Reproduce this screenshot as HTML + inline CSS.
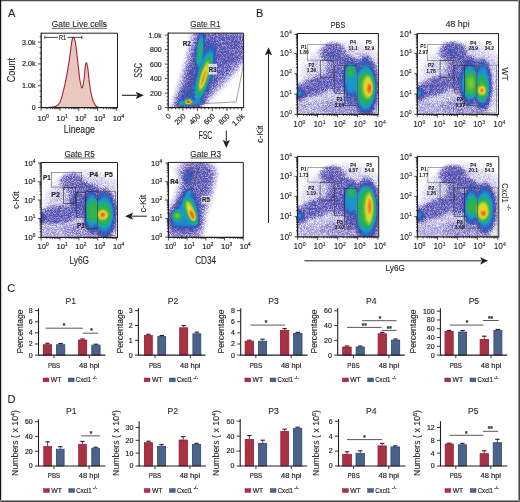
<!DOCTYPE html>
<html><head><meta charset="utf-8"><style>html,body{margin:0;padding:0;background:#fff;} svg{display:block;} text{font-family:"Liberation Sans", sans-serif;}</style></head>
<body><svg width="520" height="502" viewBox="0 0 520 502" font-family='"Liberation Sans", sans-serif' style="will-change:transform">
<defs><radialGradient id="gg"><stop offset="0" stop-color="#fff" stop-opacity="1"/><stop offset="0.2" stop-color="#fff" stop-opacity="0.906"/><stop offset="0.4" stop-color="#fff" stop-opacity="0.674"/><stop offset="0.6" stop-color="#fff" stop-opacity="0.411"/><stop offset="0.8" stop-color="#fff" stop-opacity="0.19"/><stop offset="1" stop-color="#fff" stop-opacity="0"/></radialGradient><radialGradient id="gf"><stop offset="0" stop-color="#fff" stop-opacity="1"/><stop offset="0.55" stop-color="#fff" stop-opacity="0.97"/><stop offset="0.75" stop-color="#fff" stop-opacity="0.8"/><stop offset="0.88" stop-color="#fff" stop-opacity="0.45"/><stop offset="1" stop-color="#fff" stop-opacity="0"/></radialGradient><filter id="bl3" x="-20%" y="-20%" width="140%" height="140%"><feGaussianBlur stdDeviation="3"/></filter><filter id="bl2" x="-20%" y="-20%" width="140%" height="140%"><feGaussianBlur stdDeviation="2"/></filter><filter id="bl5" x="-30%" y="-30%" width="160%" height="160%"><feGaussianBlur stdDeviation="5"/></filter><filter id="cm1" filterUnits="userSpaceOnUse" x="168.20" y="33.10" width="75.40" height="74.50" color-interpolation-filters="sRGB">
<feGaussianBlur in="SourceGraphic" stdDeviation="1.0" result="sb"/>
<feColorMatrix in="sb" type="matrix" values="1 0 0 0 0  1 0 0 0 0  1 0 0 0 0  0 0 0 0 1" result="d"/>
<feTurbulence type="fractalNoise" baseFrequency="1.25" numOctaves="1" seed="3" result="nz"/>
<feColorMatrix in="nz" type="matrix" values="1 0 0 0 0  1 0 0 0 0  1 0 0 0 0  0 0 0 0 1" result="nz2"/>
<feComponentTransfer in="nz2" result="n"><feFuncR type="linear" slope="2.6" intercept="-0.8"/><feFuncG type="linear" slope="2.6" intercept="-0.8"/><feFuncB type="linear" slope="2.6" intercept="-0.8"/></feComponentTransfer>
<feComponentTransfer in="d" result="g"><feFuncR type="table" tableValues="0.0000 0.0299 0.0571 0.0816 0.1031 0.1217 0.1371 0.1493 0.1580 0.1631 0.1643 0.1612 0.1534 0.1402 0.1206 0.0926 0.0511 0.0000 0.0000 0.0000 0.0000 0.0000 0.0000 0.0000 0.0000 0.0000 0.0000 0.0000 0.0000 0.0000 0.0000 0.0000 0.0000"/><feFuncG type="table" tableValues="0.0000 0.0299 0.0571 0.0816 0.1031 0.1217 0.1371 0.1493 0.1580 0.1631 0.1643 0.1612 0.1534 0.1402 0.1206 0.0926 0.0511 0.0000 0.0000 0.0000 0.0000 0.0000 0.0000 0.0000 0.0000 0.0000 0.0000 0.0000 0.0000 0.0000 0.0000 0.0000 0.0000"/><feFuncB type="table" tableValues="0.0000 0.0299 0.0571 0.0816 0.1031 0.1217 0.1371 0.1493 0.1580 0.1631 0.1643 0.1612 0.1534 0.1402 0.1206 0.0926 0.0511 0.0000 0.0000 0.0000 0.0000 0.0000 0.0000 0.0000 0.0000 0.0000 0.0000 0.0000 0.0000 0.0000 0.0000 0.0000 0.0000"/></feComponentTransfer>
<feComponentTransfer in="d" result="h"><feFuncR type="table" tableValues="0.0000 0.0028 0.0082 0.0163 0.0270 0.0407 0.0573 0.0769 0.0999 0.1263 0.1564 0.1906 0.2293 0.2731 0.3229 0.3808 0.4514 0.5312 0.5625 0.5938 0.6250 0.6562 0.6875 0.7188 0.7500 0.7812 0.8125 0.8438 0.8750 0.9062 0.9375 0.9688 1.0000"/><feFuncG type="table" tableValues="0.0000 0.0028 0.0082 0.0163 0.0270 0.0407 0.0573 0.0769 0.0999 0.1263 0.1564 0.1906 0.2293 0.2731 0.3229 0.3808 0.4514 0.5312 0.5625 0.5938 0.6250 0.6562 0.6875 0.7188 0.7500 0.7812 0.8125 0.8438 0.8750 0.9062 0.9375 0.9688 1.0000"/><feFuncB type="table" tableValues="0.0000 0.0028 0.0082 0.0163 0.0270 0.0407 0.0573 0.0769 0.0999 0.1263 0.1564 0.1906 0.2293 0.2731 0.3229 0.3808 0.4514 0.5312 0.5625 0.5938 0.6250 0.6562 0.6875 0.7188 0.7500 0.7812 0.8125 0.8438 0.8750 0.9062 0.9375 0.9688 1.0000"/></feComponentTransfer>
<feComposite in="g" in2="n" operator="arithmetic" k1="1" k2="0" k3="0" k4="0" result="p"/>
<feComposite in="h" in2="p" operator="arithmetic" k1="0" k2="1" k3="1.900" k4="0" result="dn"/>
<feColorMatrix in="dn" type="matrix" values="1 0 0 0 0  1 0 0 0 0  1 0 0 0 0  0 0 0 0 1" result="d2"/>
<feComponentTransfer in="d2"><feFuncR type="table" tableValues="1.000 0.953 0.902 0.843 0.784 0.741 0.698 0.655 0.612 0.571 0.529 0.488 0.447 0.412 0.376 0.341 0.306 0.272 0.237 0.203 0.174 0.146 0.118 0.109 0.101 0.099 0.121 0.143 0.206 0.328 0.451 0.576 0.710 0.845 0.927 0.932 0.937 0.938 0.921 0.903 0.886"/><feFuncG type="table" tableValues="1.000 0.949 0.893 0.831 0.769 0.724 0.678 0.633 0.588 0.545 0.502 0.459 0.416 0.384 0.353 0.322 0.290 0.302 0.315 0.327 0.394 0.476 0.557 0.596 0.635 0.668 0.673 0.679 0.695 0.727 0.759 0.790 0.818 0.846 0.820 0.712 0.604 0.498 0.400 0.302 0.204"/><feFuncB type="table" tableValues="1.000 0.983 0.963 0.941 0.918 0.896 0.875 0.853 0.831 0.810 0.788 0.767 0.745 0.725 0.706 0.686 0.667 0.684 0.701 0.718 0.751 0.787 0.824 0.754 0.683 0.605 0.493 0.381 0.297 0.255 0.214 0.179 0.174 0.168 0.164 0.161 0.159 0.156 0.151 0.146 0.141"/></feComponentTransfer>
</filter><radialGradient id="q1"><stop offset="0" stop-color="#939393"/><stop offset="0.55" stop-color="#8e8e8e"/><stop offset="0.75" stop-color="#757575"/><stop offset="0.88" stop-color="#424242"/><stop offset="1.0" stop-color="#000000"/></radialGradient><radialGradient id="q2"><stop offset="0" stop-color="#bababa"/><stop offset="0.55" stop-color="#b5b5b5"/><stop offset="0.75" stop-color="#959595"/><stop offset="0.88" stop-color="#545454"/><stop offset="1.0" stop-color="#000000"/></radialGradient><radialGradient id="q3"><stop offset="0" stop-color="#939393"/><stop offset="0.55" stop-color="#8e8e8e"/><stop offset="0.75" stop-color="#757575"/><stop offset="0.88" stop-color="#424242"/><stop offset="1.0" stop-color="#000000"/></radialGradient><radialGradient id="q4"><stop offset="0" stop-color="#b5b5b5"/><stop offset="0.55" stop-color="#b0b0b0"/><stop offset="0.75" stop-color="#919191"/><stop offset="0.88" stop-color="#515151"/><stop offset="1.0" stop-color="#000000"/></radialGradient><radialGradient id="q5"><stop offset="0" stop-color="#d7d7d7"/><stop offset="0.55" stop-color="#d1d1d1"/><stop offset="0.75" stop-color="#acacac"/><stop offset="0.88" stop-color="#616161"/><stop offset="1.0" stop-color="#000000"/></radialGradient><radialGradient id="q6"><stop offset="0" stop-color="#ededed"/><stop offset="0.55" stop-color="#e6e6e6"/><stop offset="0.75" stop-color="#bebebe"/><stop offset="0.88" stop-color="#6b6b6b"/><stop offset="1.0" stop-color="#000000"/></radialGradient><radialGradient id="q7"><stop offset="0" stop-color="#939393"/><stop offset="0.55" stop-color="#8e8e8e"/><stop offset="0.75" stop-color="#757575"/><stop offset="0.88" stop-color="#424242"/><stop offset="1.0" stop-color="#000000"/></radialGradient><radialGradient id="q8"><stop offset="0" stop-color="#939393"/><stop offset="0.55" stop-color="#8e8e8e"/><stop offset="0.75" stop-color="#757575"/><stop offset="0.88" stop-color="#424242"/><stop offset="1.0" stop-color="#000000"/></radialGradient><radialGradient id="q9"><stop offset="0" stop-color="#ffffff"/><stop offset="0.55" stop-color="#f7f7f7"/><stop offset="0.75" stop-color="#cccccc"/><stop offset="0.88" stop-color="#737373"/><stop offset="1.0" stop-color="#000000"/></radialGradient><radialGradient id="q10"><stop offset="0" stop-color="#bdbdbd"/><stop offset="0.55" stop-color="#b7b7b7"/><stop offset="0.75" stop-color="#979797"/><stop offset="0.88" stop-color="#555555"/><stop offset="1.0" stop-color="#000000"/></radialGradient><filter id="cm2" filterUnits="userSpaceOnUse" x="41.10" y="162.50" width="76.40" height="74.80" color-interpolation-filters="sRGB">
<feGaussianBlur in="SourceGraphic" stdDeviation="1.0" result="sb"/>
<feColorMatrix in="sb" type="matrix" values="1 0 0 0 0  1 0 0 0 0  1 0 0 0 0  0 0 0 0 1" result="d"/>
<feTurbulence type="fractalNoise" baseFrequency="1.25" numOctaves="1" seed="5" result="nz"/>
<feColorMatrix in="nz" type="matrix" values="1 0 0 0 0  1 0 0 0 0  1 0 0 0 0  0 0 0 0 1" result="nz2"/>
<feComponentTransfer in="nz2" result="n"><feFuncR type="linear" slope="2.6" intercept="-0.8"/><feFuncG type="linear" slope="2.6" intercept="-0.8"/><feFuncB type="linear" slope="2.6" intercept="-0.8"/></feComponentTransfer>
<feComponentTransfer in="d" result="g"><feFuncR type="table" tableValues="0.0000 0.0299 0.0571 0.0816 0.1031 0.1217 0.1371 0.1493 0.1580 0.1631 0.1643 0.1612 0.1534 0.1402 0.1206 0.0926 0.0511 0.0000 0.0000 0.0000 0.0000 0.0000 0.0000 0.0000 0.0000 0.0000 0.0000 0.0000 0.0000 0.0000 0.0000 0.0000 0.0000"/><feFuncG type="table" tableValues="0.0000 0.0299 0.0571 0.0816 0.1031 0.1217 0.1371 0.1493 0.1580 0.1631 0.1643 0.1612 0.1534 0.1402 0.1206 0.0926 0.0511 0.0000 0.0000 0.0000 0.0000 0.0000 0.0000 0.0000 0.0000 0.0000 0.0000 0.0000 0.0000 0.0000 0.0000 0.0000 0.0000"/><feFuncB type="table" tableValues="0.0000 0.0299 0.0571 0.0816 0.1031 0.1217 0.1371 0.1493 0.1580 0.1631 0.1643 0.1612 0.1534 0.1402 0.1206 0.0926 0.0511 0.0000 0.0000 0.0000 0.0000 0.0000 0.0000 0.0000 0.0000 0.0000 0.0000 0.0000 0.0000 0.0000 0.0000 0.0000 0.0000"/></feComponentTransfer>
<feComponentTransfer in="d" result="h"><feFuncR type="table" tableValues="0.0000 0.0028 0.0082 0.0163 0.0270 0.0407 0.0573 0.0769 0.0999 0.1263 0.1564 0.1906 0.2293 0.2731 0.3229 0.3808 0.4514 0.5312 0.5625 0.5938 0.6250 0.6562 0.6875 0.7188 0.7500 0.7812 0.8125 0.8438 0.8750 0.9062 0.9375 0.9688 1.0000"/><feFuncG type="table" tableValues="0.0000 0.0028 0.0082 0.0163 0.0270 0.0407 0.0573 0.0769 0.0999 0.1263 0.1564 0.1906 0.2293 0.2731 0.3229 0.3808 0.4514 0.5312 0.5625 0.5938 0.6250 0.6562 0.6875 0.7188 0.7500 0.7812 0.8125 0.8438 0.8750 0.9062 0.9375 0.9688 1.0000"/><feFuncB type="table" tableValues="0.0000 0.0028 0.0082 0.0163 0.0270 0.0407 0.0573 0.0769 0.0999 0.1263 0.1564 0.1906 0.2293 0.2731 0.3229 0.3808 0.4514 0.5312 0.5625 0.5938 0.6250 0.6562 0.6875 0.7188 0.7500 0.7812 0.8125 0.8438 0.8750 0.9062 0.9375 0.9688 1.0000"/></feComponentTransfer>
<feComposite in="g" in2="n" operator="arithmetic" k1="1" k2="0" k3="0" k4="0" result="p"/>
<feComposite in="h" in2="p" operator="arithmetic" k1="0" k2="1" k3="1.900" k4="0" result="dn"/>
<feColorMatrix in="dn" type="matrix" values="1 0 0 0 0  1 0 0 0 0  1 0 0 0 0  0 0 0 0 1" result="d2"/>
<feComponentTransfer in="d2"><feFuncR type="table" tableValues="1.000 0.953 0.902 0.843 0.784 0.741 0.698 0.655 0.612 0.571 0.529 0.488 0.447 0.412 0.376 0.341 0.306 0.272 0.237 0.203 0.174 0.146 0.118 0.109 0.101 0.099 0.121 0.143 0.206 0.328 0.451 0.576 0.710 0.845 0.927 0.932 0.937 0.938 0.921 0.903 0.886"/><feFuncG type="table" tableValues="1.000 0.949 0.893 0.831 0.769 0.724 0.678 0.633 0.588 0.545 0.502 0.459 0.416 0.384 0.353 0.322 0.290 0.302 0.315 0.327 0.394 0.476 0.557 0.596 0.635 0.668 0.673 0.679 0.695 0.727 0.759 0.790 0.818 0.846 0.820 0.712 0.604 0.498 0.400 0.302 0.204"/><feFuncB type="table" tableValues="1.000 0.983 0.963 0.941 0.918 0.896 0.875 0.853 0.831 0.810 0.788 0.767 0.745 0.725 0.706 0.686 0.667 0.684 0.701 0.718 0.751 0.787 0.824 0.754 0.683 0.605 0.493 0.381 0.297 0.255 0.214 0.179 0.174 0.168 0.164 0.161 0.159 0.156 0.151 0.146 0.141"/></feComponentTransfer>
</filter><radialGradient id="q11"><stop offset="0" stop-color="#1a1a1a"/><stop offset="0.55" stop-color="#191919"/><stop offset="0.75" stop-color="#141414"/><stop offset="0.88" stop-color="#0b0b0b"/><stop offset="1.0" stop-color="#000000"/></radialGradient><radialGradient id="q12"><stop offset="0" stop-color="#525252"/><stop offset="0.55" stop-color="#4f4f4f"/><stop offset="0.75" stop-color="#414141"/><stop offset="0.88" stop-color="#252525"/><stop offset="1.0" stop-color="#000000"/></radialGradient><radialGradient id="q13"><stop offset="0" stop-color="#808080"/><stop offset="0.2" stop-color="#747474"/><stop offset="0.4" stop-color="#565656"/><stop offset="0.6" stop-color="#343434"/><stop offset="0.8" stop-color="#181818"/><stop offset="1.0" stop-color="#000000"/></radialGradient><radialGradient id="q14"><stop offset="0" stop-color="#242424"/><stop offset="0.55" stop-color="#232323"/><stop offset="0.75" stop-color="#1d1d1d"/><stop offset="0.88" stop-color="#101010"/><stop offset="1.0" stop-color="#000000"/></radialGradient><radialGradient id="q15"><stop offset="0" stop-color="#474747"/><stop offset="0.55" stop-color="#454545"/><stop offset="0.75" stop-color="#393939"/><stop offset="0.88" stop-color="#202020"/><stop offset="1.0" stop-color="#000000"/></radialGradient><radialGradient id="q16"><stop offset="0" stop-color="#595959"/><stop offset="0.55" stop-color="#575757"/><stop offset="0.75" stop-color="#474747"/><stop offset="0.88" stop-color="#282828"/><stop offset="1.0" stop-color="#000000"/></radialGradient><radialGradient id="q17"><stop offset="0" stop-color="#575757"/><stop offset="0.2" stop-color="#4f4f4f"/><stop offset="0.4" stop-color="#3a3a3a"/><stop offset="0.6" stop-color="#242424"/><stop offset="0.8" stop-color="#101010"/><stop offset="1.0" stop-color="#000000"/></radialGradient><radialGradient id="q18"><stop offset="0" stop-color="#575757"/><stop offset="0.55" stop-color="#545454"/><stop offset="0.75" stop-color="#454545"/><stop offset="0.88" stop-color="#272727"/><stop offset="1.0" stop-color="#000000"/></radialGradient><radialGradient id="q19"><stop offset="0" stop-color="#474747"/><stop offset="0.55" stop-color="#454545"/><stop offset="0.75" stop-color="#393939"/><stop offset="0.88" stop-color="#202020"/><stop offset="1.0" stop-color="#000000"/></radialGradient><radialGradient id="q20"><stop offset="0" stop-color="#333333"/><stop offset="0.55" stop-color="#313131"/><stop offset="0.75" stop-color="#292929"/><stop offset="0.88" stop-color="#171717"/><stop offset="1.0" stop-color="#000000"/></radialGradient><radialGradient id="q21"><stop offset="0" stop-color="#939393"/><stop offset="0.55" stop-color="#8e8e8e"/><stop offset="0.75" stop-color="#757575"/><stop offset="0.88" stop-color="#424242"/><stop offset="1.0" stop-color="#000000"/></radialGradient><radialGradient id="q22"><stop offset="0" stop-color="#b5b5b5"/><stop offset="0.55" stop-color="#b0b0b0"/><stop offset="0.75" stop-color="#919191"/><stop offset="0.88" stop-color="#515151"/><stop offset="1.0" stop-color="#000000"/></radialGradient><radialGradient id="q23"><stop offset="0" stop-color="#939393"/><stop offset="0.55" stop-color="#8e8e8e"/><stop offset="0.75" stop-color="#757575"/><stop offset="0.88" stop-color="#424242"/><stop offset="1.0" stop-color="#000000"/></radialGradient><radialGradient id="q24"><stop offset="0" stop-color="#b5b5b5"/><stop offset="0.55" stop-color="#b0b0b0"/><stop offset="0.75" stop-color="#919191"/><stop offset="0.88" stop-color="#515151"/><stop offset="1.0" stop-color="#000000"/></radialGradient><radialGradient id="q25"><stop offset="0" stop-color="#d7d7d7"/><stop offset="0.55" stop-color="#d1d1d1"/><stop offset="0.75" stop-color="#acacac"/><stop offset="0.88" stop-color="#616161"/><stop offset="1.0" stop-color="#000000"/></radialGradient><radialGradient id="q26"><stop offset="0" stop-color="#f7f7f7"/><stop offset="0.55" stop-color="#f0f0f0"/><stop offset="0.75" stop-color="#c6c6c6"/><stop offset="0.88" stop-color="#6f6f6f"/><stop offset="1.0" stop-color="#000000"/></radialGradient><filter id="cm3" filterUnits="userSpaceOnUse" x="168.40" y="162.40" width="74.90" height="74.90" color-interpolation-filters="sRGB">
<feGaussianBlur in="SourceGraphic" stdDeviation="1.0" result="sb"/>
<feColorMatrix in="sb" type="matrix" values="1 0 0 0 0  1 0 0 0 0  1 0 0 0 0  0 0 0 0 1" result="d"/>
<feTurbulence type="fractalNoise" baseFrequency="1.25" numOctaves="1" seed="7" result="nz"/>
<feColorMatrix in="nz" type="matrix" values="1 0 0 0 0  1 0 0 0 0  1 0 0 0 0  0 0 0 0 1" result="nz2"/>
<feComponentTransfer in="nz2" result="n"><feFuncR type="linear" slope="2.6" intercept="-0.8"/><feFuncG type="linear" slope="2.6" intercept="-0.8"/><feFuncB type="linear" slope="2.6" intercept="-0.8"/></feComponentTransfer>
<feComponentTransfer in="d" result="g"><feFuncR type="table" tableValues="0.0000 0.0299 0.0571 0.0816 0.1031 0.1217 0.1371 0.1493 0.1580 0.1631 0.1643 0.1612 0.1534 0.1402 0.1206 0.0926 0.0511 0.0000 0.0000 0.0000 0.0000 0.0000 0.0000 0.0000 0.0000 0.0000 0.0000 0.0000 0.0000 0.0000 0.0000 0.0000 0.0000"/><feFuncG type="table" tableValues="0.0000 0.0299 0.0571 0.0816 0.1031 0.1217 0.1371 0.1493 0.1580 0.1631 0.1643 0.1612 0.1534 0.1402 0.1206 0.0926 0.0511 0.0000 0.0000 0.0000 0.0000 0.0000 0.0000 0.0000 0.0000 0.0000 0.0000 0.0000 0.0000 0.0000 0.0000 0.0000 0.0000"/><feFuncB type="table" tableValues="0.0000 0.0299 0.0571 0.0816 0.1031 0.1217 0.1371 0.1493 0.1580 0.1631 0.1643 0.1612 0.1534 0.1402 0.1206 0.0926 0.0511 0.0000 0.0000 0.0000 0.0000 0.0000 0.0000 0.0000 0.0000 0.0000 0.0000 0.0000 0.0000 0.0000 0.0000 0.0000 0.0000"/></feComponentTransfer>
<feComponentTransfer in="d" result="h"><feFuncR type="table" tableValues="0.0000 0.0028 0.0082 0.0163 0.0270 0.0407 0.0573 0.0769 0.0999 0.1263 0.1564 0.1906 0.2293 0.2731 0.3229 0.3808 0.4514 0.5312 0.5625 0.5938 0.6250 0.6562 0.6875 0.7188 0.7500 0.7812 0.8125 0.8438 0.8750 0.9062 0.9375 0.9688 1.0000"/><feFuncG type="table" tableValues="0.0000 0.0028 0.0082 0.0163 0.0270 0.0407 0.0573 0.0769 0.0999 0.1263 0.1564 0.1906 0.2293 0.2731 0.3229 0.3808 0.4514 0.5312 0.5625 0.5938 0.6250 0.6562 0.6875 0.7188 0.7500 0.7812 0.8125 0.8438 0.8750 0.9062 0.9375 0.9688 1.0000"/><feFuncB type="table" tableValues="0.0000 0.0028 0.0082 0.0163 0.0270 0.0407 0.0573 0.0769 0.0999 0.1263 0.1564 0.1906 0.2293 0.2731 0.3229 0.3808 0.4514 0.5312 0.5625 0.5938 0.6250 0.6562 0.6875 0.7188 0.7500 0.7812 0.8125 0.8438 0.8750 0.9062 0.9375 0.9688 1.0000"/></feComponentTransfer>
<feComposite in="g" in2="n" operator="arithmetic" k1="1" k2="0" k3="0" k4="0" result="p"/>
<feComposite in="h" in2="p" operator="arithmetic" k1="0" k2="1" k3="1.900" k4="0" result="dn"/>
<feColorMatrix in="dn" type="matrix" values="1 0 0 0 0  1 0 0 0 0  1 0 0 0 0  0 0 0 0 1" result="d2"/>
<feComponentTransfer in="d2"><feFuncR type="table" tableValues="1.000 0.953 0.902 0.843 0.784 0.741 0.698 0.655 0.612 0.571 0.529 0.488 0.447 0.412 0.376 0.341 0.306 0.272 0.237 0.203 0.174 0.146 0.118 0.109 0.101 0.099 0.121 0.143 0.206 0.328 0.451 0.576 0.710 0.845 0.927 0.932 0.937 0.938 0.921 0.903 0.886"/><feFuncG type="table" tableValues="1.000 0.949 0.893 0.831 0.769 0.724 0.678 0.633 0.588 0.545 0.502 0.459 0.416 0.384 0.353 0.322 0.290 0.302 0.315 0.327 0.394 0.476 0.557 0.596 0.635 0.668 0.673 0.679 0.695 0.727 0.759 0.790 0.818 0.846 0.820 0.712 0.604 0.498 0.400 0.302 0.204"/><feFuncB type="table" tableValues="1.000 0.983 0.963 0.941 0.918 0.896 0.875 0.853 0.831 0.810 0.788 0.767 0.745 0.725 0.706 0.686 0.667 0.684 0.701 0.718 0.751 0.787 0.824 0.754 0.683 0.605 0.493 0.381 0.297 0.255 0.214 0.179 0.174 0.168 0.164 0.161 0.159 0.156 0.151 0.146 0.141"/></feComponentTransfer>
</filter><radialGradient id="q27"><stop offset="0" stop-color="#787878"/><stop offset="0.55" stop-color="#747474"/><stop offset="0.75" stop-color="#606060"/><stop offset="0.88" stop-color="#363636"/><stop offset="1.0" stop-color="#000000"/></radialGradient><radialGradient id="q28"><stop offset="0" stop-color="#b5b5b5"/><stop offset="0.55" stop-color="#b0b0b0"/><stop offset="0.75" stop-color="#919191"/><stop offset="0.88" stop-color="#515151"/><stop offset="1.0" stop-color="#000000"/></radialGradient><radialGradient id="q29"><stop offset="0" stop-color="#c9c9c9"/><stop offset="0.55" stop-color="#c3c3c3"/><stop offset="0.75" stop-color="#a1a1a1"/><stop offset="0.88" stop-color="#5b5b5b"/><stop offset="1.0" stop-color="#000000"/></radialGradient><radialGradient id="q30"><stop offset="0" stop-color="#b5b5b5"/><stop offset="0.55" stop-color="#b0b0b0"/><stop offset="0.75" stop-color="#919191"/><stop offset="0.88" stop-color="#515151"/><stop offset="1.0" stop-color="#000000"/></radialGradient><radialGradient id="q31"><stop offset="0" stop-color="#d7d7d7"/><stop offset="0.55" stop-color="#d1d1d1"/><stop offset="0.75" stop-color="#acacac"/><stop offset="0.88" stop-color="#616161"/><stop offset="1.0" stop-color="#000000"/></radialGradient><radialGradient id="q32"><stop offset="0" stop-color="#f7f7f7"/><stop offset="0.55" stop-color="#f0f0f0"/><stop offset="0.75" stop-color="#c6c6c6"/><stop offset="0.88" stop-color="#6f6f6f"/><stop offset="1.0" stop-color="#000000"/></radialGradient><radialGradient id="q33"><stop offset="0" stop-color="#999999"/><stop offset="0.55" stop-color="#949494"/><stop offset="0.75" stop-color="#7a7a7a"/><stop offset="0.88" stop-color="#454545"/><stop offset="1.0" stop-color="#000000"/></radialGradient><filter id="cb0" filterUnits="userSpaceOnUse" x="297.35" y="33.50" width="81.05" height="80.90" color-interpolation-filters="sRGB">
<feGaussianBlur in="SourceGraphic" stdDeviation="1.0" result="sb"/>
<feColorMatrix in="sb" type="matrix" values="1 0 0 0 0  1 0 0 0 0  1 0 0 0 0  0 0 0 0 1" result="d"/>
<feTurbulence type="fractalNoise" baseFrequency="1.25" numOctaves="1" seed="11" result="nz"/>
<feColorMatrix in="nz" type="matrix" values="1 0 0 0 0  1 0 0 0 0  1 0 0 0 0  0 0 0 0 1" result="nz2"/>
<feComponentTransfer in="nz2" result="n"><feFuncR type="linear" slope="2.6" intercept="-0.8"/><feFuncG type="linear" slope="2.6" intercept="-0.8"/><feFuncB type="linear" slope="2.6" intercept="-0.8"/></feComponentTransfer>
<feComponentTransfer in="d" result="g"><feFuncR type="table" tableValues="0.0000 0.0299 0.0571 0.0816 0.1031 0.1217 0.1371 0.1493 0.1580 0.1631 0.1643 0.1612 0.1534 0.1402 0.1206 0.0926 0.0511 0.0000 0.0000 0.0000 0.0000 0.0000 0.0000 0.0000 0.0000 0.0000 0.0000 0.0000 0.0000 0.0000 0.0000 0.0000 0.0000"/><feFuncG type="table" tableValues="0.0000 0.0299 0.0571 0.0816 0.1031 0.1217 0.1371 0.1493 0.1580 0.1631 0.1643 0.1612 0.1534 0.1402 0.1206 0.0926 0.0511 0.0000 0.0000 0.0000 0.0000 0.0000 0.0000 0.0000 0.0000 0.0000 0.0000 0.0000 0.0000 0.0000 0.0000 0.0000 0.0000"/><feFuncB type="table" tableValues="0.0000 0.0299 0.0571 0.0816 0.1031 0.1217 0.1371 0.1493 0.1580 0.1631 0.1643 0.1612 0.1534 0.1402 0.1206 0.0926 0.0511 0.0000 0.0000 0.0000 0.0000 0.0000 0.0000 0.0000 0.0000 0.0000 0.0000 0.0000 0.0000 0.0000 0.0000 0.0000 0.0000"/></feComponentTransfer>
<feComponentTransfer in="d" result="h"><feFuncR type="table" tableValues="0.0000 0.0028 0.0082 0.0163 0.0270 0.0407 0.0573 0.0769 0.0999 0.1263 0.1564 0.1906 0.2293 0.2731 0.3229 0.3808 0.4514 0.5312 0.5625 0.5938 0.6250 0.6562 0.6875 0.7188 0.7500 0.7812 0.8125 0.8438 0.8750 0.9062 0.9375 0.9688 1.0000"/><feFuncG type="table" tableValues="0.0000 0.0028 0.0082 0.0163 0.0270 0.0407 0.0573 0.0769 0.0999 0.1263 0.1564 0.1906 0.2293 0.2731 0.3229 0.3808 0.4514 0.5312 0.5625 0.5938 0.6250 0.6562 0.6875 0.7188 0.7500 0.7812 0.8125 0.8438 0.8750 0.9062 0.9375 0.9688 1.0000"/><feFuncB type="table" tableValues="0.0000 0.0028 0.0082 0.0163 0.0270 0.0407 0.0573 0.0769 0.0999 0.1263 0.1564 0.1906 0.2293 0.2731 0.3229 0.3808 0.4514 0.5312 0.5625 0.5938 0.6250 0.6562 0.6875 0.7188 0.7500 0.7812 0.8125 0.8438 0.8750 0.9062 0.9375 0.9688 1.0000"/></feComponentTransfer>
<feComposite in="g" in2="n" operator="arithmetic" k1="1" k2="0" k3="0" k4="0" result="p"/>
<feComposite in="h" in2="p" operator="arithmetic" k1="0" k2="1" k3="1.900" k4="0" result="dn"/>
<feColorMatrix in="dn" type="matrix" values="1 0 0 0 0  1 0 0 0 0  1 0 0 0 0  0 0 0 0 1" result="d2"/>
<feComponentTransfer in="d2"><feFuncR type="table" tableValues="1.000 0.953 0.902 0.843 0.784 0.741 0.698 0.655 0.612 0.571 0.529 0.488 0.447 0.412 0.376 0.341 0.306 0.272 0.237 0.203 0.174 0.146 0.118 0.109 0.101 0.099 0.121 0.143 0.206 0.328 0.451 0.576 0.710 0.845 0.927 0.932 0.937 0.938 0.921 0.903 0.886"/><feFuncG type="table" tableValues="1.000 0.949 0.893 0.831 0.769 0.724 0.678 0.633 0.588 0.545 0.502 0.459 0.416 0.384 0.353 0.322 0.290 0.302 0.315 0.327 0.394 0.476 0.557 0.596 0.635 0.668 0.673 0.679 0.695 0.727 0.759 0.790 0.818 0.846 0.820 0.712 0.604 0.498 0.400 0.302 0.204"/><feFuncB type="table" tableValues="1.000 0.983 0.963 0.941 0.918 0.896 0.875 0.853 0.831 0.810 0.788 0.767 0.745 0.725 0.706 0.686 0.667 0.684 0.701 0.718 0.751 0.787 0.824 0.754 0.683 0.605 0.493 0.381 0.297 0.255 0.214 0.179 0.174 0.168 0.164 0.161 0.159 0.156 0.151 0.146 0.141"/></feComponentTransfer>
</filter><radialGradient id="q34"><stop offset="0" stop-color="#1a1a1a"/><stop offset="0.55" stop-color="#191919"/><stop offset="0.75" stop-color="#141414"/><stop offset="0.88" stop-color="#0b0b0b"/><stop offset="1.0" stop-color="#000000"/></radialGradient><radialGradient id="q35"><stop offset="0" stop-color="#525252"/><stop offset="0.55" stop-color="#4f4f4f"/><stop offset="0.75" stop-color="#414141"/><stop offset="0.88" stop-color="#252525"/><stop offset="1.0" stop-color="#000000"/></radialGradient><radialGradient id="q36"><stop offset="0" stop-color="#999999"/><stop offset="0.2" stop-color="#8b8b8b"/><stop offset="0.4" stop-color="#676767"/><stop offset="0.6" stop-color="#3f3f3f"/><stop offset="0.8" stop-color="#1d1d1d"/><stop offset="1.0" stop-color="#000000"/></radialGradient><radialGradient id="q37"><stop offset="0" stop-color="#242424"/><stop offset="0.55" stop-color="#232323"/><stop offset="0.75" stop-color="#1d1d1d"/><stop offset="0.88" stop-color="#101010"/><stop offset="1.0" stop-color="#000000"/></radialGradient><radialGradient id="q38"><stop offset="0" stop-color="#525252"/><stop offset="0.55" stop-color="#4f4f4f"/><stop offset="0.75" stop-color="#414141"/><stop offset="0.88" stop-color="#252525"/><stop offset="1.0" stop-color="#000000"/></radialGradient><radialGradient id="q39"><stop offset="0" stop-color="#545454"/><stop offset="0.55" stop-color="#525252"/><stop offset="0.75" stop-color="#434343"/><stop offset="0.88" stop-color="#262626"/><stop offset="1.0" stop-color="#000000"/></radialGradient><radialGradient id="q40"><stop offset="0" stop-color="#6b6b6b"/><stop offset="0.2" stop-color="#616161"/><stop offset="0.4" stop-color="#484848"/><stop offset="0.6" stop-color="#2c2c2c"/><stop offset="0.8" stop-color="#141414"/><stop offset="1.0" stop-color="#000000"/></radialGradient><radialGradient id="q41"><stop offset="0" stop-color="#575757"/><stop offset="0.55" stop-color="#545454"/><stop offset="0.75" stop-color="#454545"/><stop offset="0.88" stop-color="#272727"/><stop offset="1.0" stop-color="#000000"/></radialGradient><radialGradient id="q42"><stop offset="0" stop-color="#474747"/><stop offset="0.55" stop-color="#454545"/><stop offset="0.75" stop-color="#393939"/><stop offset="0.88" stop-color="#202020"/><stop offset="1.0" stop-color="#000000"/></radialGradient><radialGradient id="q43"><stop offset="0" stop-color="#333333"/><stop offset="0.55" stop-color="#313131"/><stop offset="0.75" stop-color="#292929"/><stop offset="0.88" stop-color="#171717"/><stop offset="1.0" stop-color="#000000"/></radialGradient><radialGradient id="q44"><stop offset="0" stop-color="#5c5c5c"/><stop offset="0.55" stop-color="#595959"/><stop offset="0.75" stop-color="#494949"/><stop offset="0.88" stop-color="#292929"/><stop offset="1.0" stop-color="#000000"/></radialGradient><radialGradient id="q45"><stop offset="0" stop-color="#939393"/><stop offset="0.55" stop-color="#8e8e8e"/><stop offset="0.75" stop-color="#757575"/><stop offset="0.88" stop-color="#424242"/><stop offset="1.0" stop-color="#000000"/></radialGradient><radialGradient id="q46"><stop offset="0" stop-color="#b5b5b5"/><stop offset="0.55" stop-color="#b0b0b0"/><stop offset="0.75" stop-color="#919191"/><stop offset="0.88" stop-color="#515151"/><stop offset="1.0" stop-color="#000000"/></radialGradient><radialGradient id="q47"><stop offset="0" stop-color="#939393"/><stop offset="0.55" stop-color="#8e8e8e"/><stop offset="0.75" stop-color="#757575"/><stop offset="0.88" stop-color="#424242"/><stop offset="1.0" stop-color="#000000"/></radialGradient><radialGradient id="q48"><stop offset="0" stop-color="#b5b5b5"/><stop offset="0.55" stop-color="#b0b0b0"/><stop offset="0.75" stop-color="#919191"/><stop offset="0.88" stop-color="#515151"/><stop offset="1.0" stop-color="#000000"/></radialGradient><radialGradient id="q49"><stop offset="0" stop-color="#d7d7d7"/><stop offset="0.55" stop-color="#d1d1d1"/><stop offset="0.75" stop-color="#acacac"/><stop offset="0.88" stop-color="#616161"/><stop offset="1.0" stop-color="#000000"/></radialGradient><radialGradient id="q50"><stop offset="0" stop-color="#f7f7f7"/><stop offset="0.55" stop-color="#f0f0f0"/><stop offset="0.75" stop-color="#c6c6c6"/><stop offset="0.88" stop-color="#6f6f6f"/><stop offset="1.0" stop-color="#000000"/></radialGradient><filter id="cb1" filterUnits="userSpaceOnUse" x="417.30" y="33.60" width="81.20" height="80.80" color-interpolation-filters="sRGB">
<feGaussianBlur in="SourceGraphic" stdDeviation="1.0" result="sb"/>
<feColorMatrix in="sb" type="matrix" values="1 0 0 0 0  1 0 0 0 0  1 0 0 0 0  0 0 0 0 1" result="d"/>
<feTurbulence type="fractalNoise" baseFrequency="1.25" numOctaves="1" seed="13" result="nz"/>
<feColorMatrix in="nz" type="matrix" values="1 0 0 0 0  1 0 0 0 0  1 0 0 0 0  0 0 0 0 1" result="nz2"/>
<feComponentTransfer in="nz2" result="n"><feFuncR type="linear" slope="2.6" intercept="-0.8"/><feFuncG type="linear" slope="2.6" intercept="-0.8"/><feFuncB type="linear" slope="2.6" intercept="-0.8"/></feComponentTransfer>
<feComponentTransfer in="d" result="g"><feFuncR type="table" tableValues="0.0000 0.0299 0.0571 0.0816 0.1031 0.1217 0.1371 0.1493 0.1580 0.1631 0.1643 0.1612 0.1534 0.1402 0.1206 0.0926 0.0511 0.0000 0.0000 0.0000 0.0000 0.0000 0.0000 0.0000 0.0000 0.0000 0.0000 0.0000 0.0000 0.0000 0.0000 0.0000 0.0000"/><feFuncG type="table" tableValues="0.0000 0.0299 0.0571 0.0816 0.1031 0.1217 0.1371 0.1493 0.1580 0.1631 0.1643 0.1612 0.1534 0.1402 0.1206 0.0926 0.0511 0.0000 0.0000 0.0000 0.0000 0.0000 0.0000 0.0000 0.0000 0.0000 0.0000 0.0000 0.0000 0.0000 0.0000 0.0000 0.0000"/><feFuncB type="table" tableValues="0.0000 0.0299 0.0571 0.0816 0.1031 0.1217 0.1371 0.1493 0.1580 0.1631 0.1643 0.1612 0.1534 0.1402 0.1206 0.0926 0.0511 0.0000 0.0000 0.0000 0.0000 0.0000 0.0000 0.0000 0.0000 0.0000 0.0000 0.0000 0.0000 0.0000 0.0000 0.0000 0.0000"/></feComponentTransfer>
<feComponentTransfer in="d" result="h"><feFuncR type="table" tableValues="0.0000 0.0028 0.0082 0.0163 0.0270 0.0407 0.0573 0.0769 0.0999 0.1263 0.1564 0.1906 0.2293 0.2731 0.3229 0.3808 0.4514 0.5312 0.5625 0.5938 0.6250 0.6562 0.6875 0.7188 0.7500 0.7812 0.8125 0.8438 0.8750 0.9062 0.9375 0.9688 1.0000"/><feFuncG type="table" tableValues="0.0000 0.0028 0.0082 0.0163 0.0270 0.0407 0.0573 0.0769 0.0999 0.1263 0.1564 0.1906 0.2293 0.2731 0.3229 0.3808 0.4514 0.5312 0.5625 0.5938 0.6250 0.6562 0.6875 0.7188 0.7500 0.7812 0.8125 0.8438 0.8750 0.9062 0.9375 0.9688 1.0000"/><feFuncB type="table" tableValues="0.0000 0.0028 0.0082 0.0163 0.0270 0.0407 0.0573 0.0769 0.0999 0.1263 0.1564 0.1906 0.2293 0.2731 0.3229 0.3808 0.4514 0.5312 0.5625 0.5938 0.6250 0.6562 0.6875 0.7188 0.7500 0.7812 0.8125 0.8438 0.8750 0.9062 0.9375 0.9688 1.0000"/></feComponentTransfer>
<feComposite in="g" in2="n" operator="arithmetic" k1="1" k2="0" k3="0" k4="0" result="p"/>
<feComposite in="h" in2="p" operator="arithmetic" k1="0" k2="1" k3="1.900" k4="0" result="dn"/>
<feColorMatrix in="dn" type="matrix" values="1 0 0 0 0  1 0 0 0 0  1 0 0 0 0  0 0 0 0 1" result="d2"/>
<feComponentTransfer in="d2"><feFuncR type="table" tableValues="1.000 0.953 0.902 0.843 0.784 0.741 0.698 0.655 0.612 0.571 0.529 0.488 0.447 0.412 0.376 0.341 0.306 0.272 0.237 0.203 0.174 0.146 0.118 0.109 0.101 0.099 0.121 0.143 0.206 0.328 0.451 0.576 0.710 0.845 0.927 0.932 0.937 0.938 0.921 0.903 0.886"/><feFuncG type="table" tableValues="1.000 0.949 0.893 0.831 0.769 0.724 0.678 0.633 0.588 0.545 0.502 0.459 0.416 0.384 0.353 0.322 0.290 0.302 0.315 0.327 0.394 0.476 0.557 0.596 0.635 0.668 0.673 0.679 0.695 0.727 0.759 0.790 0.818 0.846 0.820 0.712 0.604 0.498 0.400 0.302 0.204"/><feFuncB type="table" tableValues="1.000 0.983 0.963 0.941 0.918 0.896 0.875 0.853 0.831 0.810 0.788 0.767 0.745 0.725 0.706 0.686 0.667 0.684 0.701 0.718 0.751 0.787 0.824 0.754 0.683 0.605 0.493 0.381 0.297 0.255 0.214 0.179 0.174 0.168 0.164 0.161 0.159 0.156 0.151 0.146 0.141"/></feComponentTransfer>
</filter><radialGradient id="q51"><stop offset="0" stop-color="#1a1a1a"/><stop offset="0.55" stop-color="#191919"/><stop offset="0.75" stop-color="#141414"/><stop offset="0.88" stop-color="#0b0b0b"/><stop offset="1.0" stop-color="#000000"/></radialGradient><radialGradient id="q52"><stop offset="0" stop-color="#525252"/><stop offset="0.55" stop-color="#4f4f4f"/><stop offset="0.75" stop-color="#414141"/><stop offset="0.88" stop-color="#252525"/><stop offset="1.0" stop-color="#000000"/></radialGradient><radialGradient id="q53"><stop offset="0" stop-color="#999999"/><stop offset="0.2" stop-color="#8b8b8b"/><stop offset="0.4" stop-color="#676767"/><stop offset="0.6" stop-color="#3f3f3f"/><stop offset="0.8" stop-color="#1d1d1d"/><stop offset="1.0" stop-color="#000000"/></radialGradient><radialGradient id="q54"><stop offset="0" stop-color="#242424"/><stop offset="0.55" stop-color="#232323"/><stop offset="0.75" stop-color="#1d1d1d"/><stop offset="0.88" stop-color="#101010"/><stop offset="1.0" stop-color="#000000"/></radialGradient><radialGradient id="q55"><stop offset="0" stop-color="#575757"/><stop offset="0.55" stop-color="#545454"/><stop offset="0.75" stop-color="#454545"/><stop offset="0.88" stop-color="#272727"/><stop offset="1.0" stop-color="#000000"/></radialGradient><radialGradient id="q56"><stop offset="0" stop-color="#545454"/><stop offset="0.55" stop-color="#525252"/><stop offset="0.75" stop-color="#434343"/><stop offset="0.88" stop-color="#262626"/><stop offset="1.0" stop-color="#000000"/></radialGradient><radialGradient id="q57"><stop offset="0" stop-color="#858585"/><stop offset="0.2" stop-color="#787878"/><stop offset="0.4" stop-color="#595959"/><stop offset="0.6" stop-color="#363636"/><stop offset="0.8" stop-color="#191919"/><stop offset="1.0" stop-color="#000000"/></radialGradient><radialGradient id="q58"><stop offset="0" stop-color="#575757"/><stop offset="0.55" stop-color="#545454"/><stop offset="0.75" stop-color="#454545"/><stop offset="0.88" stop-color="#272727"/><stop offset="1.0" stop-color="#000000"/></radialGradient><radialGradient id="q59"><stop offset="0" stop-color="#474747"/><stop offset="0.55" stop-color="#454545"/><stop offset="0.75" stop-color="#393939"/><stop offset="0.88" stop-color="#202020"/><stop offset="1.0" stop-color="#000000"/></radialGradient><radialGradient id="q60"><stop offset="0" stop-color="#333333"/><stop offset="0.55" stop-color="#313131"/><stop offset="0.75" stop-color="#292929"/><stop offset="0.88" stop-color="#171717"/><stop offset="1.0" stop-color="#000000"/></radialGradient><radialGradient id="q61"><stop offset="0" stop-color="#939393"/><stop offset="0.55" stop-color="#8e8e8e"/><stop offset="0.75" stop-color="#757575"/><stop offset="0.88" stop-color="#424242"/><stop offset="1.0" stop-color="#000000"/></radialGradient><radialGradient id="q62"><stop offset="0" stop-color="#bababa"/><stop offset="0.55" stop-color="#b5b5b5"/><stop offset="0.75" stop-color="#959595"/><stop offset="0.88" stop-color="#545454"/><stop offset="1.0" stop-color="#000000"/></radialGradient><radialGradient id="q63"><stop offset="0" stop-color="#c7c7c7"/><stop offset="0.55" stop-color="#c1c1c1"/><stop offset="0.75" stop-color="#9f9f9f"/><stop offset="0.88" stop-color="#5a5a5a"/><stop offset="1.0" stop-color="#000000"/></radialGradient><radialGradient id="q64"><stop offset="0" stop-color="#939393"/><stop offset="0.55" stop-color="#8e8e8e"/><stop offset="0.75" stop-color="#757575"/><stop offset="0.88" stop-color="#424242"/><stop offset="1.0" stop-color="#000000"/></radialGradient><radialGradient id="q65"><stop offset="0" stop-color="#b5b5b5"/><stop offset="0.55" stop-color="#b0b0b0"/><stop offset="0.75" stop-color="#919191"/><stop offset="0.88" stop-color="#515151"/><stop offset="1.0" stop-color="#000000"/></radialGradient><radialGradient id="q66"><stop offset="0" stop-color="#d7d7d7"/><stop offset="0.55" stop-color="#d1d1d1"/><stop offset="0.75" stop-color="#acacac"/><stop offset="0.88" stop-color="#616161"/><stop offset="1.0" stop-color="#000000"/></radialGradient><radialGradient id="q67"><stop offset="0" stop-color="#f7f7f7"/><stop offset="0.55" stop-color="#f0f0f0"/><stop offset="0.75" stop-color="#c6c6c6"/><stop offset="0.88" stop-color="#6f6f6f"/><stop offset="1.0" stop-color="#000000"/></radialGradient><filter id="cb2" filterUnits="userSpaceOnUse" x="297.50" y="156.60" width="81.20" height="80.20" color-interpolation-filters="sRGB">
<feGaussianBlur in="SourceGraphic" stdDeviation="1.0" result="sb"/>
<feColorMatrix in="sb" type="matrix" values="1 0 0 0 0  1 0 0 0 0  1 0 0 0 0  0 0 0 0 1" result="d"/>
<feTurbulence type="fractalNoise" baseFrequency="1.25" numOctaves="1" seed="17" result="nz"/>
<feColorMatrix in="nz" type="matrix" values="1 0 0 0 0  1 0 0 0 0  1 0 0 0 0  0 0 0 0 1" result="nz2"/>
<feComponentTransfer in="nz2" result="n"><feFuncR type="linear" slope="2.6" intercept="-0.8"/><feFuncG type="linear" slope="2.6" intercept="-0.8"/><feFuncB type="linear" slope="2.6" intercept="-0.8"/></feComponentTransfer>
<feComponentTransfer in="d" result="g"><feFuncR type="table" tableValues="0.0000 0.0299 0.0571 0.0816 0.1031 0.1217 0.1371 0.1493 0.1580 0.1631 0.1643 0.1612 0.1534 0.1402 0.1206 0.0926 0.0511 0.0000 0.0000 0.0000 0.0000 0.0000 0.0000 0.0000 0.0000 0.0000 0.0000 0.0000 0.0000 0.0000 0.0000 0.0000 0.0000"/><feFuncG type="table" tableValues="0.0000 0.0299 0.0571 0.0816 0.1031 0.1217 0.1371 0.1493 0.1580 0.1631 0.1643 0.1612 0.1534 0.1402 0.1206 0.0926 0.0511 0.0000 0.0000 0.0000 0.0000 0.0000 0.0000 0.0000 0.0000 0.0000 0.0000 0.0000 0.0000 0.0000 0.0000 0.0000 0.0000"/><feFuncB type="table" tableValues="0.0000 0.0299 0.0571 0.0816 0.1031 0.1217 0.1371 0.1493 0.1580 0.1631 0.1643 0.1612 0.1534 0.1402 0.1206 0.0926 0.0511 0.0000 0.0000 0.0000 0.0000 0.0000 0.0000 0.0000 0.0000 0.0000 0.0000 0.0000 0.0000 0.0000 0.0000 0.0000 0.0000"/></feComponentTransfer>
<feComponentTransfer in="d" result="h"><feFuncR type="table" tableValues="0.0000 0.0028 0.0082 0.0163 0.0270 0.0407 0.0573 0.0769 0.0999 0.1263 0.1564 0.1906 0.2293 0.2731 0.3229 0.3808 0.4514 0.5312 0.5625 0.5938 0.6250 0.6562 0.6875 0.7188 0.7500 0.7812 0.8125 0.8438 0.8750 0.9062 0.9375 0.9688 1.0000"/><feFuncG type="table" tableValues="0.0000 0.0028 0.0082 0.0163 0.0270 0.0407 0.0573 0.0769 0.0999 0.1263 0.1564 0.1906 0.2293 0.2731 0.3229 0.3808 0.4514 0.5312 0.5625 0.5938 0.6250 0.6562 0.6875 0.7188 0.7500 0.7812 0.8125 0.8438 0.8750 0.9062 0.9375 0.9688 1.0000"/><feFuncB type="table" tableValues="0.0000 0.0028 0.0082 0.0163 0.0270 0.0407 0.0573 0.0769 0.0999 0.1263 0.1564 0.1906 0.2293 0.2731 0.3229 0.3808 0.4514 0.5312 0.5625 0.5938 0.6250 0.6562 0.6875 0.7188 0.7500 0.7812 0.8125 0.8438 0.8750 0.9062 0.9375 0.9688 1.0000"/></feComponentTransfer>
<feComposite in="g" in2="n" operator="arithmetic" k1="1" k2="0" k3="0" k4="0" result="p"/>
<feComposite in="h" in2="p" operator="arithmetic" k1="0" k2="1" k3="1.900" k4="0" result="dn"/>
<feColorMatrix in="dn" type="matrix" values="1 0 0 0 0  1 0 0 0 0  1 0 0 0 0  0 0 0 0 1" result="d2"/>
<feComponentTransfer in="d2"><feFuncR type="table" tableValues="1.000 0.953 0.902 0.843 0.784 0.741 0.698 0.655 0.612 0.571 0.529 0.488 0.447 0.412 0.376 0.341 0.306 0.272 0.237 0.203 0.174 0.146 0.118 0.109 0.101 0.099 0.121 0.143 0.206 0.328 0.451 0.576 0.710 0.845 0.927 0.932 0.937 0.938 0.921 0.903 0.886"/><feFuncG type="table" tableValues="1.000 0.949 0.893 0.831 0.769 0.724 0.678 0.633 0.588 0.545 0.502 0.459 0.416 0.384 0.353 0.322 0.290 0.302 0.315 0.327 0.394 0.476 0.557 0.596 0.635 0.668 0.673 0.679 0.695 0.727 0.759 0.790 0.818 0.846 0.820 0.712 0.604 0.498 0.400 0.302 0.204"/><feFuncB type="table" tableValues="1.000 0.983 0.963 0.941 0.918 0.896 0.875 0.853 0.831 0.810 0.788 0.767 0.745 0.725 0.706 0.686 0.667 0.684 0.701 0.718 0.751 0.787 0.824 0.754 0.683 0.605 0.493 0.381 0.297 0.255 0.214 0.179 0.174 0.168 0.164 0.161 0.159 0.156 0.151 0.146 0.141"/></feComponentTransfer>
</filter><radialGradient id="q68"><stop offset="0" stop-color="#1a1a1a"/><stop offset="0.55" stop-color="#191919"/><stop offset="0.75" stop-color="#141414"/><stop offset="0.88" stop-color="#0b0b0b"/><stop offset="1.0" stop-color="#000000"/></radialGradient><radialGradient id="q69"><stop offset="0" stop-color="#525252"/><stop offset="0.55" stop-color="#4f4f4f"/><stop offset="0.75" stop-color="#414141"/><stop offset="0.88" stop-color="#252525"/><stop offset="1.0" stop-color="#000000"/></radialGradient><radialGradient id="q70"><stop offset="0" stop-color="#999999"/><stop offset="0.2" stop-color="#8b8b8b"/><stop offset="0.4" stop-color="#676767"/><stop offset="0.6" stop-color="#3f3f3f"/><stop offset="0.8" stop-color="#1d1d1d"/><stop offset="1.0" stop-color="#000000"/></radialGradient><radialGradient id="q71"><stop offset="0" stop-color="#242424"/><stop offset="0.55" stop-color="#232323"/><stop offset="0.75" stop-color="#1d1d1d"/><stop offset="0.88" stop-color="#101010"/><stop offset="1.0" stop-color="#000000"/></radialGradient><radialGradient id="q72"><stop offset="0" stop-color="#4f4f4f"/><stop offset="0.55" stop-color="#4d4d4d"/><stop offset="0.75" stop-color="#3f3f3f"/><stop offset="0.88" stop-color="#242424"/><stop offset="1.0" stop-color="#000000"/></radialGradient><radialGradient id="q73"><stop offset="0" stop-color="#545454"/><stop offset="0.55" stop-color="#525252"/><stop offset="0.75" stop-color="#434343"/><stop offset="0.88" stop-color="#262626"/><stop offset="1.0" stop-color="#000000"/></radialGradient><radialGradient id="q74"><stop offset="0" stop-color="#6b6b6b"/><stop offset="0.2" stop-color="#616161"/><stop offset="0.4" stop-color="#484848"/><stop offset="0.6" stop-color="#2c2c2c"/><stop offset="0.8" stop-color="#141414"/><stop offset="1.0" stop-color="#000000"/></radialGradient><radialGradient id="q75"><stop offset="0" stop-color="#575757"/><stop offset="0.55" stop-color="#545454"/><stop offset="0.75" stop-color="#454545"/><stop offset="0.88" stop-color="#272727"/><stop offset="1.0" stop-color="#000000"/></radialGradient><radialGradient id="q76"><stop offset="0" stop-color="#474747"/><stop offset="0.55" stop-color="#454545"/><stop offset="0.75" stop-color="#393939"/><stop offset="0.88" stop-color="#202020"/><stop offset="1.0" stop-color="#000000"/></radialGradient><radialGradient id="q77"><stop offset="0" stop-color="#333333"/><stop offset="0.55" stop-color="#313131"/><stop offset="0.75" stop-color="#292929"/><stop offset="0.88" stop-color="#171717"/><stop offset="1.0" stop-color="#000000"/></radialGradient><radialGradient id="q78"><stop offset="0" stop-color="#5c5c5c"/><stop offset="0.55" stop-color="#595959"/><stop offset="0.75" stop-color="#494949"/><stop offset="0.88" stop-color="#292929"/><stop offset="1.0" stop-color="#000000"/></radialGradient><radialGradient id="q79"><stop offset="0" stop-color="#939393"/><stop offset="0.55" stop-color="#8e8e8e"/><stop offset="0.75" stop-color="#757575"/><stop offset="0.88" stop-color="#424242"/><stop offset="1.0" stop-color="#000000"/></radialGradient><radialGradient id="q80"><stop offset="0" stop-color="#b5b5b5"/><stop offset="0.55" stop-color="#b0b0b0"/><stop offset="0.75" stop-color="#919191"/><stop offset="0.88" stop-color="#515151"/><stop offset="1.0" stop-color="#000000"/></radialGradient><radialGradient id="q81"><stop offset="0" stop-color="#939393"/><stop offset="0.55" stop-color="#8e8e8e"/><stop offset="0.75" stop-color="#757575"/><stop offset="0.88" stop-color="#424242"/><stop offset="1.0" stop-color="#000000"/></radialGradient><radialGradient id="q82"><stop offset="0" stop-color="#b5b5b5"/><stop offset="0.55" stop-color="#b0b0b0"/><stop offset="0.75" stop-color="#919191"/><stop offset="0.88" stop-color="#515151"/><stop offset="1.0" stop-color="#000000"/></radialGradient><radialGradient id="q83"><stop offset="0" stop-color="#d7d7d7"/><stop offset="0.55" stop-color="#d1d1d1"/><stop offset="0.75" stop-color="#acacac"/><stop offset="0.88" stop-color="#616161"/><stop offset="1.0" stop-color="#000000"/></radialGradient><radialGradient id="q84"><stop offset="0" stop-color="#f2f2f2"/><stop offset="0.55" stop-color="#ebebeb"/><stop offset="0.75" stop-color="#c2c2c2"/><stop offset="0.88" stop-color="#6d6d6d"/><stop offset="1.0" stop-color="#000000"/></radialGradient><filter id="cb3" filterUnits="userSpaceOnUse" x="417.40" y="156.60" width="81.40" height="80.20" color-interpolation-filters="sRGB">
<feGaussianBlur in="SourceGraphic" stdDeviation="1.0" result="sb"/>
<feColorMatrix in="sb" type="matrix" values="1 0 0 0 0  1 0 0 0 0  1 0 0 0 0  0 0 0 0 1" result="d"/>
<feTurbulence type="fractalNoise" baseFrequency="1.25" numOctaves="1" seed="19" result="nz"/>
<feColorMatrix in="nz" type="matrix" values="1 0 0 0 0  1 0 0 0 0  1 0 0 0 0  0 0 0 0 1" result="nz2"/>
<feComponentTransfer in="nz2" result="n"><feFuncR type="linear" slope="2.6" intercept="-0.8"/><feFuncG type="linear" slope="2.6" intercept="-0.8"/><feFuncB type="linear" slope="2.6" intercept="-0.8"/></feComponentTransfer>
<feComponentTransfer in="d" result="g"><feFuncR type="table" tableValues="0.0000 0.0299 0.0571 0.0816 0.1031 0.1217 0.1371 0.1493 0.1580 0.1631 0.1643 0.1612 0.1534 0.1402 0.1206 0.0926 0.0511 0.0000 0.0000 0.0000 0.0000 0.0000 0.0000 0.0000 0.0000 0.0000 0.0000 0.0000 0.0000 0.0000 0.0000 0.0000 0.0000"/><feFuncG type="table" tableValues="0.0000 0.0299 0.0571 0.0816 0.1031 0.1217 0.1371 0.1493 0.1580 0.1631 0.1643 0.1612 0.1534 0.1402 0.1206 0.0926 0.0511 0.0000 0.0000 0.0000 0.0000 0.0000 0.0000 0.0000 0.0000 0.0000 0.0000 0.0000 0.0000 0.0000 0.0000 0.0000 0.0000"/><feFuncB type="table" tableValues="0.0000 0.0299 0.0571 0.0816 0.1031 0.1217 0.1371 0.1493 0.1580 0.1631 0.1643 0.1612 0.1534 0.1402 0.1206 0.0926 0.0511 0.0000 0.0000 0.0000 0.0000 0.0000 0.0000 0.0000 0.0000 0.0000 0.0000 0.0000 0.0000 0.0000 0.0000 0.0000 0.0000"/></feComponentTransfer>
<feComponentTransfer in="d" result="h"><feFuncR type="table" tableValues="0.0000 0.0028 0.0082 0.0163 0.0270 0.0407 0.0573 0.0769 0.0999 0.1263 0.1564 0.1906 0.2293 0.2731 0.3229 0.3808 0.4514 0.5312 0.5625 0.5938 0.6250 0.6562 0.6875 0.7188 0.7500 0.7812 0.8125 0.8438 0.8750 0.9062 0.9375 0.9688 1.0000"/><feFuncG type="table" tableValues="0.0000 0.0028 0.0082 0.0163 0.0270 0.0407 0.0573 0.0769 0.0999 0.1263 0.1564 0.1906 0.2293 0.2731 0.3229 0.3808 0.4514 0.5312 0.5625 0.5938 0.6250 0.6562 0.6875 0.7188 0.7500 0.7812 0.8125 0.8438 0.8750 0.9062 0.9375 0.9688 1.0000"/><feFuncB type="table" tableValues="0.0000 0.0028 0.0082 0.0163 0.0270 0.0407 0.0573 0.0769 0.0999 0.1263 0.1564 0.1906 0.2293 0.2731 0.3229 0.3808 0.4514 0.5312 0.5625 0.5938 0.6250 0.6562 0.6875 0.7188 0.7500 0.7812 0.8125 0.8438 0.8750 0.9062 0.9375 0.9688 1.0000"/></feComponentTransfer>
<feComposite in="g" in2="n" operator="arithmetic" k1="1" k2="0" k3="0" k4="0" result="p"/>
<feComposite in="h" in2="p" operator="arithmetic" k1="0" k2="1" k3="1.900" k4="0" result="dn"/>
<feColorMatrix in="dn" type="matrix" values="1 0 0 0 0  1 0 0 0 0  1 0 0 0 0  0 0 0 0 1" result="d2"/>
<feComponentTransfer in="d2"><feFuncR type="table" tableValues="1.000 0.953 0.902 0.843 0.784 0.741 0.698 0.655 0.612 0.571 0.529 0.488 0.447 0.412 0.376 0.341 0.306 0.272 0.237 0.203 0.174 0.146 0.118 0.109 0.101 0.099 0.121 0.143 0.206 0.328 0.451 0.576 0.710 0.845 0.927 0.932 0.937 0.938 0.921 0.903 0.886"/><feFuncG type="table" tableValues="1.000 0.949 0.893 0.831 0.769 0.724 0.678 0.633 0.588 0.545 0.502 0.459 0.416 0.384 0.353 0.322 0.290 0.302 0.315 0.327 0.394 0.476 0.557 0.596 0.635 0.668 0.673 0.679 0.695 0.727 0.759 0.790 0.818 0.846 0.820 0.712 0.604 0.498 0.400 0.302 0.204"/><feFuncB type="table" tableValues="1.000 0.983 0.963 0.941 0.918 0.896 0.875 0.853 0.831 0.810 0.788 0.767 0.745 0.725 0.706 0.686 0.667 0.684 0.701 0.718 0.751 0.787 0.824 0.754 0.683 0.605 0.493 0.381 0.297 0.255 0.214 0.179 0.174 0.168 0.164 0.161 0.159 0.156 0.151 0.146 0.141"/></feComponentTransfer>
</filter><radialGradient id="q85"><stop offset="0" stop-color="#1a1a1a"/><stop offset="0.55" stop-color="#191919"/><stop offset="0.75" stop-color="#141414"/><stop offset="0.88" stop-color="#0b0b0b"/><stop offset="1.0" stop-color="#000000"/></radialGradient><radialGradient id="q86"><stop offset="0" stop-color="#525252"/><stop offset="0.55" stop-color="#4f4f4f"/><stop offset="0.75" stop-color="#414141"/><stop offset="0.88" stop-color="#252525"/><stop offset="1.0" stop-color="#000000"/></radialGradient><radialGradient id="q87"><stop offset="0" stop-color="#999999"/><stop offset="0.2" stop-color="#8b8b8b"/><stop offset="0.4" stop-color="#676767"/><stop offset="0.6" stop-color="#3f3f3f"/><stop offset="0.8" stop-color="#1d1d1d"/><stop offset="1.0" stop-color="#000000"/></radialGradient><radialGradient id="q88"><stop offset="0" stop-color="#242424"/><stop offset="0.55" stop-color="#232323"/><stop offset="0.75" stop-color="#1d1d1d"/><stop offset="0.88" stop-color="#101010"/><stop offset="1.0" stop-color="#000000"/></radialGradient><radialGradient id="q89"><stop offset="0" stop-color="#545454"/><stop offset="0.55" stop-color="#525252"/><stop offset="0.75" stop-color="#434343"/><stop offset="0.88" stop-color="#262626"/><stop offset="1.0" stop-color="#000000"/></radialGradient><radialGradient id="q90"><stop offset="0" stop-color="#545454"/><stop offset="0.55" stop-color="#525252"/><stop offset="0.75" stop-color="#434343"/><stop offset="0.88" stop-color="#262626"/><stop offset="1.0" stop-color="#000000"/></radialGradient><radialGradient id="q91"><stop offset="0" stop-color="#737373"/><stop offset="0.2" stop-color="#686868"/><stop offset="0.4" stop-color="#4d4d4d"/><stop offset="0.6" stop-color="#2f2f2f"/><stop offset="0.8" stop-color="#161616"/><stop offset="1.0" stop-color="#000000"/></radialGradient><radialGradient id="q92"><stop offset="0" stop-color="#575757"/><stop offset="0.55" stop-color="#545454"/><stop offset="0.75" stop-color="#454545"/><stop offset="0.88" stop-color="#272727"/><stop offset="1.0" stop-color="#000000"/></radialGradient><radialGradient id="q93"><stop offset="0" stop-color="#474747"/><stop offset="0.55" stop-color="#454545"/><stop offset="0.75" stop-color="#393939"/><stop offset="0.88" stop-color="#202020"/><stop offset="1.0" stop-color="#000000"/></radialGradient><radialGradient id="q94"><stop offset="0" stop-color="#333333"/><stop offset="0.55" stop-color="#313131"/><stop offset="0.75" stop-color="#292929"/><stop offset="0.88" stop-color="#171717"/><stop offset="1.0" stop-color="#000000"/></radialGradient><radialGradient id="q95"><stop offset="0" stop-color="#939393"/><stop offset="0.55" stop-color="#8e8e8e"/><stop offset="0.75" stop-color="#757575"/><stop offset="0.88" stop-color="#424242"/><stop offset="1.0" stop-color="#000000"/></radialGradient><radialGradient id="q96"><stop offset="0" stop-color="#b5b5b5"/><stop offset="0.55" stop-color="#b0b0b0"/><stop offset="0.75" stop-color="#919191"/><stop offset="0.88" stop-color="#515151"/><stop offset="1.0" stop-color="#000000"/></radialGradient><radialGradient id="q97"><stop offset="0" stop-color="#939393"/><stop offset="0.55" stop-color="#8e8e8e"/><stop offset="0.75" stop-color="#757575"/><stop offset="0.88" stop-color="#424242"/><stop offset="1.0" stop-color="#000000"/></radialGradient><radialGradient id="q98"><stop offset="0" stop-color="#b5b5b5"/><stop offset="0.55" stop-color="#b0b0b0"/><stop offset="0.75" stop-color="#919191"/><stop offset="0.88" stop-color="#515151"/><stop offset="1.0" stop-color="#000000"/></radialGradient><radialGradient id="q99"><stop offset="0" stop-color="#d7d7d7"/><stop offset="0.55" stop-color="#d1d1d1"/><stop offset="0.75" stop-color="#acacac"/><stop offset="0.88" stop-color="#616161"/><stop offset="1.0" stop-color="#000000"/></radialGradient><radialGradient id="q100"><stop offset="0" stop-color="#f7f7f7"/><stop offset="0.55" stop-color="#f0f0f0"/><stop offset="0.75" stop-color="#c6c6c6"/><stop offset="0.88" stop-color="#6f6f6f"/><stop offset="1.0" stop-color="#000000"/></radialGradient></defs>
<rect x="0" y="0" width="520" height="502" fill="#fff"/>
<rect x="0.00" y="0.00" width="520.00" height="1.00" fill="#4d4d4d"/>
<rect x="0.00" y="1.00" width="520.00" height="0.60" fill="#b0b0b0"/>
<rect x="0.00" y="0.00" width="1.20" height="502.00" fill="#111"/>
<rect x="518.00" y="0.00" width="1.00" height="502.00" fill="#9a9a9a"/>
<rect x="519.00" y="0.00" width="1.00" height="502.00" fill="#444"/>
<rect x="0.00" y="500.00" width="520.00" height="1.00" fill="#9a9a9a"/>
<rect x="0.00" y="501.00" width="520.00" height="1.00" fill="#444"/>
<text x="8.00" y="17.00" font-size="11" text-anchor="start" fill="#231f20" stroke="#231f20" stroke-width="0.1">A</text>
<text x="256.00" y="16.90" font-size="11" text-anchor="start" fill="#231f20" stroke="#231f20" stroke-width="0.1">B</text>
<text x="7.20" y="292.30" font-size="11" text-anchor="start" fill="#231f20" stroke="#231f20" stroke-width="0.1">C</text>
<text x="7.60" y="403.20" font-size="11" text-anchor="start" fill="#231f20" stroke="#231f20" stroke-width="0.1">D</text>
<text x="79.40" y="27.30" font-size="8.9" text-anchor="middle" fill="#231f20" textLength="55.40" lengthAdjust="spacingAndGlyphs" stroke="#231f20" stroke-width="0.1">Gate Live cells</text>
<line x1="51.70" y1="28.30" x2="107.10" y2="28.30" stroke="#231f20" stroke-width="0.7"/>
<path d="M44.00,107.50 C44.93,107.47 47.62,107.52 49.60,107.30 C51.58,107.08 54.18,107.00 55.90,106.20 C57.62,105.40 58.70,104.83 59.90,102.50 C61.10,100.17 62.03,96.32 63.10,92.20 C64.17,88.08 65.23,83.38 66.30,77.80 C67.37,72.22 68.57,64.80 69.50,58.70 C70.43,52.60 71.23,44.77 71.90,41.20 C72.57,37.63 72.92,37.05 73.50,37.30 C74.08,37.55 74.68,38.60 75.40,42.70 C76.12,46.80 77.07,55.78 77.80,61.90 C78.53,68.02 79.13,75.05 79.80,79.40 C80.47,83.75 81.13,87.73 81.80,88.00 C82.47,88.27 83.20,84.68 83.80,81.00 C84.40,77.32 84.95,68.93 85.40,65.90 C85.85,62.87 86.10,62.42 86.50,62.80 C86.90,63.18 87.32,64.90 87.80,68.20 C88.28,71.50 88.73,77.82 89.40,82.60 C90.07,87.38 90.87,93.18 91.80,96.90 C92.73,100.62 93.93,103.17 95.00,104.90 C96.07,106.63 97.37,106.87 98.20,107.30 C99.03,107.73 99.70,107.47 100.00,107.50 Z" fill="#e9c8c0" stroke="none"/>
<path d="M44.00,107.50 C44.93,107.47 47.62,107.52 49.60,107.30 C51.58,107.08 54.18,107.00 55.90,106.20 C57.62,105.40 58.70,104.83 59.90,102.50 C61.10,100.17 62.03,96.32 63.10,92.20 C64.17,88.08 65.23,83.38 66.30,77.80 C67.37,72.22 68.57,64.80 69.50,58.70 C70.43,52.60 71.23,44.77 71.90,41.20 C72.57,37.63 72.92,37.05 73.50,37.30 C74.08,37.55 74.68,38.60 75.40,42.70 C76.12,46.80 77.07,55.78 77.80,61.90 C78.53,68.02 79.13,75.05 79.80,79.40 C80.47,83.75 81.13,87.73 81.80,88.00 C82.47,88.27 83.20,84.68 83.80,81.00 C84.40,77.32 84.95,68.93 85.40,65.90 C85.85,62.87 86.10,62.42 86.50,62.80 C86.90,63.18 87.32,64.90 87.80,68.20 C88.28,71.50 88.73,77.82 89.40,82.60 C90.07,87.38 90.87,93.18 91.80,96.90 C92.73,100.62 93.93,103.17 95.00,104.90 C96.07,106.63 97.37,106.87 98.20,107.30 C99.03,107.73 99.70,107.47 100.00,107.50" fill="none" stroke="#a3243a" stroke-width="1.1"/>
<line x1="44.80" y1="37.40" x2="57.80" y2="37.40" stroke="#231f20" stroke-width="0.8"/>
<line x1="67.30" y1="37.40" x2="81.80" y2="37.40" stroke="#231f20" stroke-width="0.8"/>
<line x1="44.80" y1="35.80" x2="44.80" y2="39.00" stroke="#231f20" stroke-width="0.8"/>
<line x1="81.80" y1="35.80" x2="81.80" y2="39.00" stroke="#231f20" stroke-width="0.8"/>
<text x="62.60" y="40.30" font-size="6.6" text-anchor="middle" fill="#231f20" textLength="7.20" lengthAdjust="spacingAndGlyphs" stroke="#231f20" stroke-width="0.18">R1</text>
<line x1="41.20" y1="33.20" x2="117.50" y2="33.20" stroke="#231f20" stroke-width="1.0"/>
<line x1="117.50" y1="33.20" x2="117.50" y2="107.60" stroke="#231f20" stroke-width="1.0"/>
<line x1="41.20" y1="107.60" x2="118.00" y2="107.60" stroke="#231f20" stroke-width="1.3"/>
<line x1="41.20" y1="32.70" x2="41.20" y2="108.20" stroke="#231f20" stroke-width="1.3"/>
<line x1="38.00" y1="107.50" x2="41.20" y2="107.50" stroke="#231f20" stroke-width="0.8"/>
<line x1="39.60" y1="102.05" x2="41.20" y2="102.05" stroke="#231f20" stroke-width="0.8"/>
<line x1="39.60" y1="96.60" x2="41.20" y2="96.60" stroke="#231f20" stroke-width="0.8"/>
<line x1="39.60" y1="91.15" x2="41.20" y2="91.15" stroke="#231f20" stroke-width="0.8"/>
<line x1="38.00" y1="85.70" x2="41.20" y2="85.70" stroke="#231f20" stroke-width="0.8"/>
<line x1="39.60" y1="80.25" x2="41.20" y2="80.25" stroke="#231f20" stroke-width="0.8"/>
<line x1="39.60" y1="74.80" x2="41.20" y2="74.80" stroke="#231f20" stroke-width="0.8"/>
<line x1="39.60" y1="69.35" x2="41.20" y2="69.35" stroke="#231f20" stroke-width="0.8"/>
<line x1="38.00" y1="63.90" x2="41.20" y2="63.90" stroke="#231f20" stroke-width="0.8"/>
<line x1="39.60" y1="58.45" x2="41.20" y2="58.45" stroke="#231f20" stroke-width="0.8"/>
<line x1="39.60" y1="53.00" x2="41.20" y2="53.00" stroke="#231f20" stroke-width="0.8"/>
<line x1="39.60" y1="47.55" x2="41.20" y2="47.55" stroke="#231f20" stroke-width="0.8"/>
<line x1="38.00" y1="42.10" x2="41.20" y2="42.10" stroke="#231f20" stroke-width="0.8"/>
<line x1="39.60" y1="36.65" x2="41.20" y2="36.65" stroke="#231f20" stroke-width="0.8"/>
<text x="35.60" y="109.90" font-size="7.0" text-anchor="end" fill="#231f20" stroke="#231f20" stroke-width="0.18">0</text>
<text x="35.60" y="88.10" font-size="7.0" text-anchor="end" fill="#231f20" textLength="13.60" lengthAdjust="spacingAndGlyphs" stroke="#231f20" stroke-width="0.18">1.0k</text>
<text x="35.60" y="66.30" font-size="7.0" text-anchor="end" fill="#231f20" textLength="13.60" lengthAdjust="spacingAndGlyphs" stroke="#231f20" stroke-width="0.18">2.0k</text>
<text x="35.60" y="44.50" font-size="7.0" text-anchor="end" fill="#231f20" textLength="13.60" lengthAdjust="spacingAndGlyphs" stroke="#231f20" stroke-width="0.18">3.0k</text>
<line x1="41.20" y1="107.60" x2="41.20" y2="110.80" stroke="#231f20" stroke-width="0.8"/>
<line x1="46.86" y1="107.60" x2="46.86" y2="109.20" stroke="#231f20" stroke-width="0.8"/>
<line x1="50.17" y1="107.60" x2="50.17" y2="109.20" stroke="#231f20" stroke-width="0.8"/>
<line x1="52.52" y1="107.60" x2="52.52" y2="109.20" stroke="#231f20" stroke-width="0.8"/>
<line x1="54.34" y1="107.60" x2="54.34" y2="109.20" stroke="#231f20" stroke-width="0.8"/>
<line x1="55.83" y1="107.60" x2="55.83" y2="109.20" stroke="#231f20" stroke-width="0.8"/>
<line x1="57.09" y1="107.60" x2="57.09" y2="109.20" stroke="#231f20" stroke-width="0.8"/>
<line x1="58.18" y1="107.60" x2="58.18" y2="109.20" stroke="#231f20" stroke-width="0.8"/>
<line x1="59.14" y1="107.60" x2="59.14" y2="109.20" stroke="#231f20" stroke-width="0.8"/>
<line x1="60.00" y1="107.60" x2="60.00" y2="110.80" stroke="#231f20" stroke-width="0.8"/>
<line x1="65.66" y1="107.60" x2="65.66" y2="109.20" stroke="#231f20" stroke-width="0.8"/>
<line x1="68.97" y1="107.60" x2="68.97" y2="109.20" stroke="#231f20" stroke-width="0.8"/>
<line x1="71.32" y1="107.60" x2="71.32" y2="109.20" stroke="#231f20" stroke-width="0.8"/>
<line x1="73.14" y1="107.60" x2="73.14" y2="109.20" stroke="#231f20" stroke-width="0.8"/>
<line x1="74.63" y1="107.60" x2="74.63" y2="109.20" stroke="#231f20" stroke-width="0.8"/>
<line x1="75.89" y1="107.60" x2="75.89" y2="109.20" stroke="#231f20" stroke-width="0.8"/>
<line x1="76.98" y1="107.60" x2="76.98" y2="109.20" stroke="#231f20" stroke-width="0.8"/>
<line x1="77.94" y1="107.60" x2="77.94" y2="109.20" stroke="#231f20" stroke-width="0.8"/>
<line x1="78.80" y1="107.60" x2="78.80" y2="110.80" stroke="#231f20" stroke-width="0.8"/>
<line x1="84.46" y1="107.60" x2="84.46" y2="109.20" stroke="#231f20" stroke-width="0.8"/>
<line x1="87.77" y1="107.60" x2="87.77" y2="109.20" stroke="#231f20" stroke-width="0.8"/>
<line x1="90.12" y1="107.60" x2="90.12" y2="109.20" stroke="#231f20" stroke-width="0.8"/>
<line x1="91.94" y1="107.60" x2="91.94" y2="109.20" stroke="#231f20" stroke-width="0.8"/>
<line x1="93.43" y1="107.60" x2="93.43" y2="109.20" stroke="#231f20" stroke-width="0.8"/>
<line x1="94.69" y1="107.60" x2="94.69" y2="109.20" stroke="#231f20" stroke-width="0.8"/>
<line x1="95.78" y1="107.60" x2="95.78" y2="109.20" stroke="#231f20" stroke-width="0.8"/>
<line x1="96.74" y1="107.60" x2="96.74" y2="109.20" stroke="#231f20" stroke-width="0.8"/>
<line x1="97.60" y1="107.60" x2="97.60" y2="110.80" stroke="#231f20" stroke-width="0.8"/>
<line x1="103.26" y1="107.60" x2="103.26" y2="109.20" stroke="#231f20" stroke-width="0.8"/>
<line x1="106.57" y1="107.60" x2="106.57" y2="109.20" stroke="#231f20" stroke-width="0.8"/>
<line x1="108.92" y1="107.60" x2="108.92" y2="109.20" stroke="#231f20" stroke-width="0.8"/>
<line x1="110.74" y1="107.60" x2="110.74" y2="109.20" stroke="#231f20" stroke-width="0.8"/>
<line x1="112.23" y1="107.60" x2="112.23" y2="109.20" stroke="#231f20" stroke-width="0.8"/>
<line x1="113.49" y1="107.60" x2="113.49" y2="109.20" stroke="#231f20" stroke-width="0.8"/>
<line x1="114.58" y1="107.60" x2="114.58" y2="109.20" stroke="#231f20" stroke-width="0.8"/>
<line x1="115.54" y1="107.60" x2="115.54" y2="109.20" stroke="#231f20" stroke-width="0.8"/>
<line x1="116.40" y1="107.60" x2="116.40" y2="110.80" stroke="#231f20" stroke-width="0.8"/>
<text x="43.20" y="120.60" font-size="7.8" text-anchor="middle" fill="#231f20" stroke="#231f20" stroke-width="0.18">10<tspan font-size="4.84" dy="-2.96">0</tspan></text>
<text x="62.00" y="120.60" font-size="7.8" text-anchor="middle" fill="#231f20" stroke="#231f20" stroke-width="0.18">10<tspan font-size="4.84" dy="-2.96">1</tspan></text>
<text x="80.80" y="120.60" font-size="7.8" text-anchor="middle" fill="#231f20" stroke="#231f20" stroke-width="0.18">10<tspan font-size="4.84" dy="-2.96">2</tspan></text>
<text x="99.60" y="120.60" font-size="7.8" text-anchor="middle" fill="#231f20" stroke="#231f20" stroke-width="0.18">10<tspan font-size="4.84" dy="-2.96">3</tspan></text>
<text x="118.40" y="120.60" font-size="7.8" text-anchor="middle" fill="#231f20" stroke="#231f20" stroke-width="0.18">10<tspan font-size="4.84" dy="-2.96">4</tspan></text>
<text x="79.40" y="133.20" font-size="10.0" text-anchor="middle" fill="#231f20" textLength="31.10" lengthAdjust="spacingAndGlyphs" stroke="#231f20" stroke-width="0.1">Lineage</text>
<text x="15.50" y="70.10" font-size="10.0" text-anchor="middle" fill="#231f20" textLength="24.30" lengthAdjust="spacingAndGlyphs" transform="rotate(-90 15.50 70.10)" stroke="#231f20" stroke-width="0.1">Count</text>
<line x1="121.90" y1="95.30" x2="136.80" y2="95.30" stroke="#231f20" stroke-width="1.1"/>
<path d="M143.80,95.30 L135.80,98.90 L137.40,95.30 L135.80,91.70 Z" fill="#231f20"/>
<text x="205.40" y="27.30" font-size="8.9" text-anchor="middle" fill="#231f20" textLength="30.20" lengthAdjust="spacingAndGlyphs" stroke="#231f20" stroke-width="0.1">Gate R1</text>
<line x1="190.30" y1="28.30" x2="220.50" y2="28.30" stroke="#231f20" stroke-width="0.7"/>
<g filter="url(#cm1)">
<rect x="168.20" y="33.10" width="75.40" height="74.50" fill="#000"/>
<polygon points="173.0,108.0 183.0,78.0 191.0,48.0 194.0,31.0 246.0,31.0 246.0,57.0 226.0,80.0 206.0,100.0 196.0,108.0" fill="#4c4c4c" filter="url(#bl3)" style="mix-blend-mode:lighten"/>
<polygon points="180.0,105.0 190.0,72.0 197.0,45.0 214.0,40.0 216.0,70.0 206.0,95.0 198.0,104.0" fill="#6b6b6b" filter="url(#bl3)" style="mix-blend-mode:lighten"/>
<polygon points="176.0,106.0 184.0,88.0 196.0,86.0 198.0,104.0" fill="#737373" filter="url(#bl2)" style="mix-blend-mode:lighten"/>
<polygon points="214.0,36.0 240.0,36.0 240.0,55.0 222.0,70.0" fill="#545454" filter="url(#bl5)" style="mix-blend-mode:lighten"/>
<ellipse cx="199.90" cy="51.00" rx="5.40" ry="26.98" fill="url(#q1)" style="mix-blend-mode:lighten" transform="rotate(6 199.90 51.00)"/>
<ellipse cx="199.90" cy="51.50" rx="2.86" ry="19.05" fill="url(#q2)" style="mix-blend-mode:lighten" transform="rotate(6 199.90 51.50)"/>
<ellipse cx="204.00" cy="75.00" rx="10.32" ry="41.27" fill="url(#q3)" style="mix-blend-mode:lighten" transform="rotate(16 204.00 75.00)"/>
<ellipse cx="204.00" cy="76.00" rx="7.30" ry="33.33" fill="url(#q4)" style="mix-blend-mode:lighten" transform="rotate(16 204.00 76.00)"/>
<ellipse cx="204.00" cy="76.00" rx="5.08" ry="23.81" fill="url(#q5)" style="mix-blend-mode:lighten" transform="rotate(16 204.00 76.00)"/>
<ellipse cx="203.50" cy="78.00" rx="3.49" ry="15.87" fill="url(#q6)" style="mix-blend-mode:lighten" transform="rotate(16 203.50 78.00)"/>
<ellipse cx="199.00" cy="96.00" rx="3.97" ry="9.52" fill="url(#q7)" style="mix-blend-mode:lighten" transform="rotate(20 199.00 96.00)"/>
<ellipse cx="191.00" cy="103.30" rx="19.05" ry="2.86" fill="url(#q8)" style="mix-blend-mode:lighten" transform="rotate(-6 191.00 103.30)"/>
<ellipse cx="188.40" cy="101.80" rx="4.76" ry="3.81" fill="url(#q9)" style="mix-blend-mode:lighten"/>
<ellipse cx="181.20" cy="103.40" rx="3.49" ry="2.86" fill="url(#q10)" style="mix-blend-mode:lighten"/>
</g>
<path d="M175.6,105.1 L236.1,101.9 L243.2,66" fill="none" stroke="#777" stroke-width="0.7"/>
<path d="M186.7,102 C190,90 194,78 196.6,69.5 C197.5,64 194,62 193.6,58" fill="none" stroke="#555" stroke-width="0.6"/>
<rect x="208.40" y="63.80" width="8.60" height="10.80" fill="#e4eef2" opacity="0.85"/>
<text x="212.70" y="72.00" font-size="7.2" text-anchor="middle" font-weight="bold" fill="#231f20" textLength="7.80" lengthAdjust="spacingAndGlyphs" stroke="#231f20" stroke-width="0.2">R3</text>
<text x="186.70" y="46.20" font-size="7.2" text-anchor="middle" font-weight="bold" fill="#231f20" textLength="8.00" lengthAdjust="spacingAndGlyphs" stroke="#231f20" stroke-width="0.2">R2</text>
<line x1="168.20" y1="33.10" x2="243.60" y2="33.10" stroke="#231f20" stroke-width="1.0"/>
<line x1="243.60" y1="33.10" x2="243.60" y2="107.60" stroke="#231f20" stroke-width="1.0"/>
<line x1="168.20" y1="107.60" x2="244.10" y2="107.60" stroke="#231f20" stroke-width="1.3"/>
<line x1="168.20" y1="32.60" x2="168.20" y2="108.20" stroke="#231f20" stroke-width="1.3"/>
<line x1="164.80" y1="107.60" x2="168.20" y2="107.60" stroke="#231f20" stroke-width="0.8"/>
<line x1="168.20" y1="107.60" x2="168.20" y2="111.00" stroke="#231f20" stroke-width="0.8"/>
<line x1="166.50" y1="103.97" x2="168.20" y2="103.97" stroke="#231f20" stroke-width="0.8"/>
<line x1="171.87" y1="107.60" x2="171.87" y2="109.30" stroke="#231f20" stroke-width="0.8"/>
<line x1="166.50" y1="100.35" x2="168.20" y2="100.35" stroke="#231f20" stroke-width="0.8"/>
<line x1="175.54" y1="107.60" x2="175.54" y2="109.30" stroke="#231f20" stroke-width="0.8"/>
<line x1="166.50" y1="96.72" x2="168.20" y2="96.72" stroke="#231f20" stroke-width="0.8"/>
<line x1="179.21" y1="107.60" x2="179.21" y2="109.30" stroke="#231f20" stroke-width="0.8"/>
<line x1="164.80" y1="93.10" x2="168.20" y2="93.10" stroke="#231f20" stroke-width="0.8"/>
<line x1="182.88" y1="107.60" x2="182.88" y2="111.00" stroke="#231f20" stroke-width="0.8"/>
<line x1="166.50" y1="89.47" x2="168.20" y2="89.47" stroke="#231f20" stroke-width="0.8"/>
<line x1="186.55" y1="107.60" x2="186.55" y2="109.30" stroke="#231f20" stroke-width="0.8"/>
<line x1="166.50" y1="85.85" x2="168.20" y2="85.85" stroke="#231f20" stroke-width="0.8"/>
<line x1="190.22" y1="107.60" x2="190.22" y2="109.30" stroke="#231f20" stroke-width="0.8"/>
<line x1="166.50" y1="82.22" x2="168.20" y2="82.22" stroke="#231f20" stroke-width="0.8"/>
<line x1="193.89" y1="107.60" x2="193.89" y2="109.30" stroke="#231f20" stroke-width="0.8"/>
<line x1="164.80" y1="78.60" x2="168.20" y2="78.60" stroke="#231f20" stroke-width="0.8"/>
<line x1="197.56" y1="107.60" x2="197.56" y2="111.00" stroke="#231f20" stroke-width="0.8"/>
<line x1="166.50" y1="74.97" x2="168.20" y2="74.97" stroke="#231f20" stroke-width="0.8"/>
<line x1="201.23" y1="107.60" x2="201.23" y2="109.30" stroke="#231f20" stroke-width="0.8"/>
<line x1="166.50" y1="71.35" x2="168.20" y2="71.35" stroke="#231f20" stroke-width="0.8"/>
<line x1="204.90" y1="107.60" x2="204.90" y2="109.30" stroke="#231f20" stroke-width="0.8"/>
<line x1="166.50" y1="67.72" x2="168.20" y2="67.72" stroke="#231f20" stroke-width="0.8"/>
<line x1="208.57" y1="107.60" x2="208.57" y2="109.30" stroke="#231f20" stroke-width="0.8"/>
<line x1="164.80" y1="64.10" x2="168.20" y2="64.10" stroke="#231f20" stroke-width="0.8"/>
<line x1="212.24" y1="107.60" x2="212.24" y2="111.00" stroke="#231f20" stroke-width="0.8"/>
<line x1="166.50" y1="60.47" x2="168.20" y2="60.47" stroke="#231f20" stroke-width="0.8"/>
<line x1="215.91" y1="107.60" x2="215.91" y2="109.30" stroke="#231f20" stroke-width="0.8"/>
<line x1="166.50" y1="56.85" x2="168.20" y2="56.85" stroke="#231f20" stroke-width="0.8"/>
<line x1="219.58" y1="107.60" x2="219.58" y2="109.30" stroke="#231f20" stroke-width="0.8"/>
<line x1="166.50" y1="53.22" x2="168.20" y2="53.22" stroke="#231f20" stroke-width="0.8"/>
<line x1="223.25" y1="107.60" x2="223.25" y2="109.30" stroke="#231f20" stroke-width="0.8"/>
<line x1="164.80" y1="49.60" x2="168.20" y2="49.60" stroke="#231f20" stroke-width="0.8"/>
<line x1="226.92" y1="107.60" x2="226.92" y2="111.00" stroke="#231f20" stroke-width="0.8"/>
<line x1="166.50" y1="45.97" x2="168.20" y2="45.97" stroke="#231f20" stroke-width="0.8"/>
<line x1="230.59" y1="107.60" x2="230.59" y2="109.30" stroke="#231f20" stroke-width="0.8"/>
<line x1="166.50" y1="42.35" x2="168.20" y2="42.35" stroke="#231f20" stroke-width="0.8"/>
<line x1="234.26" y1="107.60" x2="234.26" y2="109.30" stroke="#231f20" stroke-width="0.8"/>
<line x1="166.50" y1="38.72" x2="168.20" y2="38.72" stroke="#231f20" stroke-width="0.8"/>
<line x1="237.93" y1="107.60" x2="237.93" y2="109.30" stroke="#231f20" stroke-width="0.8"/>
<line x1="164.80" y1="35.10" x2="168.20" y2="35.10" stroke="#231f20" stroke-width="0.8"/>
<line x1="241.60" y1="107.60" x2="241.60" y2="111.00" stroke="#231f20" stroke-width="0.8"/>
<text x="161.60" y="110.00" font-size="6.9" text-anchor="end" fill="#231f20" stroke="#231f20" stroke-width="0.18">0</text>
<text x="171.50" y="116.60" font-size="7.4" text-anchor="end" fill="#231f20" transform="rotate(-45 171.50 116.60)" stroke="#231f20" stroke-width="0.18">0</text>
<text x="161.60" y="95.50" font-size="6.9" text-anchor="end" fill="#231f20" stroke="#231f20" stroke-width="0.18">200</text>
<text x="186.18" y="116.60" font-size="7.4" text-anchor="end" fill="#231f20" transform="rotate(-45 186.18 116.60)" stroke="#231f20" stroke-width="0.18">200</text>
<text x="161.60" y="81.00" font-size="6.9" text-anchor="end" fill="#231f20" stroke="#231f20" stroke-width="0.18">400</text>
<text x="200.86" y="116.60" font-size="7.4" text-anchor="end" fill="#231f20" transform="rotate(-45 200.86 116.60)" stroke="#231f20" stroke-width="0.18">400</text>
<text x="161.60" y="66.50" font-size="6.9" text-anchor="end" fill="#231f20" stroke="#231f20" stroke-width="0.18">600</text>
<text x="215.54" y="116.60" font-size="7.4" text-anchor="end" fill="#231f20" transform="rotate(-45 215.54 116.60)" stroke="#231f20" stroke-width="0.18">600</text>
<text x="161.60" y="52.00" font-size="6.9" text-anchor="end" fill="#231f20" stroke="#231f20" stroke-width="0.18">800</text>
<text x="230.22" y="116.60" font-size="7.4" text-anchor="end" fill="#231f20" transform="rotate(-45 230.22 116.60)" stroke="#231f20" stroke-width="0.18">800</text>
<text x="161.60" y="37.50" font-size="6.9" text-anchor="end" fill="#231f20" textLength="13.00" lengthAdjust="spacingAndGlyphs" stroke="#231f20" stroke-width="0.18">1.0k</text>
<text x="244.90" y="116.60" font-size="7.4" text-anchor="end" fill="#231f20" textLength="14.00" lengthAdjust="spacingAndGlyphs" transform="rotate(-45 244.90 116.60)" stroke="#231f20" stroke-width="0.18">1.0k</text>
<text x="205.40" y="138.80" font-size="10.0" text-anchor="middle" fill="#231f20" textLength="13.80" lengthAdjust="spacingAndGlyphs" stroke="#231f20" stroke-width="0.1">FSC</text>
<text x="142.20" y="70.40" font-size="10.0" text-anchor="middle" fill="#231f20" textLength="14.70" lengthAdjust="spacingAndGlyphs" transform="rotate(-90 142.20 70.40)" stroke="#231f20" stroke-width="0.1">SSC</text>
<line x1="226.30" y1="130.60" x2="226.30" y2="141.00" stroke="#231f20" stroke-width="1.0"/>
<path d="M226.30,148.00 L222.70,140.00 L226.30,141.60 L229.90,140.00 Z" fill="#231f20"/>
<text x="79.60" y="157.00" font-size="8.9" text-anchor="middle" fill="#231f20" textLength="30.40" lengthAdjust="spacingAndGlyphs" stroke="#231f20" stroke-width="0.1">Gate R5</text>
<line x1="64.40" y1="158.00" x2="94.80" y2="158.00" stroke="#231f20" stroke-width="0.7"/>
<g filter="url(#cm2)">
<rect x="41.10" y="162.50" width="76.40" height="74.80" fill="#000"/>
<ellipse cx="86.42" cy="207.44" rx="47.19" ry="40.81" fill="url(#q11)" style="mix-blend-mode:lighten"/>
<ellipse cx="58.11" cy="214.88" rx="23.59" ry="11.13" fill="url(#q12)" style="mix-blend-mode:lighten" transform="rotate(-6 58.11 214.88)"/>
<ellipse cx="42.05" cy="217.67" rx="11.32" ry="10.20" fill="url(#q13)" style="mix-blend-mode:lighten"/>
<ellipse cx="52.44" cy="231.69" rx="16.99" ry="9.28" fill="url(#q14)" style="mix-blend-mode:lighten"/>
<ellipse cx="72.28" cy="182.61" rx="14.16" ry="11.13" fill="url(#q15)" style="mix-blend-mode:lighten"/>
<ellipse cx="78.90" cy="203.72" rx="11.32" ry="16.70" fill="url(#q16)" style="mix-blend-mode:lighten"/>
<ellipse cx="73.23" cy="183.53" rx="8.49" ry="7.42" fill="url(#q17)" style="mix-blend-mode:lighten"/>
<ellipse cx="88.30" cy="189.02" rx="18.88" ry="7.05" fill="url(#q18)" style="mix-blend-mode:lighten" transform="rotate(19 88.30 189.02)"/>
<ellipse cx="76.06" cy="200.93" rx="10.38" ry="17.62" fill="url(#q19)" style="mix-blend-mode:lighten"/>
<ellipse cx="84.54" cy="230.75" rx="30.20" ry="10.20" fill="url(#q20)" style="mix-blend-mode:lighten"/>
<ellipse cx="91.68" cy="211.16" rx="9.59" ry="26.50" fill="url(#q21)" style="mix-blend-mode:lighten"/>
<ellipse cx="92.44" cy="210.97" rx="8.99" ry="17.67" fill="url(#q22)" style="mix-blend-mode:lighten"/>
<ellipse cx="104.50" cy="214.14" rx="13.48" ry="28.27" fill="url(#q23)" style="mix-blend-mode:lighten"/>
<ellipse cx="103.37" cy="214.32" rx="12.58" ry="18.55" fill="url(#q24)" style="mix-blend-mode:lighten"/>
<ellipse cx="102.80" cy="214.88" rx="8.39" ry="8.24" fill="url(#q25)" style="mix-blend-mode:lighten"/>
<ellipse cx="102.80" cy="214.88" rx="4.79" ry="4.71" fill="url(#q26)" style="mix-blend-mode:lighten"/>
</g>
<rect x="51.50" y="172.60" width="30.10" height="14.50" fill="none" stroke="#5a5a5a" stroke-width="0.6"/>
<rect x="63.40" y="187.70" width="12.30" height="15.80" fill="none" stroke="#2a2a2a" stroke-width="0.6"/>
<rect x="76.20" y="192.30" width="9.60" height="25.00" fill="none" stroke="#2a2a2a" stroke-width="0.6"/>
<rect x="85.80" y="191.60" width="11.90" height="37.20" fill="none" stroke="#2a2a2a" stroke-width="0.6"/>
<rect x="97.70" y="191.50" width="17.70" height="44.00" fill="none" stroke="#5a5a5a" stroke-width="0.6"/>
<text x="46.90" y="179.60" font-size="7.2" text-anchor="middle" font-weight="bold" fill="#231f20" textLength="7.80" lengthAdjust="spacingAndGlyphs" stroke="#231f20" stroke-width="0.2">P1</text>
<text x="55.60" y="196.80" font-size="7.2" text-anchor="middle" font-weight="bold" fill="#231f20" textLength="8.60" lengthAdjust="spacingAndGlyphs" stroke="#231f20" stroke-width="0.2">P2</text>
<text x="80.80" y="228.40" font-size="7.2" text-anchor="middle" font-weight="bold" fill="#231f20" textLength="7.70" lengthAdjust="spacingAndGlyphs" stroke="#231f20" stroke-width="0.2">P3</text>
<text x="93.80" y="176.50" font-size="7.2" text-anchor="middle" font-weight="bold" fill="#231f20" textLength="8.40" lengthAdjust="spacingAndGlyphs" stroke="#231f20" stroke-width="0.2">P4</text>
<text x="108.70" y="176.50" font-size="7.2" text-anchor="middle" font-weight="bold" fill="#231f20" textLength="8.40" lengthAdjust="spacingAndGlyphs" stroke="#231f20" stroke-width="0.2">P5</text>
<line x1="41.10" y1="162.50" x2="117.50" y2="162.50" stroke="#231f20" stroke-width="1.0"/>
<line x1="117.50" y1="162.50" x2="117.50" y2="237.30" stroke="#231f20" stroke-width="1.0"/>
<line x1="41.10" y1="237.30" x2="118.00" y2="237.30" stroke="#231f20" stroke-width="1.3"/>
<line x1="41.10" y1="162.00" x2="41.10" y2="237.90" stroke="#231f20" stroke-width="1.3"/>
<line x1="37.90" y1="237.30" x2="41.10" y2="237.30" stroke="#231f20" stroke-width="0.8"/>
<line x1="39.50" y1="231.67" x2="41.10" y2="231.67" stroke="#231f20" stroke-width="0.8"/>
<line x1="39.50" y1="228.38" x2="41.10" y2="228.38" stroke="#231f20" stroke-width="0.8"/>
<line x1="39.50" y1="226.04" x2="41.10" y2="226.04" stroke="#231f20" stroke-width="0.8"/>
<line x1="39.50" y1="224.23" x2="41.10" y2="224.23" stroke="#231f20" stroke-width="0.8"/>
<line x1="39.50" y1="222.75" x2="41.10" y2="222.75" stroke="#231f20" stroke-width="0.8"/>
<line x1="39.50" y1="221.50" x2="41.10" y2="221.50" stroke="#231f20" stroke-width="0.8"/>
<line x1="39.50" y1="220.41" x2="41.10" y2="220.41" stroke="#231f20" stroke-width="0.8"/>
<line x1="39.50" y1="219.46" x2="41.10" y2="219.46" stroke="#231f20" stroke-width="0.8"/>
<line x1="37.90" y1="218.60" x2="41.10" y2="218.60" stroke="#231f20" stroke-width="0.8"/>
<line x1="39.50" y1="213.00" x2="41.10" y2="213.00" stroke="#231f20" stroke-width="0.8"/>
<line x1="39.50" y1="209.73" x2="41.10" y2="209.73" stroke="#231f20" stroke-width="0.8"/>
<line x1="39.50" y1="207.40" x2="41.10" y2="207.40" stroke="#231f20" stroke-width="0.8"/>
<line x1="39.50" y1="205.60" x2="41.10" y2="205.60" stroke="#231f20" stroke-width="0.8"/>
<line x1="39.50" y1="204.13" x2="41.10" y2="204.13" stroke="#231f20" stroke-width="0.8"/>
<line x1="39.50" y1="202.88" x2="41.10" y2="202.88" stroke="#231f20" stroke-width="0.8"/>
<line x1="39.50" y1="201.80" x2="41.10" y2="201.80" stroke="#231f20" stroke-width="0.8"/>
<line x1="39.50" y1="200.85" x2="41.10" y2="200.85" stroke="#231f20" stroke-width="0.8"/>
<line x1="37.90" y1="200.00" x2="41.10" y2="200.00" stroke="#231f20" stroke-width="0.8"/>
<line x1="39.50" y1="194.49" x2="41.10" y2="194.49" stroke="#231f20" stroke-width="0.8"/>
<line x1="39.50" y1="191.27" x2="41.10" y2="191.27" stroke="#231f20" stroke-width="0.8"/>
<line x1="39.50" y1="188.98" x2="41.10" y2="188.98" stroke="#231f20" stroke-width="0.8"/>
<line x1="39.50" y1="187.21" x2="41.10" y2="187.21" stroke="#231f20" stroke-width="0.8"/>
<line x1="39.50" y1="185.76" x2="41.10" y2="185.76" stroke="#231f20" stroke-width="0.8"/>
<line x1="39.50" y1="184.53" x2="41.10" y2="184.53" stroke="#231f20" stroke-width="0.8"/>
<line x1="39.50" y1="183.47" x2="41.10" y2="183.47" stroke="#231f20" stroke-width="0.8"/>
<line x1="39.50" y1="182.54" x2="41.10" y2="182.54" stroke="#231f20" stroke-width="0.8"/>
<line x1="37.90" y1="181.70" x2="41.10" y2="181.70" stroke="#231f20" stroke-width="0.8"/>
<line x1="39.50" y1="176.10" x2="41.10" y2="176.10" stroke="#231f20" stroke-width="0.8"/>
<line x1="39.50" y1="172.83" x2="41.10" y2="172.83" stroke="#231f20" stroke-width="0.8"/>
<line x1="39.50" y1="170.50" x2="41.10" y2="170.50" stroke="#231f20" stroke-width="0.8"/>
<line x1="39.50" y1="168.70" x2="41.10" y2="168.70" stroke="#231f20" stroke-width="0.8"/>
<line x1="39.50" y1="167.23" x2="41.10" y2="167.23" stroke="#231f20" stroke-width="0.8"/>
<line x1="39.50" y1="165.98" x2="41.10" y2="165.98" stroke="#231f20" stroke-width="0.8"/>
<line x1="39.50" y1="164.90" x2="41.10" y2="164.90" stroke="#231f20" stroke-width="0.8"/>
<line x1="39.50" y1="163.95" x2="41.10" y2="163.95" stroke="#231f20" stroke-width="0.8"/>
<line x1="37.90" y1="163.10" x2="41.10" y2="163.10" stroke="#231f20" stroke-width="0.8"/>
<line x1="41.10" y1="237.30" x2="41.10" y2="240.50" stroke="#231f20" stroke-width="0.8"/>
<line x1="46.79" y1="237.30" x2="46.79" y2="238.90" stroke="#231f20" stroke-width="0.8"/>
<line x1="50.12" y1="237.30" x2="50.12" y2="238.90" stroke="#231f20" stroke-width="0.8"/>
<line x1="52.48" y1="237.30" x2="52.48" y2="238.90" stroke="#231f20" stroke-width="0.8"/>
<line x1="54.31" y1="237.30" x2="54.31" y2="238.90" stroke="#231f20" stroke-width="0.8"/>
<line x1="55.81" y1="237.30" x2="55.81" y2="238.90" stroke="#231f20" stroke-width="0.8"/>
<line x1="57.07" y1="237.30" x2="57.07" y2="238.90" stroke="#231f20" stroke-width="0.8"/>
<line x1="58.17" y1="237.30" x2="58.17" y2="238.90" stroke="#231f20" stroke-width="0.8"/>
<line x1="59.14" y1="237.30" x2="59.14" y2="238.90" stroke="#231f20" stroke-width="0.8"/>
<line x1="60.00" y1="237.30" x2="60.00" y2="240.50" stroke="#231f20" stroke-width="0.8"/>
<line x1="65.69" y1="237.30" x2="65.69" y2="238.90" stroke="#231f20" stroke-width="0.8"/>
<line x1="69.02" y1="237.30" x2="69.02" y2="238.90" stroke="#231f20" stroke-width="0.8"/>
<line x1="71.38" y1="237.30" x2="71.38" y2="238.90" stroke="#231f20" stroke-width="0.8"/>
<line x1="73.21" y1="237.30" x2="73.21" y2="238.90" stroke="#231f20" stroke-width="0.8"/>
<line x1="74.71" y1="237.30" x2="74.71" y2="238.90" stroke="#231f20" stroke-width="0.8"/>
<line x1="75.97" y1="237.30" x2="75.97" y2="238.90" stroke="#231f20" stroke-width="0.8"/>
<line x1="77.07" y1="237.30" x2="77.07" y2="238.90" stroke="#231f20" stroke-width="0.8"/>
<line x1="78.04" y1="237.30" x2="78.04" y2="238.90" stroke="#231f20" stroke-width="0.8"/>
<line x1="78.90" y1="237.30" x2="78.90" y2="240.50" stroke="#231f20" stroke-width="0.8"/>
<line x1="84.56" y1="237.30" x2="84.56" y2="238.90" stroke="#231f20" stroke-width="0.8"/>
<line x1="87.87" y1="237.30" x2="87.87" y2="238.90" stroke="#231f20" stroke-width="0.8"/>
<line x1="90.22" y1="237.30" x2="90.22" y2="238.90" stroke="#231f20" stroke-width="0.8"/>
<line x1="92.04" y1="237.30" x2="92.04" y2="238.90" stroke="#231f20" stroke-width="0.8"/>
<line x1="93.53" y1="237.30" x2="93.53" y2="238.90" stroke="#231f20" stroke-width="0.8"/>
<line x1="94.79" y1="237.30" x2="94.79" y2="238.90" stroke="#231f20" stroke-width="0.8"/>
<line x1="95.88" y1="237.30" x2="95.88" y2="238.90" stroke="#231f20" stroke-width="0.8"/>
<line x1="96.84" y1="237.30" x2="96.84" y2="238.90" stroke="#231f20" stroke-width="0.8"/>
<line x1="97.70" y1="237.30" x2="97.70" y2="240.50" stroke="#231f20" stroke-width="0.8"/>
<line x1="103.39" y1="237.30" x2="103.39" y2="238.90" stroke="#231f20" stroke-width="0.8"/>
<line x1="106.72" y1="237.30" x2="106.72" y2="238.90" stroke="#231f20" stroke-width="0.8"/>
<line x1="109.08" y1="237.30" x2="109.08" y2="238.90" stroke="#231f20" stroke-width="0.8"/>
<line x1="110.91" y1="237.30" x2="110.91" y2="238.90" stroke="#231f20" stroke-width="0.8"/>
<line x1="112.41" y1="237.30" x2="112.41" y2="238.90" stroke="#231f20" stroke-width="0.8"/>
<line x1="113.67" y1="237.30" x2="113.67" y2="238.90" stroke="#231f20" stroke-width="0.8"/>
<line x1="114.77" y1="237.30" x2="114.77" y2="238.90" stroke="#231f20" stroke-width="0.8"/>
<line x1="115.74" y1="237.30" x2="115.74" y2="238.90" stroke="#231f20" stroke-width="0.8"/>
<line x1="116.60" y1="237.30" x2="116.60" y2="240.50" stroke="#231f20" stroke-width="0.8"/>
<text x="35.40" y="240.00" font-size="7.6" text-anchor="end" fill="#231f20" stroke="#231f20" stroke-width="0.18">10<tspan font-size="4.71" dy="-2.89">0</tspan></text>
<text x="35.40" y="221.30" font-size="7.6" text-anchor="end" fill="#231f20" stroke="#231f20" stroke-width="0.18">10<tspan font-size="4.71" dy="-2.89">1</tspan></text>
<text x="35.40" y="202.70" font-size="7.6" text-anchor="end" fill="#231f20" stroke="#231f20" stroke-width="0.18">10<tspan font-size="4.71" dy="-2.89">2</tspan></text>
<text x="35.40" y="184.40" font-size="7.6" text-anchor="end" fill="#231f20" stroke="#231f20" stroke-width="0.18">10<tspan font-size="4.71" dy="-2.89">3</tspan></text>
<text x="35.40" y="165.80" font-size="7.6" text-anchor="end" fill="#231f20" stroke="#231f20" stroke-width="0.18">10<tspan font-size="4.71" dy="-2.89">4</tspan></text>
<text x="43.10" y="249.00" font-size="7.6" text-anchor="middle" fill="#231f20" stroke="#231f20" stroke-width="0.18">10<tspan font-size="4.71" dy="-2.89">0</tspan></text>
<text x="62.00" y="249.00" font-size="7.6" text-anchor="middle" fill="#231f20" stroke="#231f20" stroke-width="0.18">10<tspan font-size="4.71" dy="-2.89">1</tspan></text>
<text x="80.90" y="249.00" font-size="7.6" text-anchor="middle" fill="#231f20" stroke="#231f20" stroke-width="0.18">10<tspan font-size="4.71" dy="-2.89">2</tspan></text>
<text x="99.70" y="249.00" font-size="7.6" text-anchor="middle" fill="#231f20" stroke="#231f20" stroke-width="0.18">10<tspan font-size="4.71" dy="-2.89">3</tspan></text>
<text x="118.60" y="249.00" font-size="7.6" text-anchor="middle" fill="#231f20" stroke="#231f20" stroke-width="0.18">10<tspan font-size="4.71" dy="-2.89">4</tspan></text>
<text x="79.30" y="263.50" font-size="10.0" text-anchor="middle" fill="#231f20" textLength="19.50" lengthAdjust="spacingAndGlyphs" stroke="#231f20" stroke-width="0.1">Ly6G</text>
<text x="18.50" y="200.00" font-size="9.4" text-anchor="middle" fill="#231f20" textLength="17.50" lengthAdjust="spacingAndGlyphs" transform="rotate(-90 18.50 200.00)" stroke="#231f20" stroke-width="0.1">c-Kit</text>
<line x1="146.80" y1="216.20" x2="132.10" y2="216.20" stroke="#231f20" stroke-width="1.0"/>
<path d="M125.10,216.20 L133.10,212.60 L131.50,216.20 L133.10,219.80 Z" fill="#231f20"/>
<text x="205.70" y="157.00" font-size="8.9" text-anchor="middle" fill="#231f20" textLength="30.80" lengthAdjust="spacingAndGlyphs" stroke="#231f20" stroke-width="0.1">Gate R3</text>
<line x1="190.30" y1="158.00" x2="221.10" y2="158.00" stroke="#231f20" stroke-width="0.7"/>
<g filter="url(#cm3)">
<rect x="168.40" y="162.40" width="74.90" height="74.90" fill="#000"/>
<polygon points="169.0,238.0 168.0,214.0 175.0,202.0 180.0,190.0 182.0,170.0 188.0,164.0 198.0,164.0 206.0,167.0 214.0,172.0 212.0,190.0 205.0,210.0 202.0,228.0 200.0,238.0" fill="#4c4c4c" filter="url(#bl3)" style="mix-blend-mode:lighten"/>
<polygon points="176.0,170.0 200.0,160.0 215.0,170.0 205.0,185.0" fill="#525252" filter="url(#bl5)" style="mix-blend-mode:lighten"/>
<ellipse cx="188.50" cy="177.00" rx="5.80" ry="10.00" fill="url(#q27)" style="mix-blend-mode:lighten" transform="rotate(10 188.50 177.00)"/>
<polygon points="170.0,222.0 174.0,210.0 182.0,197.0 189.0,187.0 197.0,199.0 200.0,222.0 194.0,229.0 172.0,228.0" fill="#8c8c8c" filter="url(#bl2)" style="mix-blend-mode:lighten"/>
<ellipse cx="177.20" cy="215.80" rx="7.94" ry="7.62" fill="url(#q28)" style="mix-blend-mode:lighten"/>
<ellipse cx="177.20" cy="215.80" rx="4.13" ry="3.97" fill="url(#q29)" style="mix-blend-mode:lighten"/>
<ellipse cx="190.60" cy="211.00" rx="7.94" ry="20.63" fill="url(#q30)" style="mix-blend-mode:lighten" transform="rotate(-20 190.60 211.00)"/>
<ellipse cx="190.40" cy="210.50" rx="5.40" ry="15.87" fill="url(#q31)" style="mix-blend-mode:lighten" transform="rotate(-20 190.40 210.50)"/>
<ellipse cx="192.20" cy="215.00" rx="4.13" ry="8.73" fill="url(#q32)" style="mix-blend-mode:lighten" transform="rotate(-20 192.20 215.00)"/>
<ellipse cx="188.30" cy="193.50" rx="3.17" ry="7.94" fill="url(#q33)" style="mix-blend-mode:lighten" transform="rotate(35 188.30 193.50)"/>
</g>
<ellipse cx="188.6" cy="176.7" rx="4.8" ry="9.2" transform="rotate(12 188.6 176.7)" fill="none" stroke="#666" stroke-width="0.6"/>
<path d="M200.9,162.6 L193.5,184.5 L168.6,211" fill="none" stroke="#555" stroke-width="0.6"/>
<rect x="201.50" y="196.00" width="9.00" height="7.50" fill="#eef2f6" opacity="0.85"/>
<text x="206.00" y="202.30" font-size="6.9" text-anchor="middle" font-weight="bold" fill="#231f20" textLength="7.80" lengthAdjust="spacingAndGlyphs" stroke="#231f20" stroke-width="0.2">R5</text>
<text x="174.30" y="183.70" font-size="6.9" text-anchor="middle" font-weight="bold" fill="#231f20" textLength="8.30" lengthAdjust="spacingAndGlyphs" stroke="#231f20" stroke-width="0.2">R4</text>
<line x1="168.40" y1="162.40" x2="243.30" y2="162.40" stroke="#231f20" stroke-width="1.0"/>
<line x1="243.30" y1="162.40" x2="243.30" y2="237.30" stroke="#231f20" stroke-width="1.0"/>
<line x1="168.40" y1="237.30" x2="243.80" y2="237.30" stroke="#231f20" stroke-width="1.3"/>
<line x1="168.40" y1="161.90" x2="168.40" y2="237.90" stroke="#231f20" stroke-width="1.3"/>
<line x1="165.20" y1="237.10" x2="168.40" y2="237.10" stroke="#231f20" stroke-width="0.8"/>
<line x1="166.80" y1="231.53" x2="168.40" y2="231.53" stroke="#231f20" stroke-width="0.8"/>
<line x1="166.80" y1="228.27" x2="168.40" y2="228.27" stroke="#231f20" stroke-width="0.8"/>
<line x1="166.80" y1="225.96" x2="168.40" y2="225.96" stroke="#231f20" stroke-width="0.8"/>
<line x1="166.80" y1="224.17" x2="168.40" y2="224.17" stroke="#231f20" stroke-width="0.8"/>
<line x1="166.80" y1="222.70" x2="168.40" y2="222.70" stroke="#231f20" stroke-width="0.8"/>
<line x1="166.80" y1="221.47" x2="168.40" y2="221.47" stroke="#231f20" stroke-width="0.8"/>
<line x1="166.80" y1="220.39" x2="168.40" y2="220.39" stroke="#231f20" stroke-width="0.8"/>
<line x1="166.80" y1="219.45" x2="168.40" y2="219.45" stroke="#231f20" stroke-width="0.8"/>
<line x1="165.20" y1="218.60" x2="168.40" y2="218.60" stroke="#231f20" stroke-width="0.8"/>
<line x1="166.80" y1="213.00" x2="168.40" y2="213.00" stroke="#231f20" stroke-width="0.8"/>
<line x1="166.80" y1="209.73" x2="168.40" y2="209.73" stroke="#231f20" stroke-width="0.8"/>
<line x1="166.80" y1="207.40" x2="168.40" y2="207.40" stroke="#231f20" stroke-width="0.8"/>
<line x1="166.80" y1="205.60" x2="168.40" y2="205.60" stroke="#231f20" stroke-width="0.8"/>
<line x1="166.80" y1="204.13" x2="168.40" y2="204.13" stroke="#231f20" stroke-width="0.8"/>
<line x1="166.80" y1="202.88" x2="168.40" y2="202.88" stroke="#231f20" stroke-width="0.8"/>
<line x1="166.80" y1="201.80" x2="168.40" y2="201.80" stroke="#231f20" stroke-width="0.8"/>
<line x1="166.80" y1="200.85" x2="168.40" y2="200.85" stroke="#231f20" stroke-width="0.8"/>
<line x1="165.20" y1="200.00" x2="168.40" y2="200.00" stroke="#231f20" stroke-width="0.8"/>
<line x1="166.80" y1="194.49" x2="168.40" y2="194.49" stroke="#231f20" stroke-width="0.8"/>
<line x1="166.80" y1="191.27" x2="168.40" y2="191.27" stroke="#231f20" stroke-width="0.8"/>
<line x1="166.80" y1="188.98" x2="168.40" y2="188.98" stroke="#231f20" stroke-width="0.8"/>
<line x1="166.80" y1="187.21" x2="168.40" y2="187.21" stroke="#231f20" stroke-width="0.8"/>
<line x1="166.80" y1="185.76" x2="168.40" y2="185.76" stroke="#231f20" stroke-width="0.8"/>
<line x1="166.80" y1="184.53" x2="168.40" y2="184.53" stroke="#231f20" stroke-width="0.8"/>
<line x1="166.80" y1="183.47" x2="168.40" y2="183.47" stroke="#231f20" stroke-width="0.8"/>
<line x1="166.80" y1="182.54" x2="168.40" y2="182.54" stroke="#231f20" stroke-width="0.8"/>
<line x1="165.20" y1="181.70" x2="168.40" y2="181.70" stroke="#231f20" stroke-width="0.8"/>
<line x1="166.80" y1="176.10" x2="168.40" y2="176.10" stroke="#231f20" stroke-width="0.8"/>
<line x1="166.80" y1="172.83" x2="168.40" y2="172.83" stroke="#231f20" stroke-width="0.8"/>
<line x1="166.80" y1="170.50" x2="168.40" y2="170.50" stroke="#231f20" stroke-width="0.8"/>
<line x1="166.80" y1="168.70" x2="168.40" y2="168.70" stroke="#231f20" stroke-width="0.8"/>
<line x1="166.80" y1="167.23" x2="168.40" y2="167.23" stroke="#231f20" stroke-width="0.8"/>
<line x1="166.80" y1="165.98" x2="168.40" y2="165.98" stroke="#231f20" stroke-width="0.8"/>
<line x1="166.80" y1="164.90" x2="168.40" y2="164.90" stroke="#231f20" stroke-width="0.8"/>
<line x1="166.80" y1="163.95" x2="168.40" y2="163.95" stroke="#231f20" stroke-width="0.8"/>
<line x1="165.20" y1="163.10" x2="168.40" y2="163.10" stroke="#231f20" stroke-width="0.8"/>
<line x1="168.40" y1="237.30" x2="168.40" y2="240.50" stroke="#231f20" stroke-width="0.8"/>
<line x1="174.03" y1="237.30" x2="174.03" y2="238.90" stroke="#231f20" stroke-width="0.8"/>
<line x1="177.32" y1="237.30" x2="177.32" y2="238.90" stroke="#231f20" stroke-width="0.8"/>
<line x1="179.66" y1="237.30" x2="179.66" y2="238.90" stroke="#231f20" stroke-width="0.8"/>
<line x1="181.47" y1="237.30" x2="181.47" y2="238.90" stroke="#231f20" stroke-width="0.8"/>
<line x1="182.95" y1="237.30" x2="182.95" y2="238.90" stroke="#231f20" stroke-width="0.8"/>
<line x1="184.20" y1="237.30" x2="184.20" y2="238.90" stroke="#231f20" stroke-width="0.8"/>
<line x1="185.29" y1="237.30" x2="185.29" y2="238.90" stroke="#231f20" stroke-width="0.8"/>
<line x1="186.24" y1="237.30" x2="186.24" y2="238.90" stroke="#231f20" stroke-width="0.8"/>
<line x1="187.10" y1="237.30" x2="187.10" y2="240.50" stroke="#231f20" stroke-width="0.8"/>
<line x1="192.73" y1="237.30" x2="192.73" y2="238.90" stroke="#231f20" stroke-width="0.8"/>
<line x1="196.02" y1="237.30" x2="196.02" y2="238.90" stroke="#231f20" stroke-width="0.8"/>
<line x1="198.36" y1="237.30" x2="198.36" y2="238.90" stroke="#231f20" stroke-width="0.8"/>
<line x1="200.17" y1="237.30" x2="200.17" y2="238.90" stroke="#231f20" stroke-width="0.8"/>
<line x1="201.65" y1="237.30" x2="201.65" y2="238.90" stroke="#231f20" stroke-width="0.8"/>
<line x1="202.90" y1="237.30" x2="202.90" y2="238.90" stroke="#231f20" stroke-width="0.8"/>
<line x1="203.99" y1="237.30" x2="203.99" y2="238.90" stroke="#231f20" stroke-width="0.8"/>
<line x1="204.94" y1="237.30" x2="204.94" y2="238.90" stroke="#231f20" stroke-width="0.8"/>
<line x1="205.80" y1="237.30" x2="205.80" y2="240.50" stroke="#231f20" stroke-width="0.8"/>
<line x1="211.43" y1="237.30" x2="211.43" y2="238.90" stroke="#231f20" stroke-width="0.8"/>
<line x1="214.72" y1="237.30" x2="214.72" y2="238.90" stroke="#231f20" stroke-width="0.8"/>
<line x1="217.06" y1="237.30" x2="217.06" y2="238.90" stroke="#231f20" stroke-width="0.8"/>
<line x1="218.87" y1="237.30" x2="218.87" y2="238.90" stroke="#231f20" stroke-width="0.8"/>
<line x1="220.35" y1="237.30" x2="220.35" y2="238.90" stroke="#231f20" stroke-width="0.8"/>
<line x1="221.60" y1="237.30" x2="221.60" y2="238.90" stroke="#231f20" stroke-width="0.8"/>
<line x1="222.69" y1="237.30" x2="222.69" y2="238.90" stroke="#231f20" stroke-width="0.8"/>
<line x1="223.64" y1="237.30" x2="223.64" y2="238.90" stroke="#231f20" stroke-width="0.8"/>
<line x1="224.50" y1="237.30" x2="224.50" y2="240.50" stroke="#231f20" stroke-width="0.8"/>
<line x1="230.13" y1="237.30" x2="230.13" y2="238.90" stroke="#231f20" stroke-width="0.8"/>
<line x1="233.42" y1="237.30" x2="233.42" y2="238.90" stroke="#231f20" stroke-width="0.8"/>
<line x1="235.76" y1="237.30" x2="235.76" y2="238.90" stroke="#231f20" stroke-width="0.8"/>
<line x1="237.57" y1="237.30" x2="237.57" y2="238.90" stroke="#231f20" stroke-width="0.8"/>
<line x1="239.05" y1="237.30" x2="239.05" y2="238.90" stroke="#231f20" stroke-width="0.8"/>
<line x1="240.30" y1="237.30" x2="240.30" y2="238.90" stroke="#231f20" stroke-width="0.8"/>
<line x1="241.39" y1="237.30" x2="241.39" y2="238.90" stroke="#231f20" stroke-width="0.8"/>
<line x1="242.34" y1="237.30" x2="242.34" y2="238.90" stroke="#231f20" stroke-width="0.8"/>
<line x1="243.20" y1="237.30" x2="243.20" y2="240.50" stroke="#231f20" stroke-width="0.8"/>
<text x="162.20" y="239.80" font-size="7.6" text-anchor="end" fill="#231f20" stroke="#231f20" stroke-width="0.18">10<tspan font-size="4.71" dy="-2.89">0</tspan></text>
<text x="162.20" y="221.30" font-size="7.6" text-anchor="end" fill="#231f20" stroke="#231f20" stroke-width="0.18">10<tspan font-size="4.71" dy="-2.89">1</tspan></text>
<text x="162.20" y="202.70" font-size="7.6" text-anchor="end" fill="#231f20" stroke="#231f20" stroke-width="0.18">10<tspan font-size="4.71" dy="-2.89">2</tspan></text>
<text x="162.20" y="184.40" font-size="7.6" text-anchor="end" fill="#231f20" stroke="#231f20" stroke-width="0.18">10<tspan font-size="4.71" dy="-2.89">3</tspan></text>
<text x="162.20" y="165.80" font-size="7.6" text-anchor="end" fill="#231f20" stroke="#231f20" stroke-width="0.18">10<tspan font-size="4.71" dy="-2.89">4</tspan></text>
<text x="170.40" y="249.00" font-size="7.6" text-anchor="middle" fill="#231f20" stroke="#231f20" stroke-width="0.18">10<tspan font-size="4.71" dy="-2.89">0</tspan></text>
<text x="189.10" y="249.00" font-size="7.6" text-anchor="middle" fill="#231f20" stroke="#231f20" stroke-width="0.18">10<tspan font-size="4.71" dy="-2.89">1</tspan></text>
<text x="207.80" y="249.00" font-size="7.6" text-anchor="middle" fill="#231f20" stroke="#231f20" stroke-width="0.18">10<tspan font-size="4.71" dy="-2.89">2</tspan></text>
<text x="226.50" y="249.00" font-size="7.6" text-anchor="middle" fill="#231f20" stroke="#231f20" stroke-width="0.18">10<tspan font-size="4.71" dy="-2.89">3</tspan></text>
<text x="245.20" y="249.00" font-size="7.6" text-anchor="middle" fill="#231f20" stroke="#231f20" stroke-width="0.18">10<tspan font-size="4.71" dy="-2.89">4</tspan></text>
<text x="205.70" y="263.50" font-size="10.0" text-anchor="middle" fill="#231f20" textLength="21.00" lengthAdjust="spacingAndGlyphs" stroke="#231f20" stroke-width="0.1">CD34</text>
<text x="145.50" y="203.50" font-size="9.4" text-anchor="middle" fill="#231f20" textLength="17.50" lengthAdjust="spacingAndGlyphs" transform="rotate(-90 145.50 203.50)" stroke="#231f20" stroke-width="0.1">c-Kit</text>
<g filter="url(#cb0)">
<rect x="297.35" y="33.50" width="81.05" height="80.90" fill="#000"/>
<ellipse cx="345.60" cy="81.86" rx="50.28" ry="44.00" fill="url(#q34)" style="mix-blend-mode:lighten"/>
<ellipse cx="316.49" cy="85.94" rx="25.14" ry="11.00" fill="url(#q35)" style="mix-blend-mode:lighten" transform="rotate(-20 316.49 85.94)"/>
<ellipse cx="298.36" cy="93.08" rx="14.08" ry="12.00" fill="url(#q36)" style="mix-blend-mode:lighten"/>
<ellipse cx="309.44" cy="108.31" rx="18.10" ry="10.00" fill="url(#q37)" style="mix-blend-mode:lighten"/>
<ellipse cx="333.18" cy="53.40" rx="15.08" ry="12.00" fill="url(#q38)" style="mix-blend-mode:lighten"/>
<ellipse cx="337.60" cy="78.80" rx="11.06" ry="17.00" fill="url(#q39)" style="mix-blend-mode:lighten"/>
<ellipse cx="331.57" cy="54.41" rx="9.05" ry="7.00" fill="url(#q40)" style="mix-blend-mode:lighten"/>
<ellipse cx="347.60" cy="61.52" rx="20.11" ry="7.60" fill="url(#q41)" style="mix-blend-mode:lighten" transform="rotate(19 347.60 61.52)"/>
<ellipse cx="334.59" cy="74.72" rx="11.06" ry="19.00" fill="url(#q42)" style="mix-blend-mode:lighten"/>
<ellipse cx="343.60" cy="107.30" rx="32.18" ry="11.00" fill="url(#q43)" style="mix-blend-mode:lighten"/>
<ellipse cx="350.60" cy="94.10" rx="8.04" ry="16.00" fill="url(#q44)" style="mix-blend-mode:lighten"/>
<ellipse cx="351.20" cy="79.41" rx="10.22" ry="22.86" fill="url(#q45)" style="mix-blend-mode:lighten"/>
<ellipse cx="350.80" cy="71.67" rx="6.38" ry="9.52" fill="url(#q46)" style="mix-blend-mode:lighten"/>
<ellipse cx="365.68" cy="87.37" rx="13.73" ry="35.56" fill="url(#q47)" style="mix-blend-mode:lighten"/>
<ellipse cx="365.68" cy="87.98" rx="12.77" ry="26.35" fill="url(#q48)" style="mix-blend-mode:lighten"/>
<ellipse cx="367.70" cy="86.96" rx="7.98" ry="17.78" fill="url(#q49)" style="mix-blend-mode:lighten"/>
<ellipse cx="369.52" cy="88.59" rx="4.15" ry="9.52" fill="url(#q50)" style="mix-blend-mode:lighten"/>
</g>
<rect x="307.30" y="44.50" width="33.40" height="15.60" fill="none" stroke="#6d6e71" stroke-width="0.6"/>
<rect x="320.40" y="60.70" width="12.80" height="16.60" fill="none" stroke="#3a3a3a" stroke-width="0.6"/>
<rect x="334.70" y="65.80" width="9.70" height="27.70" fill="none" stroke="#3a3a3a" stroke-width="0.6"/>
<rect x="344.40" y="65.80" width="13.10" height="39.70" fill="none" stroke="#3a3a3a" stroke-width="0.6"/>
<rect x="357.50" y="65.50" width="18.70" height="47.40" fill="none" stroke="#6d6e71" stroke-width="0.6"/>
<text x="304.00" y="49.30" font-size="4.9" text-anchor="middle" font-weight="bold" fill="#111">P1</text>
<text x="304.00" y="53.60" font-size="4.9" text-anchor="middle" font-weight="bold" fill="#111">1.80</text>
<text x="311.50" y="67.10" font-size="4.9" text-anchor="middle" font-weight="bold" fill="#111">P2</text>
<text x="311.50" y="72.40" font-size="4.9" text-anchor="middle" font-weight="bold" fill="#111">1.36</text>
<text x="339.60" y="101.40" font-size="4.9" text-anchor="middle" font-weight="bold" fill="#111">P3</text>
<text x="339.40" y="107.00" font-size="4.9" text-anchor="middle" font-weight="bold" fill="#111">2.64</text>
<text x="353.10" y="44.20" font-size="4.9" text-anchor="middle" font-weight="bold" fill="#111">P4</text>
<text x="353.10" y="49.90" font-size="4.9" text-anchor="middle" font-weight="bold" fill="#111">11.1</text>
<text x="368.80" y="44.20" font-size="4.9" text-anchor="middle" font-weight="bold" fill="#111">P5</text>
<text x="369.40" y="49.90" font-size="4.9" text-anchor="middle" font-weight="bold" fill="#111">52.9</text>
<line x1="297.35" y1="33.50" x2="378.40" y2="33.50" stroke="#231f20" stroke-width="1.0"/>
<line x1="378.40" y1="33.50" x2="378.40" y2="114.40" stroke="#231f20" stroke-width="1.0"/>
<line x1="297.35" y1="114.40" x2="378.90" y2="114.40" stroke="#231f20" stroke-width="1.3"/>
<line x1="297.35" y1="33.00" x2="297.35" y2="115.00" stroke="#231f20" stroke-width="1.3"/>
<line x1="294.35" y1="114.40" x2="297.35" y2="114.40" stroke="#231f20" stroke-width="0.8"/>
<line x1="295.85" y1="108.29" x2="297.35" y2="108.29" stroke="#231f20" stroke-width="0.8"/>
<line x1="295.85" y1="104.71" x2="297.35" y2="104.71" stroke="#231f20" stroke-width="0.8"/>
<line x1="295.85" y1="102.18" x2="297.35" y2="102.18" stroke="#231f20" stroke-width="0.8"/>
<line x1="295.85" y1="100.21" x2="297.35" y2="100.21" stroke="#231f20" stroke-width="0.8"/>
<line x1="295.85" y1="98.60" x2="297.35" y2="98.60" stroke="#231f20" stroke-width="0.8"/>
<line x1="295.85" y1="97.24" x2="297.35" y2="97.24" stroke="#231f20" stroke-width="0.8"/>
<line x1="295.85" y1="96.07" x2="297.35" y2="96.07" stroke="#231f20" stroke-width="0.8"/>
<line x1="295.85" y1="95.03" x2="297.35" y2="95.03" stroke="#231f20" stroke-width="0.8"/>
<line x1="294.35" y1="94.10" x2="297.35" y2="94.10" stroke="#231f20" stroke-width="0.8"/>
<line x1="295.85" y1="87.96" x2="297.35" y2="87.96" stroke="#231f20" stroke-width="0.8"/>
<line x1="295.85" y1="84.37" x2="297.35" y2="84.37" stroke="#231f20" stroke-width="0.8"/>
<line x1="295.85" y1="81.82" x2="297.35" y2="81.82" stroke="#231f20" stroke-width="0.8"/>
<line x1="295.85" y1="79.84" x2="297.35" y2="79.84" stroke="#231f20" stroke-width="0.8"/>
<line x1="295.85" y1="78.23" x2="297.35" y2="78.23" stroke="#231f20" stroke-width="0.8"/>
<line x1="295.85" y1="76.86" x2="297.35" y2="76.86" stroke="#231f20" stroke-width="0.8"/>
<line x1="295.85" y1="75.68" x2="297.35" y2="75.68" stroke="#231f20" stroke-width="0.8"/>
<line x1="295.85" y1="74.63" x2="297.35" y2="74.63" stroke="#231f20" stroke-width="0.8"/>
<line x1="294.35" y1="73.70" x2="297.35" y2="73.70" stroke="#231f20" stroke-width="0.8"/>
<line x1="295.85" y1="67.59" x2="297.35" y2="67.59" stroke="#231f20" stroke-width="0.8"/>
<line x1="295.85" y1="64.01" x2="297.35" y2="64.01" stroke="#231f20" stroke-width="0.8"/>
<line x1="295.85" y1="61.48" x2="297.35" y2="61.48" stroke="#231f20" stroke-width="0.8"/>
<line x1="295.85" y1="59.51" x2="297.35" y2="59.51" stroke="#231f20" stroke-width="0.8"/>
<line x1="295.85" y1="57.90" x2="297.35" y2="57.90" stroke="#231f20" stroke-width="0.8"/>
<line x1="295.85" y1="56.54" x2="297.35" y2="56.54" stroke="#231f20" stroke-width="0.8"/>
<line x1="295.85" y1="55.37" x2="297.35" y2="55.37" stroke="#231f20" stroke-width="0.8"/>
<line x1="295.85" y1="54.33" x2="297.35" y2="54.33" stroke="#231f20" stroke-width="0.8"/>
<line x1="294.35" y1="53.40" x2="297.35" y2="53.40" stroke="#231f20" stroke-width="0.8"/>
<line x1="295.85" y1="47.68" x2="297.35" y2="47.68" stroke="#231f20" stroke-width="0.8"/>
<line x1="295.85" y1="44.33" x2="297.35" y2="44.33" stroke="#231f20" stroke-width="0.8"/>
<line x1="295.85" y1="41.96" x2="297.35" y2="41.96" stroke="#231f20" stroke-width="0.8"/>
<line x1="295.85" y1="40.12" x2="297.35" y2="40.12" stroke="#231f20" stroke-width="0.8"/>
<line x1="295.85" y1="38.62" x2="297.35" y2="38.62" stroke="#231f20" stroke-width="0.8"/>
<line x1="295.85" y1="37.34" x2="297.35" y2="37.34" stroke="#231f20" stroke-width="0.8"/>
<line x1="295.85" y1="36.24" x2="297.35" y2="36.24" stroke="#231f20" stroke-width="0.8"/>
<line x1="295.85" y1="35.27" x2="297.35" y2="35.27" stroke="#231f20" stroke-width="0.8"/>
<line x1="294.35" y1="34.40" x2="297.35" y2="34.40" stroke="#231f20" stroke-width="0.8"/>
<line x1="297.35" y1="114.40" x2="297.35" y2="117.40" stroke="#231f20" stroke-width="0.8"/>
<line x1="303.42" y1="114.40" x2="303.42" y2="115.90" stroke="#231f20" stroke-width="0.8"/>
<line x1="306.96" y1="114.40" x2="306.96" y2="115.90" stroke="#231f20" stroke-width="0.8"/>
<line x1="309.48" y1="114.40" x2="309.48" y2="115.90" stroke="#231f20" stroke-width="0.8"/>
<line x1="311.43" y1="114.40" x2="311.43" y2="115.90" stroke="#231f20" stroke-width="0.8"/>
<line x1="313.03" y1="114.40" x2="313.03" y2="115.90" stroke="#231f20" stroke-width="0.8"/>
<line x1="314.38" y1="114.40" x2="314.38" y2="115.90" stroke="#231f20" stroke-width="0.8"/>
<line x1="315.55" y1="114.40" x2="315.55" y2="115.90" stroke="#231f20" stroke-width="0.8"/>
<line x1="316.58" y1="114.40" x2="316.58" y2="115.90" stroke="#231f20" stroke-width="0.8"/>
<line x1="317.50" y1="114.40" x2="317.50" y2="117.40" stroke="#231f20" stroke-width="0.8"/>
<line x1="323.55" y1="114.40" x2="323.55" y2="115.90" stroke="#231f20" stroke-width="0.8"/>
<line x1="327.09" y1="114.40" x2="327.09" y2="115.90" stroke="#231f20" stroke-width="0.8"/>
<line x1="329.60" y1="114.40" x2="329.60" y2="115.90" stroke="#231f20" stroke-width="0.8"/>
<line x1="331.55" y1="114.40" x2="331.55" y2="115.90" stroke="#231f20" stroke-width="0.8"/>
<line x1="333.14" y1="114.40" x2="333.14" y2="115.90" stroke="#231f20" stroke-width="0.8"/>
<line x1="334.49" y1="114.40" x2="334.49" y2="115.90" stroke="#231f20" stroke-width="0.8"/>
<line x1="335.65" y1="114.40" x2="335.65" y2="115.90" stroke="#231f20" stroke-width="0.8"/>
<line x1="336.68" y1="114.40" x2="336.68" y2="115.90" stroke="#231f20" stroke-width="0.8"/>
<line x1="337.60" y1="114.40" x2="337.60" y2="117.40" stroke="#231f20" stroke-width="0.8"/>
<line x1="343.62" y1="114.40" x2="343.62" y2="115.90" stroke="#231f20" stroke-width="0.8"/>
<line x1="347.14" y1="114.40" x2="347.14" y2="115.90" stroke="#231f20" stroke-width="0.8"/>
<line x1="349.64" y1="114.40" x2="349.64" y2="115.90" stroke="#231f20" stroke-width="0.8"/>
<line x1="351.58" y1="114.40" x2="351.58" y2="115.90" stroke="#231f20" stroke-width="0.8"/>
<line x1="353.16" y1="114.40" x2="353.16" y2="115.90" stroke="#231f20" stroke-width="0.8"/>
<line x1="354.50" y1="114.40" x2="354.50" y2="115.90" stroke="#231f20" stroke-width="0.8"/>
<line x1="355.66" y1="114.40" x2="355.66" y2="115.90" stroke="#231f20" stroke-width="0.8"/>
<line x1="356.68" y1="114.40" x2="356.68" y2="115.90" stroke="#231f20" stroke-width="0.8"/>
<line x1="357.60" y1="114.40" x2="357.60" y2="117.40" stroke="#231f20" stroke-width="0.8"/>
<line x1="363.68" y1="114.40" x2="363.68" y2="115.90" stroke="#231f20" stroke-width="0.8"/>
<line x1="367.24" y1="114.40" x2="367.24" y2="115.90" stroke="#231f20" stroke-width="0.8"/>
<line x1="369.76" y1="114.40" x2="369.76" y2="115.90" stroke="#231f20" stroke-width="0.8"/>
<line x1="371.72" y1="114.40" x2="371.72" y2="115.90" stroke="#231f20" stroke-width="0.8"/>
<line x1="373.32" y1="114.40" x2="373.32" y2="115.90" stroke="#231f20" stroke-width="0.8"/>
<line x1="374.67" y1="114.40" x2="374.67" y2="115.90" stroke="#231f20" stroke-width="0.8"/>
<line x1="375.84" y1="114.40" x2="375.84" y2="115.90" stroke="#231f20" stroke-width="0.8"/>
<line x1="376.88" y1="114.40" x2="376.88" y2="115.90" stroke="#231f20" stroke-width="0.8"/>
<line x1="377.80" y1="114.40" x2="377.80" y2="117.40" stroke="#231f20" stroke-width="0.8"/>
<text x="291.75" y="117.10" font-size="8.3" text-anchor="end" fill="#231f20" stroke="#231f20" stroke-width="0.1">10<tspan font-size="5.15" dy="-3.15">0</tspan></text>
<text x="291.75" y="96.80" font-size="8.3" text-anchor="end" fill="#231f20" stroke="#231f20" stroke-width="0.1">10<tspan font-size="5.15" dy="-3.15">1</tspan></text>
<text x="291.75" y="76.40" font-size="8.3" text-anchor="end" fill="#231f20" stroke="#231f20" stroke-width="0.1">10<tspan font-size="5.15" dy="-3.15">2</tspan></text>
<text x="291.75" y="56.10" font-size="8.3" text-anchor="end" fill="#231f20" stroke="#231f20" stroke-width="0.1">10<tspan font-size="5.15" dy="-3.15">3</tspan></text>
<text x="291.75" y="37.10" font-size="8.3" text-anchor="end" fill="#231f20" stroke="#231f20" stroke-width="0.1">10<tspan font-size="5.15" dy="-3.15">4</tspan></text>
<text x="299.35" y="127.00" font-size="8.3" text-anchor="middle" fill="#231f20" stroke="#231f20" stroke-width="0.1">10<tspan font-size="5.15" dy="-3.15">0</tspan></text>
<text x="319.50" y="127.00" font-size="8.3" text-anchor="middle" fill="#231f20" stroke="#231f20" stroke-width="0.1">10<tspan font-size="5.15" dy="-3.15">1</tspan></text>
<text x="339.60" y="127.00" font-size="8.3" text-anchor="middle" fill="#231f20" stroke="#231f20" stroke-width="0.1">10<tspan font-size="5.15" dy="-3.15">2</tspan></text>
<text x="359.60" y="127.00" font-size="8.3" text-anchor="middle" fill="#231f20" stroke="#231f20" stroke-width="0.1">10<tspan font-size="5.15" dy="-3.15">3</tspan></text>
<text x="379.80" y="127.00" font-size="8.3" text-anchor="middle" fill="#231f20" stroke="#231f20" stroke-width="0.1">10<tspan font-size="5.15" dy="-3.15">4</tspan></text>
<g filter="url(#cb1)">
<rect x="417.30" y="33.60" width="81.20" height="80.80" fill="#000"/>
<ellipse cx="465.36" cy="81.86" rx="50.06" ry="44.00" fill="url(#q51)" style="mix-blend-mode:lighten"/>
<ellipse cx="436.39" cy="85.94" rx="25.03" ry="11.00" fill="url(#q52)" style="mix-blend-mode:lighten" transform="rotate(-20 436.39 85.94)"/>
<ellipse cx="418.31" cy="93.08" rx="14.02" ry="12.00" fill="url(#q53)" style="mix-blend-mode:lighten"/>
<ellipse cx="429.36" cy="108.31" rx="18.02" ry="10.00" fill="url(#q54)" style="mix-blend-mode:lighten"/>
<ellipse cx="453.16" cy="52.45" rx="16.02" ry="12.00" fill="url(#q55)" style="mix-blend-mode:lighten"/>
<ellipse cx="457.60" cy="78.80" rx="11.01" ry="17.00" fill="url(#q56)" style="mix-blend-mode:lighten"/>
<ellipse cx="451.54" cy="51.88" rx="8.01" ry="6.00" fill="url(#q57)" style="mix-blend-mode:lighten"/>
<ellipse cx="467.30" cy="61.52" rx="20.02" ry="7.60" fill="url(#q58)" style="mix-blend-mode:lighten" transform="rotate(19 467.30 61.52)"/>
<ellipse cx="454.57" cy="74.72" rx="11.01" ry="19.00" fill="url(#q59)" style="mix-blend-mode:lighten"/>
<ellipse cx="463.42" cy="107.30" rx="32.04" ry="11.00" fill="url(#q60)" style="mix-blend-mode:lighten"/>
<ellipse cx="469.24" cy="82.47" rx="11.76" ry="26.98" fill="url(#q61)" style="mix-blend-mode:lighten"/>
<ellipse cx="470.60" cy="83.49" rx="9.54" ry="19.68" fill="url(#q62)" style="mix-blend-mode:lighten"/>
<ellipse cx="470.79" cy="83.29" rx="5.40" ry="9.52" fill="url(#q63)" style="mix-blend-mode:lighten"/>
<ellipse cx="482.71" cy="84.92" rx="10.49" ry="29.21" fill="url(#q64)" style="mix-blend-mode:lighten"/>
<ellipse cx="481.90" cy="87.98" rx="8.90" ry="19.05" fill="url(#q65)" style="mix-blend-mode:lighten"/>
<ellipse cx="481.90" cy="90.43" rx="6.99" ry="7.62" fill="url(#q66)" style="mix-blend-mode:lighten"/>
<ellipse cx="481.90" cy="90.43" rx="3.50" ry="3.49" fill="url(#q67)" style="mix-blend-mode:lighten"/>
</g>
<rect x="427.30" y="44.30" width="32.70" height="16.00" fill="none" stroke="#6d6e71" stroke-width="0.6"/>
<rect x="440.10" y="60.30" width="13.70" height="17.10" fill="none" stroke="#3a3a3a" stroke-width="0.6"/>
<rect x="454.10" y="65.30" width="10.40" height="27.70" fill="none" stroke="#3a3a3a" stroke-width="0.6"/>
<rect x="464.50" y="65.30" width="12.30" height="40.00" fill="none" stroke="#3a3a3a" stroke-width="0.6"/>
<rect x="476.80" y="65.10" width="19.80" height="47.80" fill="none" stroke="#6d6e71" stroke-width="0.6"/>
<text x="423.30" y="47.80" font-size="4.9" text-anchor="middle" font-weight="bold" fill="#111">P1</text>
<text x="423.30" y="53.70" font-size="4.9" text-anchor="middle" font-weight="bold" fill="#111">2.97</text>
<text x="431.00" y="66.90" font-size="4.9" text-anchor="middle" font-weight="bold" fill="#111">P2</text>
<text x="431.00" y="72.50" font-size="4.9" text-anchor="middle" font-weight="bold" fill="#111">1.78</text>
<text x="459.80" y="101.00" font-size="4.9" text-anchor="middle" font-weight="bold" fill="#111">P3</text>
<text x="460.30" y="106.50" font-size="4.9" text-anchor="middle" font-weight="bold" fill="#111">5.37</text>
<text x="473.20" y="44.50" font-size="4.9" text-anchor="middle" font-weight="bold" fill="#111">P4</text>
<text x="473.20" y="50.00" font-size="4.9" text-anchor="middle" font-weight="bold" fill="#111">28.9</text>
<text x="488.80" y="44.50" font-size="4.9" text-anchor="middle" font-weight="bold" fill="#111">P5</text>
<text x="489.30" y="50.00" font-size="4.9" text-anchor="middle" font-weight="bold" fill="#111">34.2</text>
<line x1="417.30" y1="33.60" x2="498.50" y2="33.60" stroke="#231f20" stroke-width="1.0"/>
<line x1="498.50" y1="33.60" x2="498.50" y2="114.40" stroke="#231f20" stroke-width="1.0"/>
<line x1="417.30" y1="114.40" x2="499.00" y2="114.40" stroke="#231f20" stroke-width="1.3"/>
<line x1="417.30" y1="33.10" x2="417.30" y2="115.00" stroke="#231f20" stroke-width="1.3"/>
<line x1="414.30" y1="114.40" x2="417.30" y2="114.40" stroke="#231f20" stroke-width="0.8"/>
<line x1="415.80" y1="108.29" x2="417.30" y2="108.29" stroke="#231f20" stroke-width="0.8"/>
<line x1="415.80" y1="104.71" x2="417.30" y2="104.71" stroke="#231f20" stroke-width="0.8"/>
<line x1="415.80" y1="102.18" x2="417.30" y2="102.18" stroke="#231f20" stroke-width="0.8"/>
<line x1="415.80" y1="100.21" x2="417.30" y2="100.21" stroke="#231f20" stroke-width="0.8"/>
<line x1="415.80" y1="98.60" x2="417.30" y2="98.60" stroke="#231f20" stroke-width="0.8"/>
<line x1="415.80" y1="97.24" x2="417.30" y2="97.24" stroke="#231f20" stroke-width="0.8"/>
<line x1="415.80" y1="96.07" x2="417.30" y2="96.07" stroke="#231f20" stroke-width="0.8"/>
<line x1="415.80" y1="95.03" x2="417.30" y2="95.03" stroke="#231f20" stroke-width="0.8"/>
<line x1="414.30" y1="94.10" x2="417.30" y2="94.10" stroke="#231f20" stroke-width="0.8"/>
<line x1="415.80" y1="87.96" x2="417.30" y2="87.96" stroke="#231f20" stroke-width="0.8"/>
<line x1="415.80" y1="84.37" x2="417.30" y2="84.37" stroke="#231f20" stroke-width="0.8"/>
<line x1="415.80" y1="81.82" x2="417.30" y2="81.82" stroke="#231f20" stroke-width="0.8"/>
<line x1="415.80" y1="79.84" x2="417.30" y2="79.84" stroke="#231f20" stroke-width="0.8"/>
<line x1="415.80" y1="78.23" x2="417.30" y2="78.23" stroke="#231f20" stroke-width="0.8"/>
<line x1="415.80" y1="76.86" x2="417.30" y2="76.86" stroke="#231f20" stroke-width="0.8"/>
<line x1="415.80" y1="75.68" x2="417.30" y2="75.68" stroke="#231f20" stroke-width="0.8"/>
<line x1="415.80" y1="74.63" x2="417.30" y2="74.63" stroke="#231f20" stroke-width="0.8"/>
<line x1="414.30" y1="73.70" x2="417.30" y2="73.70" stroke="#231f20" stroke-width="0.8"/>
<line x1="415.80" y1="67.59" x2="417.30" y2="67.59" stroke="#231f20" stroke-width="0.8"/>
<line x1="415.80" y1="64.01" x2="417.30" y2="64.01" stroke="#231f20" stroke-width="0.8"/>
<line x1="415.80" y1="61.48" x2="417.30" y2="61.48" stroke="#231f20" stroke-width="0.8"/>
<line x1="415.80" y1="59.51" x2="417.30" y2="59.51" stroke="#231f20" stroke-width="0.8"/>
<line x1="415.80" y1="57.90" x2="417.30" y2="57.90" stroke="#231f20" stroke-width="0.8"/>
<line x1="415.80" y1="56.54" x2="417.30" y2="56.54" stroke="#231f20" stroke-width="0.8"/>
<line x1="415.80" y1="55.37" x2="417.30" y2="55.37" stroke="#231f20" stroke-width="0.8"/>
<line x1="415.80" y1="54.33" x2="417.30" y2="54.33" stroke="#231f20" stroke-width="0.8"/>
<line x1="414.30" y1="53.40" x2="417.30" y2="53.40" stroke="#231f20" stroke-width="0.8"/>
<line x1="415.80" y1="47.68" x2="417.30" y2="47.68" stroke="#231f20" stroke-width="0.8"/>
<line x1="415.80" y1="44.33" x2="417.30" y2="44.33" stroke="#231f20" stroke-width="0.8"/>
<line x1="415.80" y1="41.96" x2="417.30" y2="41.96" stroke="#231f20" stroke-width="0.8"/>
<line x1="415.80" y1="40.12" x2="417.30" y2="40.12" stroke="#231f20" stroke-width="0.8"/>
<line x1="415.80" y1="38.62" x2="417.30" y2="38.62" stroke="#231f20" stroke-width="0.8"/>
<line x1="415.80" y1="37.34" x2="417.30" y2="37.34" stroke="#231f20" stroke-width="0.8"/>
<line x1="415.80" y1="36.24" x2="417.30" y2="36.24" stroke="#231f20" stroke-width="0.8"/>
<line x1="415.80" y1="35.27" x2="417.30" y2="35.27" stroke="#231f20" stroke-width="0.8"/>
<line x1="414.30" y1="34.40" x2="417.30" y2="34.40" stroke="#231f20" stroke-width="0.8"/>
<line x1="417.30" y1="114.40" x2="417.30" y2="117.40" stroke="#231f20" stroke-width="0.8"/>
<line x1="423.35" y1="114.40" x2="423.35" y2="115.90" stroke="#231f20" stroke-width="0.8"/>
<line x1="426.89" y1="114.40" x2="426.89" y2="115.90" stroke="#231f20" stroke-width="0.8"/>
<line x1="429.40" y1="114.40" x2="429.40" y2="115.90" stroke="#231f20" stroke-width="0.8"/>
<line x1="431.35" y1="114.40" x2="431.35" y2="115.90" stroke="#231f20" stroke-width="0.8"/>
<line x1="432.94" y1="114.40" x2="432.94" y2="115.90" stroke="#231f20" stroke-width="0.8"/>
<line x1="434.29" y1="114.40" x2="434.29" y2="115.90" stroke="#231f20" stroke-width="0.8"/>
<line x1="435.45" y1="114.40" x2="435.45" y2="115.90" stroke="#231f20" stroke-width="0.8"/>
<line x1="436.48" y1="114.40" x2="436.48" y2="115.90" stroke="#231f20" stroke-width="0.8"/>
<line x1="437.40" y1="114.40" x2="437.40" y2="117.40" stroke="#231f20" stroke-width="0.8"/>
<line x1="443.48" y1="114.40" x2="443.48" y2="115.90" stroke="#231f20" stroke-width="0.8"/>
<line x1="447.04" y1="114.40" x2="447.04" y2="115.90" stroke="#231f20" stroke-width="0.8"/>
<line x1="449.56" y1="114.40" x2="449.56" y2="115.90" stroke="#231f20" stroke-width="0.8"/>
<line x1="451.52" y1="114.40" x2="451.52" y2="115.90" stroke="#231f20" stroke-width="0.8"/>
<line x1="453.12" y1="114.40" x2="453.12" y2="115.90" stroke="#231f20" stroke-width="0.8"/>
<line x1="454.47" y1="114.40" x2="454.47" y2="115.90" stroke="#231f20" stroke-width="0.8"/>
<line x1="455.64" y1="114.40" x2="455.64" y2="115.90" stroke="#231f20" stroke-width="0.8"/>
<line x1="456.68" y1="114.40" x2="456.68" y2="115.90" stroke="#231f20" stroke-width="0.8"/>
<line x1="457.60" y1="114.40" x2="457.60" y2="117.40" stroke="#231f20" stroke-width="0.8"/>
<line x1="463.44" y1="114.40" x2="463.44" y2="115.90" stroke="#231f20" stroke-width="0.8"/>
<line x1="466.86" y1="114.40" x2="466.86" y2="115.90" stroke="#231f20" stroke-width="0.8"/>
<line x1="469.28" y1="114.40" x2="469.28" y2="115.90" stroke="#231f20" stroke-width="0.8"/>
<line x1="471.16" y1="114.40" x2="471.16" y2="115.90" stroke="#231f20" stroke-width="0.8"/>
<line x1="472.70" y1="114.40" x2="472.70" y2="115.90" stroke="#231f20" stroke-width="0.8"/>
<line x1="473.99" y1="114.40" x2="473.99" y2="115.90" stroke="#231f20" stroke-width="0.8"/>
<line x1="475.12" y1="114.40" x2="475.12" y2="115.90" stroke="#231f20" stroke-width="0.8"/>
<line x1="476.11" y1="114.40" x2="476.11" y2="115.90" stroke="#231f20" stroke-width="0.8"/>
<line x1="477.00" y1="114.40" x2="477.00" y2="117.40" stroke="#231f20" stroke-width="0.8"/>
<line x1="483.14" y1="114.40" x2="483.14" y2="115.90" stroke="#231f20" stroke-width="0.8"/>
<line x1="486.73" y1="114.40" x2="486.73" y2="115.90" stroke="#231f20" stroke-width="0.8"/>
<line x1="489.28" y1="114.40" x2="489.28" y2="115.90" stroke="#231f20" stroke-width="0.8"/>
<line x1="491.26" y1="114.40" x2="491.26" y2="115.90" stroke="#231f20" stroke-width="0.8"/>
<line x1="492.87" y1="114.40" x2="492.87" y2="115.90" stroke="#231f20" stroke-width="0.8"/>
<line x1="494.24" y1="114.40" x2="494.24" y2="115.90" stroke="#231f20" stroke-width="0.8"/>
<line x1="495.42" y1="114.40" x2="495.42" y2="115.90" stroke="#231f20" stroke-width="0.8"/>
<line x1="496.47" y1="114.40" x2="496.47" y2="115.90" stroke="#231f20" stroke-width="0.8"/>
<line x1="497.40" y1="114.40" x2="497.40" y2="117.40" stroke="#231f20" stroke-width="0.8"/>
<text x="411.70" y="117.10" font-size="8.3" text-anchor="end" fill="#231f20" stroke="#231f20" stroke-width="0.1">10<tspan font-size="5.15" dy="-3.15">0</tspan></text>
<text x="411.70" y="96.80" font-size="8.3" text-anchor="end" fill="#231f20" stroke="#231f20" stroke-width="0.1">10<tspan font-size="5.15" dy="-3.15">1</tspan></text>
<text x="411.70" y="76.40" font-size="8.3" text-anchor="end" fill="#231f20" stroke="#231f20" stroke-width="0.1">10<tspan font-size="5.15" dy="-3.15">2</tspan></text>
<text x="411.70" y="56.10" font-size="8.3" text-anchor="end" fill="#231f20" stroke="#231f20" stroke-width="0.1">10<tspan font-size="5.15" dy="-3.15">3</tspan></text>
<text x="411.70" y="37.10" font-size="8.3" text-anchor="end" fill="#231f20" stroke="#231f20" stroke-width="0.1">10<tspan font-size="5.15" dy="-3.15">4</tspan></text>
<text x="419.30" y="127.00" font-size="8.3" text-anchor="middle" fill="#231f20" stroke="#231f20" stroke-width="0.1">10<tspan font-size="5.15" dy="-3.15">0</tspan></text>
<text x="439.40" y="127.00" font-size="8.3" text-anchor="middle" fill="#231f20" stroke="#231f20" stroke-width="0.1">10<tspan font-size="5.15" dy="-3.15">1</tspan></text>
<text x="459.60" y="127.00" font-size="8.3" text-anchor="middle" fill="#231f20" stroke="#231f20" stroke-width="0.1">10<tspan font-size="5.15" dy="-3.15">2</tspan></text>
<text x="479.00" y="127.00" font-size="8.3" text-anchor="middle" fill="#231f20" stroke="#231f20" stroke-width="0.1">10<tspan font-size="5.15" dy="-3.15">3</tspan></text>
<text x="499.40" y="127.00" font-size="8.3" text-anchor="middle" fill="#231f20" stroke="#231f20" stroke-width="0.1">10<tspan font-size="5.15" dy="-3.15">4</tspan></text>
<g filter="url(#cb2)">
<rect x="297.50" y="156.60" width="81.20" height="80.20" fill="#000"/>
<ellipse cx="345.66" cy="204.42" rx="50.25" ry="43.67" fill="url(#q68)" style="mix-blend-mode:lighten"/>
<ellipse cx="316.60" cy="208.48" rx="25.12" ry="10.92" fill="url(#q69)" style="mix-blend-mode:lighten" transform="rotate(-20 316.60 208.48)"/>
<ellipse cx="298.50" cy="215.59" rx="14.07" ry="11.91" fill="url(#q70)" style="mix-blend-mode:lighten"/>
<ellipse cx="309.56" cy="230.74" rx="18.09" ry="9.93" fill="url(#q71)" style="mix-blend-mode:lighten"/>
<ellipse cx="332.68" cy="175.45" rx="15.07" ry="10.92" fill="url(#q72)" style="mix-blend-mode:lighten"/>
<ellipse cx="337.70" cy="201.38" rx="11.05" ry="16.87" fill="url(#q73)" style="mix-blend-mode:lighten"/>
<ellipse cx="331.67" cy="177.40" rx="9.04" ry="6.95" fill="url(#q74)" style="mix-blend-mode:lighten"/>
<ellipse cx="347.65" cy="184.36" rx="20.10" ry="7.54" fill="url(#q75)" style="mix-blend-mode:lighten" transform="rotate(19 347.65 184.36)"/>
<ellipse cx="334.69" cy="197.31" rx="11.05" ry="18.86" fill="url(#q76)" style="mix-blend-mode:lighten"/>
<ellipse cx="343.67" cy="229.73" rx="32.16" ry="10.92" fill="url(#q77)" style="mix-blend-mode:lighten"/>
<ellipse cx="350.63" cy="216.60" rx="8.04" ry="15.88" fill="url(#q78)" style="mix-blend-mode:lighten"/>
<ellipse cx="351.03" cy="200.36" rx="10.21" ry="18.90" fill="url(#q79)" style="mix-blend-mode:lighten"/>
<ellipse cx="351.63" cy="192.32" rx="6.38" ry="7.88" fill="url(#q80)" style="mix-blend-mode:lighten"/>
<ellipse cx="366.53" cy="210.92" rx="14.68" ry="36.86" fill="url(#q81)" style="mix-blend-mode:lighten"/>
<ellipse cx="366.13" cy="208.89" rx="13.40" ry="30.56" fill="url(#q82)" style="mix-blend-mode:lighten"/>
<ellipse cx="368.97" cy="208.48" rx="7.02" ry="25.21" fill="url(#q83)" style="mix-blend-mode:lighten"/>
<ellipse cx="369.78" cy="206.45" rx="3.83" ry="14.18" fill="url(#q84)" style="mix-blend-mode:lighten"/>
</g>
<rect x="307.90" y="167.40" width="32.50" height="14.70" fill="none" stroke="#6d6e71" stroke-width="0.6"/>
<rect x="320.10" y="182.50" width="14.00" height="17.60" fill="none" stroke="#3a3a3a" stroke-width="0.6"/>
<rect x="334.30" y="188.40" width="10.20" height="27.40" fill="none" stroke="#3a3a3a" stroke-width="0.6"/>
<rect x="344.50" y="188.40" width="12.90" height="39.70" fill="none" stroke="#3a3a3a" stroke-width="0.6"/>
<rect x="357.40" y="187.80" width="20.20" height="48.20" fill="none" stroke="#6d6e71" stroke-width="0.6"/>
<text x="303.80" y="170.70" font-size="4.9" text-anchor="middle" font-weight="bold" fill="#111">P1</text>
<text x="303.80" y="176.70" font-size="4.9" text-anchor="middle" font-weight="bold" fill="#111">1.73</text>
<text x="311.30" y="190.40" font-size="4.9" text-anchor="middle" font-weight="bold" fill="#111">P2</text>
<text x="311.30" y="195.00" font-size="4.9" text-anchor="middle" font-weight="bold" fill="#111">1.19</text>
<text x="339.70" y="223.50" font-size="4.9" text-anchor="middle" font-weight="bold" fill="#111">P3</text>
<text x="339.70" y="229.00" font-size="4.9" text-anchor="middle" font-weight="bold" fill="#111">2.02</text>
<text x="353.30" y="167.00" font-size="4.9" text-anchor="middle" font-weight="bold" fill="#111">P4</text>
<text x="353.30" y="172.00" font-size="4.9" text-anchor="middle" font-weight="bold" fill="#111">9.57</text>
<text x="369.20" y="167.00" font-size="4.9" text-anchor="middle" font-weight="bold" fill="#111">P5</text>
<text x="369.50" y="172.00" font-size="4.9" text-anchor="middle" font-weight="bold" fill="#111">54.6</text>
<line x1="297.50" y1="156.60" x2="378.70" y2="156.60" stroke="#231f20" stroke-width="1.0"/>
<line x1="378.70" y1="156.60" x2="378.70" y2="236.80" stroke="#231f20" stroke-width="1.0"/>
<line x1="297.50" y1="236.80" x2="379.20" y2="236.80" stroke="#231f20" stroke-width="1.3"/>
<line x1="297.50" y1="156.10" x2="297.50" y2="237.40" stroke="#231f20" stroke-width="1.3"/>
<line x1="294.50" y1="236.80" x2="297.50" y2="236.80" stroke="#231f20" stroke-width="0.8"/>
<line x1="296.00" y1="230.72" x2="297.50" y2="230.72" stroke="#231f20" stroke-width="0.8"/>
<line x1="296.00" y1="227.16" x2="297.50" y2="227.16" stroke="#231f20" stroke-width="0.8"/>
<line x1="296.00" y1="224.64" x2="297.50" y2="224.64" stroke="#231f20" stroke-width="0.8"/>
<line x1="296.00" y1="222.68" x2="297.50" y2="222.68" stroke="#231f20" stroke-width="0.8"/>
<line x1="296.00" y1="221.08" x2="297.50" y2="221.08" stroke="#231f20" stroke-width="0.8"/>
<line x1="296.00" y1="219.73" x2="297.50" y2="219.73" stroke="#231f20" stroke-width="0.8"/>
<line x1="296.00" y1="218.56" x2="297.50" y2="218.56" stroke="#231f20" stroke-width="0.8"/>
<line x1="296.00" y1="217.52" x2="297.50" y2="217.52" stroke="#231f20" stroke-width="0.8"/>
<line x1="294.50" y1="216.60" x2="297.50" y2="216.60" stroke="#231f20" stroke-width="0.8"/>
<line x1="296.00" y1="210.49" x2="297.50" y2="210.49" stroke="#231f20" stroke-width="0.8"/>
<line x1="296.00" y1="206.91" x2="297.50" y2="206.91" stroke="#231f20" stroke-width="0.8"/>
<line x1="296.00" y1="204.38" x2="297.50" y2="204.38" stroke="#231f20" stroke-width="0.8"/>
<line x1="296.00" y1="202.41" x2="297.50" y2="202.41" stroke="#231f20" stroke-width="0.8"/>
<line x1="296.00" y1="200.80" x2="297.50" y2="200.80" stroke="#231f20" stroke-width="0.8"/>
<line x1="296.00" y1="199.44" x2="297.50" y2="199.44" stroke="#231f20" stroke-width="0.8"/>
<line x1="296.00" y1="198.27" x2="297.50" y2="198.27" stroke="#231f20" stroke-width="0.8"/>
<line x1="296.00" y1="197.23" x2="297.50" y2="197.23" stroke="#231f20" stroke-width="0.8"/>
<line x1="294.50" y1="196.30" x2="297.50" y2="196.30" stroke="#231f20" stroke-width="0.8"/>
<line x1="296.00" y1="190.31" x2="297.50" y2="190.31" stroke="#231f20" stroke-width="0.8"/>
<line x1="296.00" y1="186.81" x2="297.50" y2="186.81" stroke="#231f20" stroke-width="0.8"/>
<line x1="296.00" y1="184.32" x2="297.50" y2="184.32" stroke="#231f20" stroke-width="0.8"/>
<line x1="296.00" y1="182.39" x2="297.50" y2="182.39" stroke="#231f20" stroke-width="0.8"/>
<line x1="296.00" y1="180.81" x2="297.50" y2="180.81" stroke="#231f20" stroke-width="0.8"/>
<line x1="296.00" y1="179.48" x2="297.50" y2="179.48" stroke="#231f20" stroke-width="0.8"/>
<line x1="296.00" y1="178.33" x2="297.50" y2="178.33" stroke="#231f20" stroke-width="0.8"/>
<line x1="296.00" y1="177.31" x2="297.50" y2="177.31" stroke="#231f20" stroke-width="0.8"/>
<line x1="294.50" y1="176.40" x2="297.50" y2="176.40" stroke="#231f20" stroke-width="0.8"/>
<line x1="296.00" y1="170.68" x2="297.50" y2="170.68" stroke="#231f20" stroke-width="0.8"/>
<line x1="296.00" y1="167.33" x2="297.50" y2="167.33" stroke="#231f20" stroke-width="0.8"/>
<line x1="296.00" y1="164.96" x2="297.50" y2="164.96" stroke="#231f20" stroke-width="0.8"/>
<line x1="296.00" y1="163.12" x2="297.50" y2="163.12" stroke="#231f20" stroke-width="0.8"/>
<line x1="296.00" y1="161.62" x2="297.50" y2="161.62" stroke="#231f20" stroke-width="0.8"/>
<line x1="296.00" y1="160.34" x2="297.50" y2="160.34" stroke="#231f20" stroke-width="0.8"/>
<line x1="296.00" y1="159.24" x2="297.50" y2="159.24" stroke="#231f20" stroke-width="0.8"/>
<line x1="296.00" y1="158.27" x2="297.50" y2="158.27" stroke="#231f20" stroke-width="0.8"/>
<line x1="294.50" y1="157.40" x2="297.50" y2="157.40" stroke="#231f20" stroke-width="0.8"/>
<line x1="297.50" y1="236.80" x2="297.50" y2="239.80" stroke="#231f20" stroke-width="0.8"/>
<line x1="303.55" y1="236.80" x2="303.55" y2="238.30" stroke="#231f20" stroke-width="0.8"/>
<line x1="307.09" y1="236.80" x2="307.09" y2="238.30" stroke="#231f20" stroke-width="0.8"/>
<line x1="309.60" y1="236.80" x2="309.60" y2="238.30" stroke="#231f20" stroke-width="0.8"/>
<line x1="311.55" y1="236.80" x2="311.55" y2="238.30" stroke="#231f20" stroke-width="0.8"/>
<line x1="313.14" y1="236.80" x2="313.14" y2="238.30" stroke="#231f20" stroke-width="0.8"/>
<line x1="314.49" y1="236.80" x2="314.49" y2="238.30" stroke="#231f20" stroke-width="0.8"/>
<line x1="315.65" y1="236.80" x2="315.65" y2="238.30" stroke="#231f20" stroke-width="0.8"/>
<line x1="316.68" y1="236.80" x2="316.68" y2="238.30" stroke="#231f20" stroke-width="0.8"/>
<line x1="317.60" y1="236.80" x2="317.60" y2="239.80" stroke="#231f20" stroke-width="0.8"/>
<line x1="323.65" y1="236.80" x2="323.65" y2="238.30" stroke="#231f20" stroke-width="0.8"/>
<line x1="327.19" y1="236.80" x2="327.19" y2="238.30" stroke="#231f20" stroke-width="0.8"/>
<line x1="329.70" y1="236.80" x2="329.70" y2="238.30" stroke="#231f20" stroke-width="0.8"/>
<line x1="331.65" y1="236.80" x2="331.65" y2="238.30" stroke="#231f20" stroke-width="0.8"/>
<line x1="333.24" y1="236.80" x2="333.24" y2="238.30" stroke="#231f20" stroke-width="0.8"/>
<line x1="334.59" y1="236.80" x2="334.59" y2="238.30" stroke="#231f20" stroke-width="0.8"/>
<line x1="335.75" y1="236.80" x2="335.75" y2="238.30" stroke="#231f20" stroke-width="0.8"/>
<line x1="336.78" y1="236.80" x2="336.78" y2="238.30" stroke="#231f20" stroke-width="0.8"/>
<line x1="337.70" y1="236.80" x2="337.70" y2="239.80" stroke="#231f20" stroke-width="0.8"/>
<line x1="343.69" y1="236.80" x2="343.69" y2="238.30" stroke="#231f20" stroke-width="0.8"/>
<line x1="347.19" y1="236.80" x2="347.19" y2="238.30" stroke="#231f20" stroke-width="0.8"/>
<line x1="349.68" y1="236.80" x2="349.68" y2="238.30" stroke="#231f20" stroke-width="0.8"/>
<line x1="351.61" y1="236.80" x2="351.61" y2="238.30" stroke="#231f20" stroke-width="0.8"/>
<line x1="353.19" y1="236.80" x2="353.19" y2="238.30" stroke="#231f20" stroke-width="0.8"/>
<line x1="354.52" y1="236.80" x2="354.52" y2="238.30" stroke="#231f20" stroke-width="0.8"/>
<line x1="355.67" y1="236.80" x2="355.67" y2="238.30" stroke="#231f20" stroke-width="0.8"/>
<line x1="356.69" y1="236.80" x2="356.69" y2="238.30" stroke="#231f20" stroke-width="0.8"/>
<line x1="357.60" y1="236.80" x2="357.60" y2="239.80" stroke="#231f20" stroke-width="0.8"/>
<line x1="363.71" y1="236.80" x2="363.71" y2="238.30" stroke="#231f20" stroke-width="0.8"/>
<line x1="367.29" y1="236.80" x2="367.29" y2="238.30" stroke="#231f20" stroke-width="0.8"/>
<line x1="369.82" y1="236.80" x2="369.82" y2="238.30" stroke="#231f20" stroke-width="0.8"/>
<line x1="371.79" y1="236.80" x2="371.79" y2="238.30" stroke="#231f20" stroke-width="0.8"/>
<line x1="373.40" y1="236.80" x2="373.40" y2="238.30" stroke="#231f20" stroke-width="0.8"/>
<line x1="374.76" y1="236.80" x2="374.76" y2="238.30" stroke="#231f20" stroke-width="0.8"/>
<line x1="375.93" y1="236.80" x2="375.93" y2="238.30" stroke="#231f20" stroke-width="0.8"/>
<line x1="376.97" y1="236.80" x2="376.97" y2="238.30" stroke="#231f20" stroke-width="0.8"/>
<line x1="377.90" y1="236.80" x2="377.90" y2="239.80" stroke="#231f20" stroke-width="0.8"/>
<text x="291.90" y="239.50" font-size="8.3" text-anchor="end" fill="#231f20" stroke="#231f20" stroke-width="0.1">10<tspan font-size="5.15" dy="-3.15">0</tspan></text>
<text x="291.90" y="219.30" font-size="8.3" text-anchor="end" fill="#231f20" stroke="#231f20" stroke-width="0.1">10<tspan font-size="5.15" dy="-3.15">1</tspan></text>
<text x="291.90" y="199.00" font-size="8.3" text-anchor="end" fill="#231f20" stroke="#231f20" stroke-width="0.1">10<tspan font-size="5.15" dy="-3.15">2</tspan></text>
<text x="291.90" y="179.10" font-size="8.3" text-anchor="end" fill="#231f20" stroke="#231f20" stroke-width="0.1">10<tspan font-size="5.15" dy="-3.15">3</tspan></text>
<text x="291.90" y="160.10" font-size="8.3" text-anchor="end" fill="#231f20" stroke="#231f20" stroke-width="0.1">10<tspan font-size="5.15" dy="-3.15">4</tspan></text>
<text x="299.50" y="249.40" font-size="8.3" text-anchor="middle" fill="#231f20" stroke="#231f20" stroke-width="0.1">10<tspan font-size="5.15" dy="-3.15">0</tspan></text>
<text x="319.60" y="249.40" font-size="8.3" text-anchor="middle" fill="#231f20" stroke="#231f20" stroke-width="0.1">10<tspan font-size="5.15" dy="-3.15">1</tspan></text>
<text x="339.70" y="249.40" font-size="8.3" text-anchor="middle" fill="#231f20" stroke="#231f20" stroke-width="0.1">10<tspan font-size="5.15" dy="-3.15">2</tspan></text>
<text x="359.60" y="249.40" font-size="8.3" text-anchor="middle" fill="#231f20" stroke="#231f20" stroke-width="0.1">10<tspan font-size="5.15" dy="-3.15">3</tspan></text>
<text x="379.90" y="249.40" font-size="8.3" text-anchor="middle" fill="#231f20" stroke="#231f20" stroke-width="0.1">10<tspan font-size="5.15" dy="-3.15">4</tspan></text>
<g filter="url(#cb3)">
<rect x="417.40" y="156.60" width="81.40" height="80.20" fill="#000"/>
<ellipse cx="465.52" cy="204.42" rx="50.25" ry="43.67" fill="url(#q85)" style="mix-blend-mode:lighten"/>
<ellipse cx="436.50" cy="208.48" rx="25.13" ry="10.92" fill="url(#q86)" style="mix-blend-mode:lighten" transform="rotate(-20 436.50 208.48)"/>
<ellipse cx="418.40" cy="215.59" rx="14.07" ry="11.91" fill="url(#q87)" style="mix-blend-mode:lighten"/>
<ellipse cx="429.46" cy="230.74" rx="18.09" ry="9.93" fill="url(#q88)" style="mix-blend-mode:lighten"/>
<ellipse cx="453.18" cy="175.45" rx="16.08" ry="11.91" fill="url(#q89)" style="mix-blend-mode:lighten"/>
<ellipse cx="457.60" cy="201.38" rx="11.06" ry="16.87" fill="url(#q90)" style="mix-blend-mode:lighten"/>
<ellipse cx="451.57" cy="175.45" rx="8.04" ry="5.96" fill="url(#q91)" style="mix-blend-mode:lighten"/>
<ellipse cx="467.50" cy="184.36" rx="20.10" ry="7.54" fill="url(#q92)" style="mix-blend-mode:lighten" transform="rotate(19 467.50 184.36)"/>
<ellipse cx="454.59" cy="197.31" rx="11.06" ry="18.86" fill="url(#q93)" style="mix-blend-mode:lighten"/>
<ellipse cx="463.54" cy="229.73" rx="32.16" ry="10.92" fill="url(#q94)" style="mix-blend-mode:lighten"/>
<ellipse cx="471.06" cy="206.04" rx="9.57" ry="22.69" fill="url(#q95)" style="mix-blend-mode:lighten"/>
<ellipse cx="472.05" cy="206.04" rx="7.98" ry="14.18" fill="url(#q96)" style="mix-blend-mode:lighten"/>
<ellipse cx="485.15" cy="208.89" rx="12.76" ry="28.99" fill="url(#q97)" style="mix-blend-mode:lighten"/>
<ellipse cx="483.72" cy="209.50" rx="10.53" ry="19.53" fill="url(#q98)" style="mix-blend-mode:lighten"/>
<ellipse cx="482.91" cy="210.92" rx="9.57" ry="14.18" fill="url(#q99)" style="mix-blend-mode:lighten"/>
<ellipse cx="483.52" cy="213.35" rx="4.79" ry="4.73" fill="url(#q100)" style="mix-blend-mode:lighten"/>
</g>
<rect x="427.90" y="167.40" width="32.50" height="15.10" fill="none" stroke="#6d6e71" stroke-width="0.6"/>
<rect x="440.10" y="182.50" width="13.70" height="17.60" fill="none" stroke="#3a3a3a" stroke-width="0.6"/>
<rect x="454.10" y="187.80" width="10.40" height="28.70" fill="none" stroke="#3a3a3a" stroke-width="0.6"/>
<rect x="464.50" y="187.80" width="12.90" height="40.30" fill="none" stroke="#3a3a3a" stroke-width="0.6"/>
<rect x="477.40" y="187.80" width="19.80" height="48.20" fill="none" stroke="#6d6e71" stroke-width="0.6"/>
<text x="423.80" y="170.70" font-size="4.9" text-anchor="middle" font-weight="bold" fill="#111">P1</text>
<text x="423.80" y="176.70" font-size="4.9" text-anchor="middle" font-weight="bold" fill="#111">1.77</text>
<text x="431.30" y="190.40" font-size="4.9" text-anchor="middle" font-weight="bold" fill="#111">P2</text>
<text x="431.30" y="195.00" font-size="4.9" text-anchor="middle" font-weight="bold" fill="#111">1.26</text>
<text x="459.70" y="223.50" font-size="4.9" text-anchor="middle" font-weight="bold" fill="#111">P3</text>
<text x="459.70" y="229.00" font-size="4.9" text-anchor="middle" font-weight="bold" fill="#111">3.68</text>
<text x="473.30" y="167.00" font-size="4.9" text-anchor="middle" font-weight="bold" fill="#111">P4</text>
<text x="473.30" y="172.00" font-size="4.9" text-anchor="middle" font-weight="bold" fill="#111">20.1</text>
<text x="489.20" y="167.00" font-size="4.9" text-anchor="middle" font-weight="bold" fill="#111">P5</text>
<text x="489.50" y="172.00" font-size="4.9" text-anchor="middle" font-weight="bold" fill="#111">54.3</text>
<line x1="417.40" y1="156.60" x2="498.80" y2="156.60" stroke="#231f20" stroke-width="1.0"/>
<line x1="498.80" y1="156.60" x2="498.80" y2="236.80" stroke="#231f20" stroke-width="1.0"/>
<line x1="417.40" y1="236.80" x2="499.30" y2="236.80" stroke="#231f20" stroke-width="1.3"/>
<line x1="417.40" y1="156.10" x2="417.40" y2="237.40" stroke="#231f20" stroke-width="1.3"/>
<line x1="414.40" y1="236.80" x2="417.40" y2="236.80" stroke="#231f20" stroke-width="0.8"/>
<line x1="415.90" y1="230.72" x2="417.40" y2="230.72" stroke="#231f20" stroke-width="0.8"/>
<line x1="415.90" y1="227.16" x2="417.40" y2="227.16" stroke="#231f20" stroke-width="0.8"/>
<line x1="415.90" y1="224.64" x2="417.40" y2="224.64" stroke="#231f20" stroke-width="0.8"/>
<line x1="415.90" y1="222.68" x2="417.40" y2="222.68" stroke="#231f20" stroke-width="0.8"/>
<line x1="415.90" y1="221.08" x2="417.40" y2="221.08" stroke="#231f20" stroke-width="0.8"/>
<line x1="415.90" y1="219.73" x2="417.40" y2="219.73" stroke="#231f20" stroke-width="0.8"/>
<line x1="415.90" y1="218.56" x2="417.40" y2="218.56" stroke="#231f20" stroke-width="0.8"/>
<line x1="415.90" y1="217.52" x2="417.40" y2="217.52" stroke="#231f20" stroke-width="0.8"/>
<line x1="414.40" y1="216.60" x2="417.40" y2="216.60" stroke="#231f20" stroke-width="0.8"/>
<line x1="415.90" y1="210.49" x2="417.40" y2="210.49" stroke="#231f20" stroke-width="0.8"/>
<line x1="415.90" y1="206.91" x2="417.40" y2="206.91" stroke="#231f20" stroke-width="0.8"/>
<line x1="415.90" y1="204.38" x2="417.40" y2="204.38" stroke="#231f20" stroke-width="0.8"/>
<line x1="415.90" y1="202.41" x2="417.40" y2="202.41" stroke="#231f20" stroke-width="0.8"/>
<line x1="415.90" y1="200.80" x2="417.40" y2="200.80" stroke="#231f20" stroke-width="0.8"/>
<line x1="415.90" y1="199.44" x2="417.40" y2="199.44" stroke="#231f20" stroke-width="0.8"/>
<line x1="415.90" y1="198.27" x2="417.40" y2="198.27" stroke="#231f20" stroke-width="0.8"/>
<line x1="415.90" y1="197.23" x2="417.40" y2="197.23" stroke="#231f20" stroke-width="0.8"/>
<line x1="414.40" y1="196.30" x2="417.40" y2="196.30" stroke="#231f20" stroke-width="0.8"/>
<line x1="415.90" y1="190.31" x2="417.40" y2="190.31" stroke="#231f20" stroke-width="0.8"/>
<line x1="415.90" y1="186.81" x2="417.40" y2="186.81" stroke="#231f20" stroke-width="0.8"/>
<line x1="415.90" y1="184.32" x2="417.40" y2="184.32" stroke="#231f20" stroke-width="0.8"/>
<line x1="415.90" y1="182.39" x2="417.40" y2="182.39" stroke="#231f20" stroke-width="0.8"/>
<line x1="415.90" y1="180.81" x2="417.40" y2="180.81" stroke="#231f20" stroke-width="0.8"/>
<line x1="415.90" y1="179.48" x2="417.40" y2="179.48" stroke="#231f20" stroke-width="0.8"/>
<line x1="415.90" y1="178.33" x2="417.40" y2="178.33" stroke="#231f20" stroke-width="0.8"/>
<line x1="415.90" y1="177.31" x2="417.40" y2="177.31" stroke="#231f20" stroke-width="0.8"/>
<line x1="414.40" y1="176.40" x2="417.40" y2="176.40" stroke="#231f20" stroke-width="0.8"/>
<line x1="415.90" y1="170.68" x2="417.40" y2="170.68" stroke="#231f20" stroke-width="0.8"/>
<line x1="415.90" y1="167.33" x2="417.40" y2="167.33" stroke="#231f20" stroke-width="0.8"/>
<line x1="415.90" y1="164.96" x2="417.40" y2="164.96" stroke="#231f20" stroke-width="0.8"/>
<line x1="415.90" y1="163.12" x2="417.40" y2="163.12" stroke="#231f20" stroke-width="0.8"/>
<line x1="415.90" y1="161.62" x2="417.40" y2="161.62" stroke="#231f20" stroke-width="0.8"/>
<line x1="415.90" y1="160.34" x2="417.40" y2="160.34" stroke="#231f20" stroke-width="0.8"/>
<line x1="415.90" y1="159.24" x2="417.40" y2="159.24" stroke="#231f20" stroke-width="0.8"/>
<line x1="415.90" y1="158.27" x2="417.40" y2="158.27" stroke="#231f20" stroke-width="0.8"/>
<line x1="414.40" y1="157.40" x2="417.40" y2="157.40" stroke="#231f20" stroke-width="0.8"/>
<line x1="417.40" y1="236.80" x2="417.40" y2="239.80" stroke="#231f20" stroke-width="0.8"/>
<line x1="423.45" y1="236.80" x2="423.45" y2="238.30" stroke="#231f20" stroke-width="0.8"/>
<line x1="426.99" y1="236.80" x2="426.99" y2="238.30" stroke="#231f20" stroke-width="0.8"/>
<line x1="429.50" y1="236.80" x2="429.50" y2="238.30" stroke="#231f20" stroke-width="0.8"/>
<line x1="431.45" y1="236.80" x2="431.45" y2="238.30" stroke="#231f20" stroke-width="0.8"/>
<line x1="433.04" y1="236.80" x2="433.04" y2="238.30" stroke="#231f20" stroke-width="0.8"/>
<line x1="434.39" y1="236.80" x2="434.39" y2="238.30" stroke="#231f20" stroke-width="0.8"/>
<line x1="435.55" y1="236.80" x2="435.55" y2="238.30" stroke="#231f20" stroke-width="0.8"/>
<line x1="436.58" y1="236.80" x2="436.58" y2="238.30" stroke="#231f20" stroke-width="0.8"/>
<line x1="437.50" y1="236.80" x2="437.50" y2="239.80" stroke="#231f20" stroke-width="0.8"/>
<line x1="443.55" y1="236.80" x2="443.55" y2="238.30" stroke="#231f20" stroke-width="0.8"/>
<line x1="447.09" y1="236.80" x2="447.09" y2="238.30" stroke="#231f20" stroke-width="0.8"/>
<line x1="449.60" y1="236.80" x2="449.60" y2="238.30" stroke="#231f20" stroke-width="0.8"/>
<line x1="451.55" y1="236.80" x2="451.55" y2="238.30" stroke="#231f20" stroke-width="0.8"/>
<line x1="453.14" y1="236.80" x2="453.14" y2="238.30" stroke="#231f20" stroke-width="0.8"/>
<line x1="454.49" y1="236.80" x2="454.49" y2="238.30" stroke="#231f20" stroke-width="0.8"/>
<line x1="455.65" y1="236.80" x2="455.65" y2="238.30" stroke="#231f20" stroke-width="0.8"/>
<line x1="456.68" y1="236.80" x2="456.68" y2="238.30" stroke="#231f20" stroke-width="0.8"/>
<line x1="457.60" y1="236.80" x2="457.60" y2="239.80" stroke="#231f20" stroke-width="0.8"/>
<line x1="463.56" y1="236.80" x2="463.56" y2="238.30" stroke="#231f20" stroke-width="0.8"/>
<line x1="467.05" y1="236.80" x2="467.05" y2="238.30" stroke="#231f20" stroke-width="0.8"/>
<line x1="469.52" y1="236.80" x2="469.52" y2="238.30" stroke="#231f20" stroke-width="0.8"/>
<line x1="471.44" y1="236.80" x2="471.44" y2="238.30" stroke="#231f20" stroke-width="0.8"/>
<line x1="473.01" y1="236.80" x2="473.01" y2="238.30" stroke="#231f20" stroke-width="0.8"/>
<line x1="474.33" y1="236.80" x2="474.33" y2="238.30" stroke="#231f20" stroke-width="0.8"/>
<line x1="475.48" y1="236.80" x2="475.48" y2="238.30" stroke="#231f20" stroke-width="0.8"/>
<line x1="476.49" y1="236.80" x2="476.49" y2="238.30" stroke="#231f20" stroke-width="0.8"/>
<line x1="477.40" y1="236.80" x2="477.40" y2="239.80" stroke="#231f20" stroke-width="0.8"/>
<line x1="483.54" y1="236.80" x2="483.54" y2="238.30" stroke="#231f20" stroke-width="0.8"/>
<line x1="487.13" y1="236.80" x2="487.13" y2="238.30" stroke="#231f20" stroke-width="0.8"/>
<line x1="489.68" y1="236.80" x2="489.68" y2="238.30" stroke="#231f20" stroke-width="0.8"/>
<line x1="491.66" y1="236.80" x2="491.66" y2="238.30" stroke="#231f20" stroke-width="0.8"/>
<line x1="493.27" y1="236.80" x2="493.27" y2="238.30" stroke="#231f20" stroke-width="0.8"/>
<line x1="494.64" y1="236.80" x2="494.64" y2="238.30" stroke="#231f20" stroke-width="0.8"/>
<line x1="495.82" y1="236.80" x2="495.82" y2="238.30" stroke="#231f20" stroke-width="0.8"/>
<line x1="496.87" y1="236.80" x2="496.87" y2="238.30" stroke="#231f20" stroke-width="0.8"/>
<line x1="497.80" y1="236.80" x2="497.80" y2="239.80" stroke="#231f20" stroke-width="0.8"/>
<text x="411.80" y="239.50" font-size="8.3" text-anchor="end" fill="#231f20" stroke="#231f20" stroke-width="0.1">10<tspan font-size="5.15" dy="-3.15">0</tspan></text>
<text x="411.80" y="219.30" font-size="8.3" text-anchor="end" fill="#231f20" stroke="#231f20" stroke-width="0.1">10<tspan font-size="5.15" dy="-3.15">1</tspan></text>
<text x="411.80" y="199.00" font-size="8.3" text-anchor="end" fill="#231f20" stroke="#231f20" stroke-width="0.1">10<tspan font-size="5.15" dy="-3.15">2</tspan></text>
<text x="411.80" y="179.10" font-size="8.3" text-anchor="end" fill="#231f20" stroke="#231f20" stroke-width="0.1">10<tspan font-size="5.15" dy="-3.15">3</tspan></text>
<text x="411.80" y="160.10" font-size="8.3" text-anchor="end" fill="#231f20" stroke="#231f20" stroke-width="0.1">10<tspan font-size="5.15" dy="-3.15">4</tspan></text>
<text x="419.40" y="249.40" font-size="8.3" text-anchor="middle" fill="#231f20" stroke="#231f20" stroke-width="0.1">10<tspan font-size="5.15" dy="-3.15">0</tspan></text>
<text x="439.50" y="249.40" font-size="8.3" text-anchor="middle" fill="#231f20" stroke="#231f20" stroke-width="0.1">10<tspan font-size="5.15" dy="-3.15">1</tspan></text>
<text x="459.60" y="249.40" font-size="8.3" text-anchor="middle" fill="#231f20" stroke="#231f20" stroke-width="0.1">10<tspan font-size="5.15" dy="-3.15">2</tspan></text>
<text x="479.40" y="249.40" font-size="8.3" text-anchor="middle" fill="#231f20" stroke="#231f20" stroke-width="0.1">10<tspan font-size="5.15" dy="-3.15">3</tspan></text>
<text x="499.80" y="249.40" font-size="8.3" text-anchor="middle" fill="#231f20" stroke="#231f20" stroke-width="0.1">10<tspan font-size="5.15" dy="-3.15">4</tspan></text>
<text x="338.00" y="27.50" font-size="9.4" text-anchor="middle" fill="#231f20" textLength="14.40" lengthAdjust="spacingAndGlyphs" stroke="#231f20" stroke-width="0.1">PBS</text>
<text x="457.60" y="27.30" font-size="9.4" text-anchor="middle" fill="#231f20" textLength="24.40" lengthAdjust="spacingAndGlyphs" stroke="#231f20" stroke-width="0.1">48 hpi</text>
<text x="501.80" y="74.20" font-size="9.4" text-anchor="middle" fill="#231f20" textLength="13.30" lengthAdjust="spacingAndGlyphs" transform="rotate(90 501.80 74.20)" stroke="#231f20" stroke-width="0.1">WT</text>
<text x="502.0" y="192.9" font-size="9.4" text-anchor="middle" fill="#231f20" transform="rotate(90 502.0 192.9)" textLength="19.9" lengthAdjust="spacingAndGlyphs">Cxcl1</text>
<text x="506.60" y="207.60" font-size="5.6" text-anchor="middle" fill="#231f20" textLength="6.30" lengthAdjust="spacingAndGlyphs" transform="rotate(90 506.60 207.60)" stroke="#231f20" stroke-width="0.18">-/-</text>
<line x1="268.50" y1="223.00" x2="268.50" y2="54.30" stroke="#231f20" stroke-width="1.0"/>
<path d="M268.50,47.30 L272.10,55.30 L268.50,53.70 L264.90,55.30 Z" fill="#231f20"/>
<text x="263.10" y="134.10" font-size="9.6" text-anchor="middle" fill="#231f20" textLength="17.20" lengthAdjust="spacingAndGlyphs" transform="rotate(-90 263.10 134.10)" stroke="#231f20" stroke-width="0.1">c-Kit</text>
<line x1="304.40" y1="260.80" x2="481.20" y2="260.80" stroke="#231f20" stroke-width="1.0"/>
<path d="M488.20,260.80 L480.20,264.40 L481.80,260.80 L480.20,257.20 Z" fill="#231f20"/>
<text x="395.30" y="271.00" font-size="9.8" text-anchor="middle" fill="#231f20" textLength="19.40" lengthAdjust="spacingAndGlyphs" stroke="#231f20" stroke-width="0.1">Ly6G</text>
<rect x="43.30" y="344.70" width="8.30" height="10.40" fill="#a73244" stroke="#a0182e" stroke-width="0.8"/>
<line x1="47.45" y1="343.30" x2="47.45" y2="344.30" stroke="#231f20" stroke-width="0.8"/>
<line x1="45.25" y1="343.30" x2="49.65" y2="343.30" stroke="#231f20" stroke-width="1.1"/>
<rect x="56.50" y="344.70" width="8.30" height="10.40" fill="#4b6289" stroke="#2c4877" stroke-width="0.8"/>
<line x1="60.65" y1="343.50" x2="60.65" y2="344.30" stroke="#231f20" stroke-width="0.8"/>
<line x1="58.45" y1="343.50" x2="62.85" y2="343.50" stroke="#231f20" stroke-width="1.1"/>
<rect x="78.40" y="340.00" width="8.30" height="15.10" fill="#a73244" stroke="#a0182e" stroke-width="0.8"/>
<line x1="82.55" y1="339.00" x2="82.55" y2="339.60" stroke="#231f20" stroke-width="0.8"/>
<line x1="80.35" y1="339.00" x2="84.75" y2="339.00" stroke="#231f20" stroke-width="1.1"/>
<rect x="91.80" y="345.10" width="8.30" height="10.00" fill="#4b6289" stroke="#2c4877" stroke-width="0.8"/>
<line x1="95.95" y1="344.20" x2="95.95" y2="344.70" stroke="#231f20" stroke-width="0.8"/>
<line x1="93.75" y1="344.20" x2="98.15" y2="344.20" stroke="#231f20" stroke-width="1.1"/>
<line x1="38.50" y1="308.30" x2="38.50" y2="355.60" stroke="#231f20" stroke-width="1.1"/>
<line x1="38.50" y1="355.10" x2="105.50" y2="355.10" stroke="#231f20" stroke-width="1.1"/>
<line x1="35.00" y1="355.10" x2="38.50" y2="355.10" stroke="#231f20" stroke-width="0.9"/>
<text x="32.70" y="357.50" font-size="7.0" text-anchor="end" fill="#231f20" stroke="#231f20" stroke-width="0.18">0</text>
<line x1="35.00" y1="343.98" x2="38.50" y2="343.98" stroke="#231f20" stroke-width="0.9"/>
<text x="32.70" y="346.38" font-size="7.0" text-anchor="end" fill="#231f20" stroke="#231f20" stroke-width="0.18">2</text>
<line x1="35.00" y1="332.85" x2="38.50" y2="332.85" stroke="#231f20" stroke-width="0.9"/>
<text x="32.70" y="335.25" font-size="7.0" text-anchor="end" fill="#231f20" stroke="#231f20" stroke-width="0.18">4</text>
<line x1="35.00" y1="321.73" x2="38.50" y2="321.73" stroke="#231f20" stroke-width="0.9"/>
<text x="32.70" y="324.12" font-size="7.0" text-anchor="end" fill="#231f20" stroke="#231f20" stroke-width="0.18">6</text>
<line x1="35.00" y1="310.60" x2="38.50" y2="310.60" stroke="#231f20" stroke-width="0.9"/>
<text x="32.70" y="313.00" font-size="7.0" text-anchor="end" fill="#231f20" stroke="#231f20" stroke-width="0.18">8</text>
<line x1="54.05" y1="355.10" x2="54.05" y2="358.10" stroke="#231f20" stroke-width="0.9"/>
<line x1="89.25" y1="355.10" x2="89.25" y2="358.10" stroke="#231f20" stroke-width="0.9"/>
<text x="54.05" y="367.60" font-size="7.2" text-anchor="middle" fill="#231f20" textLength="12.30" lengthAdjust="spacingAndGlyphs" stroke="#231f20" stroke-width="0.18">PBS</text>
<text x="89.25" y="367.60" font-size="7.2" text-anchor="middle" fill="#231f20" textLength="20.50" lengthAdjust="spacingAndGlyphs" stroke="#231f20" stroke-width="0.18">48 hpi</text>
<text x="70.70" y="303.50" font-size="8.6" text-anchor="middle" fill="#231f20" stroke="#231f20" stroke-width="0.1">P1</text>
<text x="23.20" y="331.50" font-size="8.6" text-anchor="middle" fill="#231f20" textLength="44.00" lengthAdjust="spacingAndGlyphs" transform="rotate(-90 23.20 331.50)" stroke="#231f20" stroke-width="0.1">Percentage</text>
<line x1="45.60" y1="328.20" x2="83.10" y2="328.20" stroke="#58595b" stroke-width="1.0"/>
<text x="63.90" y="327.90" font-size="6.5" text-anchor="middle" font-weight="bold" fill="#333" stroke="#333" stroke-width="0.2">*</text>
<line x1="82.80" y1="333.20" x2="98.10" y2="333.20" stroke="#58595b" stroke-width="1.0"/>
<text x="91.40" y="333.40" font-size="6.5" text-anchor="middle" font-weight="bold" fill="#333" stroke="#333" stroke-width="0.2">*</text>
<rect x="43.10" y="378.00" width="5.80" height="3.80" fill="#a73244" stroke="#a0182e" stroke-width="0.5"/>
<text x="50.80" y="382.00" font-size="7.1" text-anchor="start" fill="#231f20" textLength="10.60" lengthAdjust="spacingAndGlyphs" stroke="#231f20" stroke-width="0.18">WT</text>
<rect x="68.30" y="378.00" width="5.80" height="3.80" fill="#4b6289" stroke="#2c4877" stroke-width="0.5"/>
<text x="75.80" y="382.00" font-size="7.1" text-anchor="start" fill="#231f20" textLength="15.30" lengthAdjust="spacingAndGlyphs" stroke="#231f20" stroke-width="0.18">Cxcl1</text>
<text x="92.40" y="378.60" font-size="4.0" text-anchor="start" fill="#231f20" textLength="4.60" lengthAdjust="spacingAndGlyphs" stroke="#231f20" stroke-width="0.18">-/-</text>
<rect x="144.40" y="335.40" width="7.90" height="19.70" fill="#a73244" stroke="#a0182e" stroke-width="0.8"/>
<line x1="148.35" y1="334.30" x2="148.35" y2="335.00" stroke="#231f20" stroke-width="0.8"/>
<line x1="146.15" y1="334.30" x2="150.55" y2="334.30" stroke="#231f20" stroke-width="1.1"/>
<rect x="157.80" y="336.60" width="7.90" height="18.50" fill="#4b6289" stroke="#2c4877" stroke-width="0.8"/>
<line x1="161.75" y1="335.50" x2="161.75" y2="336.20" stroke="#231f20" stroke-width="0.8"/>
<line x1="159.55" y1="335.50" x2="163.95" y2="335.50" stroke="#231f20" stroke-width="1.1"/>
<rect x="179.70" y="327.80" width="8.00" height="27.30" fill="#a73244" stroke="#a0182e" stroke-width="0.8"/>
<line x1="183.70" y1="325.60" x2="183.70" y2="327.40" stroke="#231f20" stroke-width="0.8"/>
<line x1="181.50" y1="325.60" x2="185.90" y2="325.60" stroke="#231f20" stroke-width="1.1"/>
<rect x="192.90" y="333.80" width="7.90" height="21.30" fill="#4b6289" stroke="#2c4877" stroke-width="0.8"/>
<line x1="196.85" y1="332.20" x2="196.85" y2="333.40" stroke="#231f20" stroke-width="0.8"/>
<line x1="194.65" y1="332.20" x2="199.05" y2="332.20" stroke="#231f20" stroke-width="1.1"/>
<line x1="138.40" y1="308.30" x2="138.40" y2="355.60" stroke="#231f20" stroke-width="1.1"/>
<line x1="138.40" y1="355.10" x2="205.40" y2="355.10" stroke="#231f20" stroke-width="1.1"/>
<line x1="134.90" y1="355.10" x2="138.40" y2="355.10" stroke="#231f20" stroke-width="0.9"/>
<text x="132.60" y="357.50" font-size="7.0" text-anchor="end" fill="#231f20" stroke="#231f20" stroke-width="0.18">0</text>
<line x1="134.90" y1="340.30" x2="138.40" y2="340.30" stroke="#231f20" stroke-width="0.9"/>
<text x="132.60" y="342.70" font-size="7.0" text-anchor="end" fill="#231f20" stroke="#231f20" stroke-width="0.18">1</text>
<line x1="134.90" y1="325.50" x2="138.40" y2="325.50" stroke="#231f20" stroke-width="0.9"/>
<text x="132.60" y="327.90" font-size="7.0" text-anchor="end" fill="#231f20" stroke="#231f20" stroke-width="0.18">2</text>
<line x1="134.90" y1="310.70" x2="138.40" y2="310.70" stroke="#231f20" stroke-width="0.9"/>
<text x="132.60" y="313.10" font-size="7.0" text-anchor="end" fill="#231f20" stroke="#231f20" stroke-width="0.18">3</text>
<line x1="155.05" y1="355.10" x2="155.05" y2="358.10" stroke="#231f20" stroke-width="0.9"/>
<line x1="190.25" y1="355.10" x2="190.25" y2="358.10" stroke="#231f20" stroke-width="0.9"/>
<text x="155.05" y="367.60" font-size="7.2" text-anchor="middle" fill="#231f20" textLength="12.30" lengthAdjust="spacingAndGlyphs" stroke="#231f20" stroke-width="0.18">PBS</text>
<text x="190.25" y="367.60" font-size="7.2" text-anchor="middle" fill="#231f20" textLength="20.50" lengthAdjust="spacingAndGlyphs" stroke="#231f20" stroke-width="0.18">48 hpi</text>
<text x="173.00" y="303.50" font-size="8.6" text-anchor="middle" fill="#231f20" stroke="#231f20" stroke-width="0.1">P2</text>
<text x="122.80" y="331.50" font-size="8.6" text-anchor="middle" fill="#231f20" textLength="44.00" lengthAdjust="spacingAndGlyphs" transform="rotate(-90 122.80 331.50)" stroke="#231f20" stroke-width="0.1">Percentage</text>
<rect x="144.20" y="378.00" width="5.80" height="3.80" fill="#a73244" stroke="#a0182e" stroke-width="0.5"/>
<text x="151.90" y="382.00" font-size="7.1" text-anchor="start" fill="#231f20" textLength="10.60" lengthAdjust="spacingAndGlyphs" stroke="#231f20" stroke-width="0.18">WT</text>
<rect x="169.40" y="378.00" width="5.80" height="3.80" fill="#4b6289" stroke="#2c4877" stroke-width="0.5"/>
<text x="176.90" y="382.00" font-size="7.1" text-anchor="start" fill="#231f20" textLength="15.30" lengthAdjust="spacingAndGlyphs" stroke="#231f20" stroke-width="0.18">Cxcl1</text>
<text x="193.50" y="378.60" font-size="4.0" text-anchor="start" fill="#231f20" textLength="4.60" lengthAdjust="spacingAndGlyphs" stroke="#231f20" stroke-width="0.18">-/-</text>
<rect x="245.10" y="341.20" width="8.40" height="13.90" fill="#a73244" stroke="#a0182e" stroke-width="0.8"/>
<line x1="249.30" y1="340.20" x2="249.30" y2="340.80" stroke="#231f20" stroke-width="0.8"/>
<line x1="247.10" y1="340.20" x2="251.50" y2="340.20" stroke="#231f20" stroke-width="1.1"/>
<rect x="258.40" y="341.20" width="8.20" height="13.90" fill="#4b6289" stroke="#2c4877" stroke-width="0.8"/>
<line x1="262.50" y1="339.20" x2="262.50" y2="340.80" stroke="#231f20" stroke-width="0.8"/>
<line x1="260.30" y1="339.20" x2="264.70" y2="339.20" stroke="#231f20" stroke-width="1.1"/>
<rect x="280.40" y="330.40" width="8.40" height="24.70" fill="#a73244" stroke="#a0182e" stroke-width="0.8"/>
<line x1="284.60" y1="328.60" x2="284.60" y2="330.00" stroke="#231f20" stroke-width="0.8"/>
<line x1="282.40" y1="328.60" x2="286.80" y2="328.60" stroke="#231f20" stroke-width="1.1"/>
<rect x="293.60" y="333.40" width="8.40" height="21.70" fill="#4b6289" stroke="#2c4877" stroke-width="0.8"/>
<line x1="297.80" y1="332.40" x2="297.80" y2="333.00" stroke="#231f20" stroke-width="0.8"/>
<line x1="295.60" y1="332.40" x2="300.00" y2="332.40" stroke="#231f20" stroke-width="1.1"/>
<line x1="240.70" y1="308.30" x2="240.70" y2="355.60" stroke="#231f20" stroke-width="1.1"/>
<line x1="240.70" y1="355.10" x2="307.70" y2="355.10" stroke="#231f20" stroke-width="1.1"/>
<line x1="237.20" y1="355.10" x2="240.70" y2="355.10" stroke="#231f20" stroke-width="0.9"/>
<text x="234.90" y="357.50" font-size="7.0" text-anchor="end" fill="#231f20" stroke="#231f20" stroke-width="0.18">0</text>
<line x1="237.20" y1="343.98" x2="240.70" y2="343.98" stroke="#231f20" stroke-width="0.9"/>
<text x="234.90" y="346.38" font-size="7.0" text-anchor="end" fill="#231f20" stroke="#231f20" stroke-width="0.18">2</text>
<line x1="237.20" y1="332.85" x2="240.70" y2="332.85" stroke="#231f20" stroke-width="0.9"/>
<text x="234.90" y="335.25" font-size="7.0" text-anchor="end" fill="#231f20" stroke="#231f20" stroke-width="0.18">4</text>
<line x1="237.20" y1="321.73" x2="240.70" y2="321.73" stroke="#231f20" stroke-width="0.9"/>
<text x="234.90" y="324.12" font-size="7.0" text-anchor="end" fill="#231f20" stroke="#231f20" stroke-width="0.18">6</text>
<line x1="237.20" y1="310.60" x2="240.70" y2="310.60" stroke="#231f20" stroke-width="0.9"/>
<text x="234.90" y="313.00" font-size="7.0" text-anchor="end" fill="#231f20" stroke="#231f20" stroke-width="0.18">8</text>
<line x1="255.85" y1="355.10" x2="255.85" y2="358.10" stroke="#231f20" stroke-width="0.9"/>
<line x1="291.20" y1="355.10" x2="291.20" y2="358.10" stroke="#231f20" stroke-width="0.9"/>
<text x="255.85" y="367.60" font-size="7.2" text-anchor="middle" fill="#231f20" textLength="12.30" lengthAdjust="spacingAndGlyphs" stroke="#231f20" stroke-width="0.18">PBS</text>
<text x="291.20" y="367.60" font-size="7.2" text-anchor="middle" fill="#231f20" textLength="20.50" lengthAdjust="spacingAndGlyphs" stroke="#231f20" stroke-width="0.18">48 hpi</text>
<text x="273.50" y="303.50" font-size="8.6" text-anchor="middle" fill="#231f20" stroke="#231f20" stroke-width="0.1">P3</text>
<text x="224.00" y="331.50" font-size="8.6" text-anchor="middle" fill="#231f20" textLength="44.00" lengthAdjust="spacingAndGlyphs" transform="rotate(-90 224.00 331.50)" stroke="#231f20" stroke-width="0.1">Percentage</text>
<line x1="250.40" y1="325.10" x2="285.10" y2="325.10" stroke="#58595b" stroke-width="1.0"/>
<text x="265.90" y="324.60" font-size="6.5" text-anchor="middle" font-weight="bold" fill="#333" stroke="#333" stroke-width="0.2">*</text>
<rect x="244.90" y="378.00" width="5.80" height="3.80" fill="#a73244" stroke="#a0182e" stroke-width="0.5"/>
<text x="252.60" y="382.00" font-size="7.1" text-anchor="start" fill="#231f20" textLength="10.60" lengthAdjust="spacingAndGlyphs" stroke="#231f20" stroke-width="0.18">WT</text>
<rect x="270.10" y="378.00" width="5.80" height="3.80" fill="#4b6289" stroke="#2c4877" stroke-width="0.5"/>
<text x="277.60" y="382.00" font-size="7.1" text-anchor="start" fill="#231f20" textLength="15.30" lengthAdjust="spacingAndGlyphs" stroke="#231f20" stroke-width="0.18">Cxcl1</text>
<text x="294.20" y="378.60" font-size="4.0" text-anchor="start" fill="#231f20" textLength="4.60" lengthAdjust="spacingAndGlyphs" stroke="#231f20" stroke-width="0.18">-/-</text>
<rect x="342.70" y="347.00" width="8.50" height="8.10" fill="#a73244" stroke="#a0182e" stroke-width="0.8"/>
<line x1="346.95" y1="346.00" x2="346.95" y2="346.60" stroke="#231f20" stroke-width="0.8"/>
<line x1="344.75" y1="346.00" x2="349.15" y2="346.00" stroke="#231f20" stroke-width="1.1"/>
<rect x="356.10" y="347.00" width="8.20" height="8.10" fill="#4b6289" stroke="#2c4877" stroke-width="0.8"/>
<line x1="360.20" y1="346.00" x2="360.20" y2="346.60" stroke="#231f20" stroke-width="0.8"/>
<line x1="358.00" y1="346.00" x2="362.40" y2="346.00" stroke="#231f20" stroke-width="1.1"/>
<rect x="378.10" y="333.80" width="8.40" height="21.30" fill="#a73244" stroke="#a0182e" stroke-width="0.8"/>
<line x1="382.30" y1="332.40" x2="382.30" y2="333.40" stroke="#231f20" stroke-width="0.8"/>
<line x1="380.10" y1="332.40" x2="384.50" y2="332.40" stroke="#231f20" stroke-width="1.1"/>
<rect x="391.50" y="340.10" width="8.20" height="15.00" fill="#4b6289" stroke="#2c4877" stroke-width="0.8"/>
<line x1="395.60" y1="339.00" x2="395.60" y2="339.70" stroke="#231f20" stroke-width="0.8"/>
<line x1="393.40" y1="339.00" x2="397.80" y2="339.00" stroke="#231f20" stroke-width="1.1"/>
<line x1="337.70" y1="308.30" x2="337.70" y2="355.60" stroke="#231f20" stroke-width="1.1"/>
<line x1="337.70" y1="355.10" x2="404.70" y2="355.10" stroke="#231f20" stroke-width="1.1"/>
<line x1="334.20" y1="355.10" x2="337.70" y2="355.10" stroke="#231f20" stroke-width="0.9"/>
<text x="331.90" y="357.50" font-size="7.0" text-anchor="end" fill="#231f20" stroke="#231f20" stroke-width="0.18">0</text>
<line x1="334.20" y1="340.33" x2="337.70" y2="340.33" stroke="#231f20" stroke-width="0.9"/>
<text x="331.90" y="342.73" font-size="7.0" text-anchor="end" fill="#231f20" stroke="#231f20" stroke-width="0.18">20</text>
<line x1="334.20" y1="325.57" x2="337.70" y2="325.57" stroke="#231f20" stroke-width="0.9"/>
<text x="331.90" y="327.97" font-size="7.0" text-anchor="end" fill="#231f20" stroke="#231f20" stroke-width="0.18">40</text>
<line x1="334.20" y1="310.80" x2="337.70" y2="310.80" stroke="#231f20" stroke-width="0.9"/>
<text x="331.90" y="313.20" font-size="7.0" text-anchor="end" fill="#231f20" stroke="#231f20" stroke-width="0.18">60</text>
<line x1="353.50" y1="355.10" x2="353.50" y2="358.10" stroke="#231f20" stroke-width="0.9"/>
<line x1="388.90" y1="355.10" x2="388.90" y2="358.10" stroke="#231f20" stroke-width="0.9"/>
<text x="353.50" y="367.60" font-size="7.2" text-anchor="middle" fill="#231f20" textLength="12.30" lengthAdjust="spacingAndGlyphs" stroke="#231f20" stroke-width="0.18">PBS</text>
<text x="388.90" y="367.60" font-size="7.2" text-anchor="middle" fill="#231f20" textLength="20.50" lengthAdjust="spacingAndGlyphs" stroke="#231f20" stroke-width="0.18">48 hpi</text>
<text x="371.20" y="303.50" font-size="8.6" text-anchor="middle" fill="#231f20" stroke="#231f20" stroke-width="0.1">P4</text>
<text x="316.70" y="331.50" font-size="8.6" text-anchor="middle" fill="#231f20" textLength="44.00" lengthAdjust="spacingAndGlyphs" transform="rotate(-90 316.70 331.50)" stroke="#231f20" stroke-width="0.1">Percentage</text>
<line x1="347.00" y1="327.40" x2="381.60" y2="327.40" stroke="#58595b" stroke-width="1.0"/>
<text x="364.30" y="327.90" font-size="6.5" text-anchor="middle" font-weight="bold" fill="#333" stroke="#333" stroke-width="0.2">**</text>
<line x1="362.00" y1="320.70" x2="396.60" y2="320.70" stroke="#58595b" stroke-width="1.0"/>
<text x="380.00" y="321.20" font-size="6.5" text-anchor="middle" font-weight="bold" fill="#333" stroke="#333" stroke-width="0.2">*</text>
<line x1="381.60" y1="330.40" x2="396.60" y2="330.40" stroke="#58595b" stroke-width="1.0"/>
<text x="389.20" y="330.90" font-size="6.5" text-anchor="middle" font-weight="bold" fill="#333" stroke="#333" stroke-width="0.2">**</text>
<rect x="342.50" y="378.00" width="5.80" height="3.80" fill="#a73244" stroke="#a0182e" stroke-width="0.5"/>
<text x="350.20" y="382.00" font-size="7.1" text-anchor="start" fill="#231f20" textLength="10.60" lengthAdjust="spacingAndGlyphs" stroke="#231f20" stroke-width="0.18">WT</text>
<rect x="367.70" y="378.00" width="5.80" height="3.80" fill="#4b6289" stroke="#2c4877" stroke-width="0.5"/>
<text x="375.20" y="382.00" font-size="7.1" text-anchor="start" fill="#231f20" textLength="15.30" lengthAdjust="spacingAndGlyphs" stroke="#231f20" stroke-width="0.18">Cxcl1</text>
<text x="391.80" y="378.60" font-size="4.0" text-anchor="start" fill="#231f20" textLength="4.60" lengthAdjust="spacingAndGlyphs" stroke="#231f20" stroke-width="0.18">-/-</text>
<rect x="445.00" y="331.50" width="8.20" height="23.60" fill="#a73244" stroke="#a0182e" stroke-width="0.8"/>
<line x1="449.10" y1="330.50" x2="449.10" y2="331.10" stroke="#231f20" stroke-width="0.8"/>
<line x1="446.90" y1="330.50" x2="451.30" y2="330.50" stroke="#231f20" stroke-width="1.1"/>
<rect x="458.60" y="332.00" width="8.00" height="23.10" fill="#4b6289" stroke="#2c4877" stroke-width="0.8"/>
<line x1="462.60" y1="330.50" x2="462.60" y2="331.60" stroke="#231f20" stroke-width="0.8"/>
<line x1="460.40" y1="330.50" x2="464.80" y2="330.50" stroke="#231f20" stroke-width="1.1"/>
<rect x="480.10" y="339.40" width="8.40" height="15.70" fill="#a73244" stroke="#a0182e" stroke-width="0.8"/>
<line x1="484.30" y1="336.20" x2="484.30" y2="339.00" stroke="#231f20" stroke-width="0.8"/>
<line x1="482.10" y1="336.20" x2="486.50" y2="336.20" stroke="#231f20" stroke-width="1.1"/>
<rect x="493.90" y="330.40" width="8.00" height="24.70" fill="#4b6289" stroke="#2c4877" stroke-width="0.8"/>
<line x1="497.90" y1="329.40" x2="497.90" y2="330.00" stroke="#231f20" stroke-width="0.8"/>
<line x1="495.70" y1="329.40" x2="500.10" y2="329.40" stroke="#231f20" stroke-width="1.1"/>
<line x1="440.40" y1="308.30" x2="440.40" y2="355.60" stroke="#231f20" stroke-width="1.1"/>
<line x1="440.40" y1="355.10" x2="507.40" y2="355.10" stroke="#231f20" stroke-width="1.1"/>
<line x1="436.90" y1="355.10" x2="440.40" y2="355.10" stroke="#231f20" stroke-width="0.9"/>
<text x="434.60" y="357.50" font-size="7.0" text-anchor="end" fill="#231f20" stroke="#231f20" stroke-width="0.18">0</text>
<line x1="436.90" y1="346.32" x2="440.40" y2="346.32" stroke="#231f20" stroke-width="0.9"/>
<text x="434.60" y="348.72" font-size="7.0" text-anchor="end" fill="#231f20" stroke="#231f20" stroke-width="0.18">20</text>
<line x1="436.90" y1="337.54" x2="440.40" y2="337.54" stroke="#231f20" stroke-width="0.9"/>
<text x="434.60" y="339.94" font-size="7.0" text-anchor="end" fill="#231f20" stroke="#231f20" stroke-width="0.18">40</text>
<line x1="436.90" y1="328.76" x2="440.40" y2="328.76" stroke="#231f20" stroke-width="0.9"/>
<text x="434.60" y="331.16" font-size="7.0" text-anchor="end" fill="#231f20" stroke="#231f20" stroke-width="0.18">60</text>
<line x1="436.90" y1="319.98" x2="440.40" y2="319.98" stroke="#231f20" stroke-width="0.9"/>
<text x="434.60" y="322.38" font-size="7.0" text-anchor="end" fill="#231f20" stroke="#231f20" stroke-width="0.18">80</text>
<line x1="436.90" y1="311.20" x2="440.40" y2="311.20" stroke="#231f20" stroke-width="0.9"/>
<text x="434.60" y="313.60" font-size="7.0" text-anchor="end" fill="#231f20" stroke="#231f20" stroke-width="0.18">100</text>
<line x1="455.80" y1="355.10" x2="455.80" y2="358.10" stroke="#231f20" stroke-width="0.9"/>
<line x1="491.00" y1="355.10" x2="491.00" y2="358.10" stroke="#231f20" stroke-width="0.9"/>
<text x="455.80" y="367.60" font-size="7.2" text-anchor="middle" fill="#231f20" textLength="12.30" lengthAdjust="spacingAndGlyphs" stroke="#231f20" stroke-width="0.18">PBS</text>
<text x="491.00" y="367.60" font-size="7.2" text-anchor="middle" fill="#231f20" textLength="20.50" lengthAdjust="spacingAndGlyphs" stroke="#231f20" stroke-width="0.18">48 hpi</text>
<text x="473.90" y="303.50" font-size="8.6" text-anchor="middle" fill="#231f20" stroke="#231f20" stroke-width="0.1">P5</text>
<text x="416.30" y="331.50" font-size="8.6" text-anchor="middle" fill="#231f20" textLength="44.00" lengthAdjust="spacingAndGlyphs" transform="rotate(-90 416.30 331.50)" stroke="#231f20" stroke-width="0.1">Percentage</text>
<line x1="449.70" y1="325.10" x2="483.60" y2="325.10" stroke="#58595b" stroke-width="1.0"/>
<text x="467.00" y="324.60" font-size="6.5" text-anchor="middle" font-weight="bold" fill="#333" stroke="#333" stroke-width="0.2">*</text>
<line x1="483.10" y1="320.50" x2="498.80" y2="320.50" stroke="#58595b" stroke-width="1.0"/>
<text x="490.50" y="320.50" font-size="6.5" text-anchor="middle" font-weight="bold" fill="#333" stroke="#333" stroke-width="0.2">**</text>
<rect x="444.80" y="378.00" width="5.80" height="3.80" fill="#a73244" stroke="#a0182e" stroke-width="0.5"/>
<text x="452.50" y="382.00" font-size="7.1" text-anchor="start" fill="#231f20" textLength="10.60" lengthAdjust="spacingAndGlyphs" stroke="#231f20" stroke-width="0.18">WT</text>
<rect x="470.00" y="378.00" width="5.80" height="3.80" fill="#4b6289" stroke="#2c4877" stroke-width="0.5"/>
<text x="477.50" y="382.00" font-size="7.1" text-anchor="start" fill="#231f20" textLength="15.30" lengthAdjust="spacingAndGlyphs" stroke="#231f20" stroke-width="0.18">Cxcl1</text>
<text x="494.10" y="378.60" font-size="4.0" text-anchor="start" fill="#231f20" textLength="4.60" lengthAdjust="spacingAndGlyphs" stroke="#231f20" stroke-width="0.18">-/-</text>
<rect x="43.80" y="446.50" width="7.60" height="19.50" fill="#a73244" stroke="#a0182e" stroke-width="0.8"/>
<line x1="47.60" y1="441.80" x2="47.60" y2="446.10" stroke="#231f20" stroke-width="0.8"/>
<line x1="45.40" y1="441.80" x2="49.80" y2="441.80" stroke="#231f20" stroke-width="1.1"/>
<rect x="56.50" y="449.20" width="7.60" height="16.80" fill="#4b6289" stroke="#2c4877" stroke-width="0.8"/>
<line x1="60.30" y1="446.70" x2="60.30" y2="448.80" stroke="#231f20" stroke-width="0.8"/>
<line x1="58.10" y1="446.70" x2="62.50" y2="446.70" stroke="#231f20" stroke-width="1.1"/>
<rect x="78.70" y="444.30" width="7.60" height="21.70" fill="#a73244" stroke="#a0182e" stroke-width="0.8"/>
<line x1="82.50" y1="441.40" x2="82.50" y2="443.90" stroke="#231f20" stroke-width="0.8"/>
<line x1="80.30" y1="441.40" x2="84.70" y2="441.40" stroke="#231f20" stroke-width="1.1"/>
<rect x="91.80" y="448.20" width="7.70" height="17.80" fill="#4b6289" stroke="#2c4877" stroke-width="0.8"/>
<line x1="95.65" y1="447.20" x2="95.65" y2="447.80" stroke="#231f20" stroke-width="0.8"/>
<line x1="93.45" y1="447.20" x2="97.85" y2="447.20" stroke="#231f20" stroke-width="1.1"/>
<line x1="38.50" y1="419.20" x2="38.50" y2="466.50" stroke="#231f20" stroke-width="1.1"/>
<line x1="38.50" y1="466.00" x2="105.50" y2="466.00" stroke="#231f20" stroke-width="1.1"/>
<line x1="35.00" y1="466.00" x2="38.50" y2="466.00" stroke="#231f20" stroke-width="0.9"/>
<text x="32.70" y="468.40" font-size="7.0" text-anchor="end" fill="#231f20" stroke="#231f20" stroke-width="0.18">0</text>
<line x1="35.00" y1="451.23" x2="38.50" y2="451.23" stroke="#231f20" stroke-width="0.9"/>
<text x="32.70" y="453.63" font-size="7.0" text-anchor="end" fill="#231f20" stroke="#231f20" stroke-width="0.18">20</text>
<line x1="35.00" y1="436.47" x2="38.50" y2="436.47" stroke="#231f20" stroke-width="0.9"/>
<text x="32.70" y="438.87" font-size="7.0" text-anchor="end" fill="#231f20" stroke="#231f20" stroke-width="0.18">40</text>
<line x1="35.00" y1="421.70" x2="38.50" y2="421.70" stroke="#231f20" stroke-width="0.9"/>
<text x="32.70" y="424.10" font-size="7.0" text-anchor="end" fill="#231f20" stroke="#231f20" stroke-width="0.18">60</text>
<line x1="53.95" y1="466.00" x2="53.95" y2="469.00" stroke="#231f20" stroke-width="0.9"/>
<line x1="89.10" y1="466.00" x2="89.10" y2="469.00" stroke="#231f20" stroke-width="0.9"/>
<text x="53.95" y="478.30" font-size="7.2" text-anchor="middle" fill="#231f20" textLength="12.30" lengthAdjust="spacingAndGlyphs" stroke="#231f20" stroke-width="0.18">PBS</text>
<text x="89.10" y="478.30" font-size="7.2" text-anchor="middle" fill="#231f20" textLength="20.50" lengthAdjust="spacingAndGlyphs" stroke="#231f20" stroke-width="0.18">48 hpi</text>
<text x="71.20" y="413.80" font-size="8.6" text-anchor="middle" fill="#231f20" stroke="#231f20" stroke-width="0.1">P1</text>
<text x="18.20" y="443.00" font-size="8.6" text-anchor="middle" fill="#231f20" textLength="65.80" lengthAdjust="spacingAndGlyphs" transform="rotate(-90 18.20 443.00)" stroke="#231f20" stroke-width="0.1">Numbers ( x 10<tspan font-size="5.2" dy="-3.2">4</tspan><tspan dy="3.2">)</tspan></text>
<line x1="81.40" y1="435.90" x2="99.90" y2="435.90" stroke="#58595b" stroke-width="1.0"/>
<text x="91.00" y="436.20" font-size="6.5" text-anchor="middle" font-weight="bold" fill="#333" stroke="#333" stroke-width="0.2">*</text>
<rect x="43.60" y="488.60" width="5.80" height="3.80" fill="#a73244" stroke="#a0182e" stroke-width="0.5"/>
<text x="51.30" y="492.60" font-size="7.1" text-anchor="start" fill="#231f20" textLength="10.60" lengthAdjust="spacingAndGlyphs" stroke="#231f20" stroke-width="0.18">WT</text>
<rect x="68.80" y="488.60" width="5.80" height="3.80" fill="#4b6289" stroke="#2c4877" stroke-width="0.5"/>
<text x="76.30" y="492.60" font-size="7.1" text-anchor="start" fill="#231f20" textLength="15.30" lengthAdjust="spacingAndGlyphs" stroke="#231f20" stroke-width="0.18">Cxcl1</text>
<text x="92.90" y="489.20" font-size="4.0" text-anchor="start" fill="#231f20" textLength="4.60" lengthAdjust="spacingAndGlyphs" stroke="#231f20" stroke-width="0.18">-/-</text>
<rect x="144.40" y="442.70" width="8.10" height="23.30" fill="#a73244" stroke="#a0182e" stroke-width="0.8"/>
<line x1="148.45" y1="441.20" x2="148.45" y2="442.30" stroke="#231f20" stroke-width="0.8"/>
<line x1="146.25" y1="441.20" x2="150.65" y2="441.20" stroke="#231f20" stroke-width="1.1"/>
<rect x="157.50" y="446.30" width="8.10" height="19.70" fill="#4b6289" stroke="#2c4877" stroke-width="0.8"/>
<line x1="161.55" y1="444.60" x2="161.55" y2="445.90" stroke="#231f20" stroke-width="0.8"/>
<line x1="159.35" y1="444.60" x2="163.75" y2="444.60" stroke="#231f20" stroke-width="1.1"/>
<rect x="179.10" y="440.00" width="8.30" height="26.00" fill="#a73244" stroke="#a0182e" stroke-width="0.8"/>
<line x1="183.25" y1="436.60" x2="183.25" y2="439.60" stroke="#231f20" stroke-width="0.8"/>
<line x1="181.05" y1="436.60" x2="185.45" y2="436.60" stroke="#231f20" stroke-width="1.1"/>
<rect x="192.40" y="444.40" width="8.30" height="21.60" fill="#4b6289" stroke="#2c4877" stroke-width="0.8"/>
<line x1="196.55" y1="443.30" x2="196.55" y2="444.00" stroke="#231f20" stroke-width="0.8"/>
<line x1="194.35" y1="443.30" x2="198.75" y2="443.30" stroke="#231f20" stroke-width="1.1"/>
<line x1="139.10" y1="421.20" x2="139.10" y2="466.50" stroke="#231f20" stroke-width="1.1"/>
<line x1="139.10" y1="466.00" x2="206.10" y2="466.00" stroke="#231f20" stroke-width="1.1"/>
<line x1="135.60" y1="466.00" x2="139.10" y2="466.00" stroke="#231f20" stroke-width="0.9"/>
<text x="133.30" y="468.40" font-size="7.0" text-anchor="end" fill="#231f20" stroke="#231f20" stroke-width="0.18">0</text>
<line x1="135.60" y1="453.17" x2="139.10" y2="453.17" stroke="#231f20" stroke-width="0.9"/>
<text x="133.30" y="455.57" font-size="7.0" text-anchor="end" fill="#231f20" stroke="#231f20" stroke-width="0.18">10</text>
<line x1="135.60" y1="440.33" x2="139.10" y2="440.33" stroke="#231f20" stroke-width="0.9"/>
<text x="133.30" y="442.73" font-size="7.0" text-anchor="end" fill="#231f20" stroke="#231f20" stroke-width="0.18">20</text>
<line x1="135.60" y1="427.50" x2="139.10" y2="427.50" stroke="#231f20" stroke-width="0.9"/>
<text x="133.30" y="429.90" font-size="7.0" text-anchor="end" fill="#231f20" stroke="#231f20" stroke-width="0.18">30</text>
<line x1="155.00" y1="466.00" x2="155.00" y2="469.00" stroke="#231f20" stroke-width="0.9"/>
<line x1="189.90" y1="466.00" x2="189.90" y2="469.00" stroke="#231f20" stroke-width="0.9"/>
<text x="155.00" y="478.30" font-size="7.2" text-anchor="middle" fill="#231f20" textLength="12.30" lengthAdjust="spacingAndGlyphs" stroke="#231f20" stroke-width="0.18">PBS</text>
<text x="189.90" y="478.30" font-size="7.2" text-anchor="middle" fill="#231f20" textLength="20.50" lengthAdjust="spacingAndGlyphs" stroke="#231f20" stroke-width="0.18">48 hpi</text>
<text x="172.70" y="413.80" font-size="8.6" text-anchor="middle" fill="#231f20" stroke="#231f20" stroke-width="0.1">P2</text>
<text x="119.00" y="443.00" font-size="8.6" text-anchor="middle" fill="#231f20" textLength="65.80" lengthAdjust="spacingAndGlyphs" transform="rotate(-90 119.00 443.00)" stroke="#231f20" stroke-width="0.1">Numbers ( x 10<tspan font-size="5.2" dy="-3.2">4</tspan><tspan dy="3.2">)</tspan></text>
<rect x="144.20" y="488.60" width="5.80" height="3.80" fill="#a73244" stroke="#a0182e" stroke-width="0.5"/>
<text x="151.90" y="492.60" font-size="7.1" text-anchor="start" fill="#231f20" textLength="10.60" lengthAdjust="spacingAndGlyphs" stroke="#231f20" stroke-width="0.18">WT</text>
<rect x="169.40" y="488.60" width="5.80" height="3.80" fill="#4b6289" stroke="#2c4877" stroke-width="0.5"/>
<text x="176.90" y="492.60" font-size="7.1" text-anchor="start" fill="#231f20" textLength="15.30" lengthAdjust="spacingAndGlyphs" stroke="#231f20" stroke-width="0.18">Cxcl1</text>
<text x="193.50" y="489.20" font-size="4.0" text-anchor="start" fill="#231f20" textLength="4.60" lengthAdjust="spacingAndGlyphs" stroke="#231f20" stroke-width="0.18">-/-</text>
<rect x="245.20" y="439.50" width="8.30" height="26.50" fill="#a73244" stroke="#a0182e" stroke-width="0.8"/>
<line x1="249.35" y1="435.50" x2="249.35" y2="439.10" stroke="#231f20" stroke-width="0.8"/>
<line x1="247.15" y1="435.50" x2="251.55" y2="435.50" stroke="#231f20" stroke-width="1.1"/>
<rect x="258.60" y="443.30" width="8.10" height="22.70" fill="#4b6289" stroke="#2c4877" stroke-width="0.8"/>
<line x1="262.65" y1="440.20" x2="262.65" y2="442.90" stroke="#231f20" stroke-width="0.8"/>
<line x1="260.45" y1="440.20" x2="264.85" y2="440.20" stroke="#231f20" stroke-width="1.1"/>
<rect x="280.80" y="431.50" width="7.70" height="34.50" fill="#a73244" stroke="#a0182e" stroke-width="0.8"/>
<line x1="284.65" y1="429.20" x2="284.65" y2="431.10" stroke="#231f20" stroke-width="0.8"/>
<line x1="282.45" y1="429.20" x2="286.85" y2="429.20" stroke="#231f20" stroke-width="1.1"/>
<rect x="293.50" y="428.30" width="8.30" height="37.70" fill="#4b6289" stroke="#2c4877" stroke-width="0.8"/>
<line x1="297.65" y1="427.20" x2="297.65" y2="427.90" stroke="#231f20" stroke-width="0.8"/>
<line x1="295.45" y1="427.20" x2="299.85" y2="427.20" stroke="#231f20" stroke-width="1.1"/>
<line x1="240.20" y1="419.00" x2="240.20" y2="466.50" stroke="#231f20" stroke-width="1.1"/>
<line x1="240.20" y1="466.00" x2="307.20" y2="466.00" stroke="#231f20" stroke-width="1.1"/>
<line x1="236.70" y1="466.00" x2="240.20" y2="466.00" stroke="#231f20" stroke-width="0.9"/>
<text x="234.40" y="468.40" font-size="7.0" text-anchor="end" fill="#231f20" stroke="#231f20" stroke-width="0.18">0</text>
<line x1="236.70" y1="451.07" x2="240.20" y2="451.07" stroke="#231f20" stroke-width="0.9"/>
<text x="234.40" y="453.47" font-size="7.0" text-anchor="end" fill="#231f20" stroke="#231f20" stroke-width="0.18">20</text>
<line x1="236.70" y1="436.13" x2="240.20" y2="436.13" stroke="#231f20" stroke-width="0.9"/>
<text x="234.40" y="438.53" font-size="7.0" text-anchor="end" fill="#231f20" stroke="#231f20" stroke-width="0.18">40</text>
<line x1="236.70" y1="421.20" x2="240.20" y2="421.20" stroke="#231f20" stroke-width="0.9"/>
<text x="234.40" y="423.60" font-size="7.0" text-anchor="end" fill="#231f20" stroke="#231f20" stroke-width="0.18">60</text>
<line x1="255.95" y1="466.00" x2="255.95" y2="469.00" stroke="#231f20" stroke-width="0.9"/>
<line x1="291.30" y1="466.00" x2="291.30" y2="469.00" stroke="#231f20" stroke-width="0.9"/>
<text x="255.95" y="478.30" font-size="7.2" text-anchor="middle" fill="#231f20" textLength="12.30" lengthAdjust="spacingAndGlyphs" stroke="#231f20" stroke-width="0.18">PBS</text>
<text x="291.30" y="478.30" font-size="7.2" text-anchor="middle" fill="#231f20" textLength="20.50" lengthAdjust="spacingAndGlyphs" stroke="#231f20" stroke-width="0.18">48 hpi</text>
<text x="273.50" y="413.80" font-size="8.6" text-anchor="middle" fill="#231f20" stroke="#231f20" stroke-width="0.1">P3</text>
<text x="219.00" y="443.00" font-size="8.6" text-anchor="middle" fill="#231f20" textLength="65.80" lengthAdjust="spacingAndGlyphs" transform="rotate(-90 219.00 443.00)" stroke="#231f20" stroke-width="0.1">Numbers ( x 10<tspan font-size="5.2" dy="-3.2">4</tspan><tspan dy="3.2">)</tspan></text>
<rect x="245.00" y="488.60" width="5.80" height="3.80" fill="#a73244" stroke="#a0182e" stroke-width="0.5"/>
<text x="252.70" y="492.60" font-size="7.1" text-anchor="start" fill="#231f20" textLength="10.60" lengthAdjust="spacingAndGlyphs" stroke="#231f20" stroke-width="0.18">WT</text>
<rect x="270.20" y="488.60" width="5.80" height="3.80" fill="#4b6289" stroke="#2c4877" stroke-width="0.5"/>
<text x="277.70" y="492.60" font-size="7.1" text-anchor="start" fill="#231f20" textLength="15.30" lengthAdjust="spacingAndGlyphs" stroke="#231f20" stroke-width="0.18">Cxcl1</text>
<text x="294.30" y="489.20" font-size="4.0" text-anchor="start" fill="#231f20" textLength="4.60" lengthAdjust="spacingAndGlyphs" stroke="#231f20" stroke-width="0.18">-/-</text>
<rect x="342.70" y="454.30" width="8.70" height="11.70" fill="#a73244" stroke="#a0182e" stroke-width="0.8"/>
<line x1="347.05" y1="451.80" x2="347.05" y2="453.90" stroke="#231f20" stroke-width="0.8"/>
<line x1="344.85" y1="451.80" x2="349.25" y2="451.80" stroke="#231f20" stroke-width="1.1"/>
<rect x="356.00" y="453.30" width="8.50" height="12.70" fill="#4b6289" stroke="#2c4877" stroke-width="0.8"/>
<line x1="360.25" y1="450.80" x2="360.25" y2="452.90" stroke="#231f20" stroke-width="0.8"/>
<line x1="358.05" y1="450.80" x2="362.45" y2="450.80" stroke="#231f20" stroke-width="1.1"/>
<rect x="378.00" y="445.90" width="8.30" height="20.10" fill="#a73244" stroke="#a0182e" stroke-width="0.8"/>
<line x1="382.15" y1="443.40" x2="382.15" y2="445.50" stroke="#231f20" stroke-width="0.8"/>
<line x1="379.95" y1="443.40" x2="384.35" y2="443.40" stroke="#231f20" stroke-width="1.1"/>
<rect x="390.90" y="446.90" width="8.60" height="19.10" fill="#4b6289" stroke="#2c4877" stroke-width="0.8"/>
<line x1="395.20" y1="445.90" x2="395.20" y2="446.50" stroke="#231f20" stroke-width="0.8"/>
<line x1="393.00" y1="445.90" x2="397.40" y2="445.90" stroke="#231f20" stroke-width="1.1"/>
<line x1="338.50" y1="419.00" x2="338.50" y2="466.50" stroke="#231f20" stroke-width="1.1"/>
<line x1="338.50" y1="466.00" x2="405.50" y2="466.00" stroke="#231f20" stroke-width="1.1"/>
<line x1="335.00" y1="466.00" x2="338.50" y2="466.00" stroke="#231f20" stroke-width="0.9"/>
<text x="332.70" y="468.40" font-size="7.0" text-anchor="end" fill="#231f20" stroke="#231f20" stroke-width="0.18">0</text>
<line x1="335.00" y1="451.07" x2="338.50" y2="451.07" stroke="#231f20" stroke-width="0.9"/>
<text x="332.70" y="453.47" font-size="7.0" text-anchor="end" fill="#231f20" stroke="#231f20" stroke-width="0.18">2</text>
<line x1="335.00" y1="436.13" x2="338.50" y2="436.13" stroke="#231f20" stroke-width="0.9"/>
<text x="332.70" y="438.53" font-size="7.0" text-anchor="end" fill="#231f20" stroke="#231f20" stroke-width="0.18">4</text>
<line x1="335.00" y1="421.20" x2="338.50" y2="421.20" stroke="#231f20" stroke-width="0.9"/>
<text x="332.70" y="423.60" font-size="7.0" text-anchor="end" fill="#231f20" stroke="#231f20" stroke-width="0.18">6</text>
<line x1="353.60" y1="466.00" x2="353.60" y2="469.00" stroke="#231f20" stroke-width="0.9"/>
<line x1="388.75" y1="466.00" x2="388.75" y2="469.00" stroke="#231f20" stroke-width="0.9"/>
<text x="353.60" y="478.30" font-size="7.2" text-anchor="middle" fill="#231f20" textLength="12.30" lengthAdjust="spacingAndGlyphs" stroke="#231f20" stroke-width="0.18">PBS</text>
<text x="388.75" y="478.30" font-size="7.2" text-anchor="middle" fill="#231f20" textLength="20.50" lengthAdjust="spacingAndGlyphs" stroke="#231f20" stroke-width="0.18">48 hpi</text>
<text x="371.20" y="413.80" font-size="8.6" text-anchor="middle" fill="#231f20" stroke="#231f20" stroke-width="0.1">P4</text>
<text x="319.30" y="443.00" font-size="8.6" text-anchor="middle" fill="#231f20" textLength="65.80" lengthAdjust="spacingAndGlyphs" transform="rotate(-90 319.30 443.00)" stroke="#231f20" stroke-width="0.1">Numbers ( x 10<tspan font-size="5.2" dy="-3.2">6</tspan><tspan dy="3.2">)</tspan></text>
<line x1="347.00" y1="439.60" x2="382.10" y2="439.60" stroke="#58595b" stroke-width="1.0"/>
<text x="364.50" y="440.30" font-size="6.5" text-anchor="middle" font-weight="bold" fill="#333" stroke="#333" stroke-width="0.2">*</text>
<rect x="342.50" y="488.60" width="5.80" height="3.80" fill="#a73244" stroke="#a0182e" stroke-width="0.5"/>
<text x="350.20" y="492.60" font-size="7.1" text-anchor="start" fill="#231f20" textLength="10.60" lengthAdjust="spacingAndGlyphs" stroke="#231f20" stroke-width="0.18">WT</text>
<rect x="367.70" y="488.60" width="5.80" height="3.80" fill="#4b6289" stroke="#2c4877" stroke-width="0.5"/>
<text x="375.20" y="492.60" font-size="7.1" text-anchor="start" fill="#231f20" textLength="15.30" lengthAdjust="spacingAndGlyphs" stroke="#231f20" stroke-width="0.18">Cxcl1</text>
<text x="391.80" y="489.20" font-size="4.0" text-anchor="start" fill="#231f20" textLength="4.60" lengthAdjust="spacingAndGlyphs" stroke="#231f20" stroke-width="0.18">-/-</text>
<rect x="445.20" y="444.00" width="8.10" height="22.00" fill="#a73244" stroke="#a0182e" stroke-width="0.8"/>
<line x1="449.25" y1="443.20" x2="449.25" y2="443.60" stroke="#231f20" stroke-width="0.8"/>
<line x1="447.05" y1="443.20" x2="451.45" y2="443.20" stroke="#231f20" stroke-width="1.1"/>
<rect x="458.30" y="444.80" width="8.10" height="21.20" fill="#4b6289" stroke="#2c4877" stroke-width="0.8"/>
<line x1="462.35" y1="443.40" x2="462.35" y2="444.40" stroke="#231f20" stroke-width="0.8"/>
<line x1="460.15" y1="443.40" x2="464.55" y2="443.40" stroke="#231f20" stroke-width="1.1"/>
<rect x="480.10" y="453.70" width="8.30" height="12.30" fill="#a73244" stroke="#a0182e" stroke-width="0.8"/>
<line x1="484.25" y1="450.80" x2="484.25" y2="453.30" stroke="#231f20" stroke-width="0.8"/>
<line x1="482.05" y1="450.80" x2="486.45" y2="450.80" stroke="#231f20" stroke-width="1.1"/>
<rect x="493.20" y="442.70" width="8.30" height="23.30" fill="#4b6289" stroke="#2c4877" stroke-width="0.8"/>
<line x1="497.35" y1="439.30" x2="497.35" y2="442.30" stroke="#231f20" stroke-width="0.8"/>
<line x1="495.15" y1="439.30" x2="499.55" y2="439.30" stroke="#231f20" stroke-width="1.1"/>
<line x1="440.50" y1="421.20" x2="440.50" y2="466.50" stroke="#231f20" stroke-width="1.1"/>
<line x1="440.50" y1="466.00" x2="507.50" y2="466.00" stroke="#231f20" stroke-width="1.1"/>
<line x1="437.00" y1="466.00" x2="440.50" y2="466.00" stroke="#231f20" stroke-width="0.9"/>
<text x="434.70" y="468.40" font-size="7.0" text-anchor="end" fill="#231f20" stroke="#231f20" stroke-width="0.18">0</text>
<line x1="437.00" y1="453.17" x2="440.50" y2="453.17" stroke="#231f20" stroke-width="0.9"/>
<text x="434.70" y="455.57" font-size="7.0" text-anchor="end" fill="#231f20" stroke="#231f20" stroke-width="0.18">4</text>
<line x1="437.00" y1="440.33" x2="440.50" y2="440.33" stroke="#231f20" stroke-width="0.9"/>
<text x="434.70" y="442.73" font-size="7.0" text-anchor="end" fill="#231f20" stroke="#231f20" stroke-width="0.18">8</text>
<line x1="437.00" y1="427.50" x2="440.50" y2="427.50" stroke="#231f20" stroke-width="0.9"/>
<text x="434.70" y="429.90" font-size="7.0" text-anchor="end" fill="#231f20" stroke="#231f20" stroke-width="0.18">12</text>
<line x1="455.80" y1="466.00" x2="455.80" y2="469.00" stroke="#231f20" stroke-width="0.9"/>
<line x1="490.80" y1="466.00" x2="490.80" y2="469.00" stroke="#231f20" stroke-width="0.9"/>
<text x="455.80" y="478.30" font-size="7.2" text-anchor="middle" fill="#231f20" textLength="12.30" lengthAdjust="spacingAndGlyphs" stroke="#231f20" stroke-width="0.18">PBS</text>
<text x="490.80" y="478.30" font-size="7.2" text-anchor="middle" fill="#231f20" textLength="20.50" lengthAdjust="spacingAndGlyphs" stroke="#231f20" stroke-width="0.18">48 hpi</text>
<text x="473.20" y="413.80" font-size="8.6" text-anchor="middle" fill="#231f20" stroke="#231f20" stroke-width="0.1">P5</text>
<text x="420.40" y="443.00" font-size="8.6" text-anchor="middle" fill="#231f20" textLength="65.80" lengthAdjust="spacingAndGlyphs" transform="rotate(-90 420.40 443.00)" stroke="#231f20" stroke-width="0.1">Numbers ( x 10<tspan font-size="5.2" dy="-3.2">6</tspan><tspan dy="3.2">)</tspan></text>
<line x1="449.40" y1="435.30" x2="483.30" y2="435.30" stroke="#58595b" stroke-width="1.0"/>
<text x="466.30" y="435.60" font-size="6.5" text-anchor="middle" font-weight="bold" fill="#333" stroke="#333" stroke-width="0.2">*</text>
<line x1="482.90" y1="431.30" x2="498.10" y2="431.30" stroke="#58595b" stroke-width="1.0"/>
<text x="490.30" y="430.90" font-size="6.5" text-anchor="middle" font-weight="bold" fill="#333" stroke="#333" stroke-width="0.2">**</text>
<rect x="445.00" y="488.60" width="5.80" height="3.80" fill="#a73244" stroke="#a0182e" stroke-width="0.5"/>
<text x="452.70" y="492.60" font-size="7.1" text-anchor="start" fill="#231f20" textLength="10.60" lengthAdjust="spacingAndGlyphs" stroke="#231f20" stroke-width="0.18">WT</text>
<rect x="470.20" y="488.60" width="5.80" height="3.80" fill="#4b6289" stroke="#2c4877" stroke-width="0.5"/>
<text x="477.70" y="492.60" font-size="7.1" text-anchor="start" fill="#231f20" textLength="15.30" lengthAdjust="spacingAndGlyphs" stroke="#231f20" stroke-width="0.18">Cxcl1</text>
<text x="494.30" y="489.20" font-size="4.0" text-anchor="start" fill="#231f20" textLength="4.60" lengthAdjust="spacingAndGlyphs" stroke="#231f20" stroke-width="0.18">-/-</text>
</svg></body></html>
